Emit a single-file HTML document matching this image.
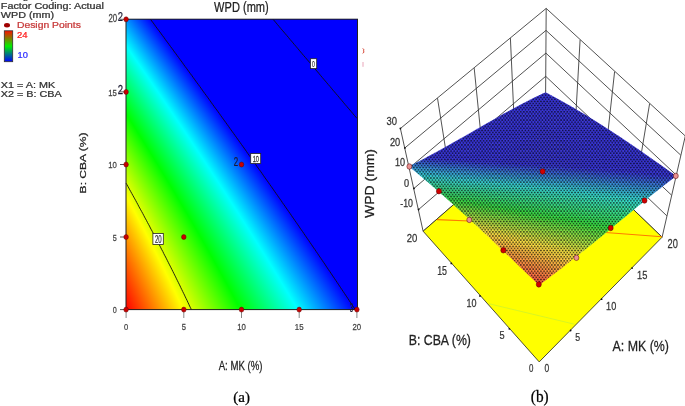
<!DOCTYPE html>
<html><head><meta charset="utf-8"><style>
html,body{margin:0;padding:0;background:#fff}
body{width:685px;height:406px;overflow:hidden;position:relative;font-family:"Liberation Sans",sans-serif;filter:blur(0.35px)}
#f div{position:absolute;left:126px;width:231px;height:1px}
svg{position:absolute;left:0;top:0}
text{stroke-width:.25px}
</style></head><body>
<div id="f">
<div style="top:19px;background:linear-gradient(90deg,#0093ff 0px,#0000ff 24.6px,#0000ff 231.5px)"></div>
<div style="top:20px;background:linear-gradient(90deg,#0097ff 0px,#0000ff 25.4px,#0000ff 231.5px)"></div>
<div style="top:21px;background:linear-gradient(90deg,#009bff 0px,#0000ff 26.1px,#0000ff 231.5px)"></div>
<div style="top:22px;background:linear-gradient(90deg,#009fff 0px,#0000ff 26.9px,#0000ff 231.5px)"></div>
<div style="top:23px;background:linear-gradient(90deg,#00a4ff 0px,#0000ff 27.6px,#0000ff 231.5px)"></div>
<div style="top:24px;background:linear-gradient(90deg,#00a8ff 0px,#0000ff 28.3px,#0000ff 231.5px)"></div>
<div style="top:25px;background:linear-gradient(90deg,#00acff 0px,#0000ff 29.1px,#0000ff 231.5px)"></div>
<div style="top:26px;background:linear-gradient(90deg,#00b0ff 0px,#0000ff 29.8px,#0000ff 231.5px)"></div>
<div style="top:27px;background:linear-gradient(90deg,#00b4ff 0px,#0000ff 30.5px,#0000ff 231.5px)"></div>
<div style="top:28px;background:linear-gradient(90deg,#00b9ff 0px,#0000ff 31.3px,#0000ff 231.5px)"></div>
<div style="top:29px;background:linear-gradient(90deg,#00bdff 0px,#0000ff 32px,#0000ff 231.5px)"></div>
<div style="top:30px;background:linear-gradient(90deg,#00c1ff 0px,#0000ff 32.8px,#0000ff 231.5px)"></div>
<div style="top:31px;background:linear-gradient(90deg,#00c5ff 0px,#0000ff 33.5px,#0000ff 231.5px)"></div>
<div style="top:32px;background:linear-gradient(90deg,#00c9ff 0px,#0000ff 34.2px,#0000ff 231.5px)"></div>
<div style="top:33px;background:linear-gradient(90deg,#00cdff 0px,#0000ff 35px,#0000ff 231.5px)"></div>
<div style="top:34px;background:linear-gradient(90deg,#00d2ff 0px,#0000ff 35.7px,#0000ff 231.5px)"></div>
<div style="top:35px;background:linear-gradient(90deg,#00d6ff 0px,#0000ff 36.4px,#0000ff 231.5px)"></div>
<div style="top:36px;background:linear-gradient(90deg,#00daff 0px,#0000ff 37.2px,#0000ff 231.5px)"></div>
<div style="top:37px;background:linear-gradient(90deg,#00deff 0px,#0000ff 37.9px,#0000ff 231.5px)"></div>
<div style="top:38px;background:linear-gradient(90deg,#00e2ff 0px,#0000ff 38.6px,#0000ff 231.5px)"></div>
<div style="top:39px;background:linear-gradient(90deg,#00e6ff 0px,#0000ff 39.4px,#0000ff 231.5px)"></div>
<div style="top:40px;background:linear-gradient(90deg,#00eaff 0px,#0000ff 40.1px,#0000ff 231.5px)"></div>
<div style="top:41px;background:linear-gradient(90deg,#00eeff 0px,#0000ff 40.9px,#0000ff 231.5px)"></div>
<div style="top:42px;background:linear-gradient(90deg,#00f2ff 0px,#0000ff 41.6px,#0000ff 231.5px)"></div>
<div style="top:43px;background:linear-gradient(90deg,#00f6ff 0px,#0000ff 42.3px,#0000ff 231.5px)"></div>
<div style="top:44px;background:linear-gradient(90deg,#00fbff 0px,#0000ff 43.1px,#0000ff 231.5px)"></div>
<div style="top:45px;background:linear-gradient(90deg,#00ffff 0px,#0000ff 43.8px,#0000ff 231.5px)"></div>
<div style="top:46px;background:linear-gradient(90deg,#00fffb 0px,#00ffff 0.6px,#0000ff 44.5px,#0000ff 231.5px)"></div>
<div style="top:47px;background:linear-gradient(90deg,#00fff7 0px,#00ffff 1.3px,#0000ff 45.3px,#0000ff 231.5px)"></div>
<div style="top:48px;background:linear-gradient(90deg,#00fff3 0px,#00ffff 2px,#0000ff 46px,#0000ff 231.5px)"></div>
<div style="top:49px;background:linear-gradient(90deg,#00ffef 0px,#00ffff 2.7px,#0000ff 46.7px,#0000ff 231.5px)"></div>
<div style="top:50px;background:linear-gradient(90deg,#00ffeb 0px,#00ffff 3.4px,#0000ff 47.5px,#0000ff 231.5px)"></div>
<div style="top:51px;background:linear-gradient(90deg,#00ffe7 0px,#00ffff 4.1px,#0000ff 48.2px,#0000ff 231.5px)"></div>
<div style="top:52px;background:linear-gradient(90deg,#00ffe3 0px,#00ffff 4.8px,#0000ff 48.9px,#0000ff 231.5px)"></div>
<div style="top:53px;background:linear-gradient(90deg,#00ffdf 0px,#00ffff 5.5px,#0000ff 49.7px,#0000ff 231.5px)"></div>
<div style="top:54px;background:linear-gradient(90deg,#00ffdb 0px,#00ffff 6.2px,#0000ff 50.4px,#0000ff 231.5px)"></div>
<div style="top:55px;background:linear-gradient(90deg,#00ffd7 0px,#00ffff 6.9px,#0000ff 51.1px,#0000ff 231.5px)"></div>
<div style="top:56px;background:linear-gradient(90deg,#00ffd3 0px,#00ffff 7.6px,#0000ff 51.9px,#0000ff 231.5px)"></div>
<div style="top:57px;background:linear-gradient(90deg,#00ffd0 0px,#00ffff 8.3px,#0000ff 52.6px,#0000ff 231.5px)"></div>
<div style="top:58px;background:linear-gradient(90deg,#00ffcc 0px,#00ffff 8.9px,#0000ff 53.3px,#0000ff 231.5px)"></div>
<div style="top:59px;background:linear-gradient(90deg,#00ffc8 0px,#00ffff 9.6px,#0000ff 54.1px,#0000ff 231.5px)"></div>
<div style="top:60px;background:linear-gradient(90deg,#00ffc4 0px,#00ffff 10.3px,#0000ff 54.8px,#0000ff 231.5px)"></div>
<div style="top:61px;background:linear-gradient(90deg,#00ffc0 0px,#00ffff 11px,#0000ff 55.5px,#0000ff 231.5px)"></div>
<div style="top:62px;background:linear-gradient(90deg,#00ffbc 0px,#00ffff 11.7px,#0000ff 56.2px,#0000ff 231.5px)"></div>
<div style="top:63px;background:linear-gradient(90deg,#00ffb8 0px,#00ffff 12.4px,#0000ff 57px,#0000ff 231.5px)"></div>
<div style="top:64px;background:linear-gradient(90deg,#00ffb4 0px,#00ffff 13.1px,#0000ff 57.7px,#0000ff 231.5px)"></div>
<div style="top:65px;background:linear-gradient(90deg,#00ffb0 0px,#00ffff 13.8px,#0000ff 58.4px,#0000ff 231.5px)"></div>
<div style="top:66px;background:linear-gradient(90deg,#00ffac 0px,#00ffff 14.5px,#0000ff 59.2px,#0000ff 231.5px)"></div>
<div style="top:67px;background:linear-gradient(90deg,#00ffa9 0px,#00ffff 15.2px,#0000ff 59.9px,#0000ff 231.5px)"></div>
<div style="top:68px;background:linear-gradient(90deg,#00ffa5 0px,#00ffff 15.8px,#0000ff 60.6px,#0000ff 231.5px)"></div>
<div style="top:69px;background:linear-gradient(90deg,#00ffa1 0px,#00ffff 16.5px,#0000ff 61.4px,#0000ff 231.5px)"></div>
<div style="top:70px;background:linear-gradient(90deg,#00ff9d 0px,#00ffff 17.2px,#0000ff 62.1px,#0000ff 231.5px)"></div>
<div style="top:71px;background:linear-gradient(90deg,#00ff99 0px,#00ffff 17.9px,#0000ff 62.8px,#0000ff 231.5px)"></div>
<div style="top:72px;background:linear-gradient(90deg,#00ff95 0px,#00ffff 18.6px,#0000ff 63.5px,#0000ff 231.5px)"></div>
<div style="top:73px;background:linear-gradient(90deg,#00ff92 0px,#00ffff 19.3px,#0000ff 64.3px,#0000ff 231.5px)"></div>
<div style="top:74px;background:linear-gradient(90deg,#00ff8e 0px,#00ffff 20px,#0000ff 65px,#0000ff 231.5px)"></div>
<div style="top:75px;background:linear-gradient(90deg,#00ff8a 0px,#00ffff 20.7px,#0000ff 65.7px,#0000ff 231.5px)"></div>
<div style="top:76px;background:linear-gradient(90deg,#00ff86 0px,#00ffff 21.4px,#0000ff 66.5px,#0000ff 231.5px)"></div>
<div style="top:77px;background:linear-gradient(90deg,#00ff82 0px,#00ffff 22px,#0000ff 67.2px,#0000ff 231.5px)"></div>
<div style="top:78px;background:linear-gradient(90deg,#00ff7f 0px,#00ffff 22.7px,#0000ff 67.9px,#0000ff 231.5px)"></div>
<div style="top:79px;background:linear-gradient(90deg,#00ff7b 0px,#00ffff 23.4px,#0000ff 68.6px,#0000ff 231.5px)"></div>
<div style="top:80px;background:linear-gradient(90deg,#00ff77 0px,#00ffff 24.1px,#0000ff 69.4px,#0000ff 231.5px)"></div>
<div style="top:81px;background:linear-gradient(90deg,#00ff73 0px,#00ffff 24.8px,#0000ff 70.1px,#0000ff 231.5px)"></div>
<div style="top:82px;background:linear-gradient(90deg,#00ff70 0px,#00ffff 25.5px,#0000ff 70.8px,#0000ff 231.5px)"></div>
<div style="top:83px;background:linear-gradient(90deg,#00ff6c 0px,#00ffff 26.2px,#0000ff 71.6px,#0000ff 231.5px)"></div>
<div style="top:84px;background:linear-gradient(90deg,#00ff68 0px,#00ffff 26.8px,#0000ff 72.3px,#0000ff 231.5px)"></div>
<div style="top:85px;background:linear-gradient(90deg,#00ff65 0px,#00ffff 27.5px,#0000ff 73px,#0000ff 231.5px)"></div>
<div style="top:86px;background:linear-gradient(90deg,#00ff61 0px,#00ffff 28.2px,#0000ff 73.7px,#0000ff 231.5px)"></div>
<div style="top:87px;background:linear-gradient(90deg,#00ff5d 0px,#00ffff 28.9px,#0000ff 74.5px,#0000ff 231.5px)"></div>
<div style="top:88px;background:linear-gradient(90deg,#00ff5a 0px,#00ffff 29.6px,#0000ff 75.2px,#0000ff 231.5px)"></div>
<div style="top:89px;background:linear-gradient(90deg,#00ff56 0px,#00ffff 30.3px,#0000ff 75.9px,#0000ff 231.5px)"></div>
<div style="top:90px;background:linear-gradient(90deg,#00ff52 0px,#00ffff 30.9px,#0000ff 76.6px,#0000ff 231.5px)"></div>
<div style="top:91px;background:linear-gradient(90deg,#00ff4f 0px,#00ffff 31.6px,#0000ff 77.4px,#0000ff 231.5px)"></div>
<div style="top:92px;background:linear-gradient(90deg,#00ff4b 0px,#00ffff 32.3px,#0000ff 78.1px,#0000ff 231.5px)"></div>
<div style="top:93px;background:linear-gradient(90deg,#00ff47 0px,#00ffff 33px,#0000ff 78.8px,#0000ff 231.5px)"></div>
<div style="top:94px;background:linear-gradient(90deg,#00ff44 0px,#00ffff 33.7px,#0000ff 79.5px,#0000ff 231.5px)"></div>
<div style="top:95px;background:linear-gradient(90deg,#00ff40 0px,#00ffff 34.4px,#0000ff 80.3px,#0000ff 231.5px)"></div>
<div style="top:96px;background:linear-gradient(90deg,#00ff3d 0px,#00ffff 35px,#0000ff 81px,#0000ff 231.5px)"></div>
<div style="top:97px;background:linear-gradient(90deg,#00ff39 0px,#00ffff 35.7px,#0000ff 81.7px,#0000ff 231.5px)"></div>
<div style="top:98px;background:linear-gradient(90deg,#00ff35 0px,#00ffff 36.4px,#0000ff 82.4px,#0000ff 231.5px)"></div>
<div style="top:99px;background:linear-gradient(90deg,#00ff32 0px,#00ffff 37.1px,#0000ff 83.2px,#0000ff 231.5px)"></div>
<div style="top:100px;background:linear-gradient(90deg,#00ff2e 0px,#00ffff 37.8px,#0000ff 83.9px,#0000ff 231.5px)"></div>
<div style="top:101px;background:linear-gradient(90deg,#00ff2b 0px,#00ffff 38.4px,#0000ff 84.6px,#0000ff 231.5px)"></div>
<div style="top:102px;background:linear-gradient(90deg,#00ff27 0px,#00ffff 39.1px,#0000ff 85.3px,#0000ff 231.5px)"></div>
<div style="top:103px;background:linear-gradient(90deg,#00ff24 0px,#00ffff 39.8px,#0000ff 86px,#0000ff 231.5px)"></div>
<div style="top:104px;background:linear-gradient(90deg,#00ff20 0px,#00ffff 40.5px,#0000ff 86.8px,#0000ff 231.5px)"></div>
<div style="top:105px;background:linear-gradient(90deg,#00ff1c 0px,#00ffff 41.1px,#0000ff 87.5px,#0000ff 231.5px)"></div>
<div style="top:106px;background:linear-gradient(90deg,#00ff19 0px,#00ffff 41.8px,#0000ff 88.2px,#0000ff 231.5px)"></div>
<div style="top:107px;background:linear-gradient(90deg,#00ff15 0px,#00ffff 42.5px,#0000ff 88.9px,#0000ff 231.5px)"></div>
<div style="top:108px;background:linear-gradient(90deg,#00ff12 0px,#00ffff 43.2px,#0000ff 89.7px,#0000ff 231.5px)"></div>
<div style="top:109px;background:linear-gradient(90deg,#00ff0e 0px,#00ffff 43.9px,#0000ff 90.4px,#0000ff 231.5px)"></div>
<div style="top:110px;background:linear-gradient(90deg,#00ff0b 0px,#00ffff 44.5px,#0000ff 91.1px,#0000ff 231.5px)"></div>
<div style="top:111px;background:linear-gradient(90deg,#00ff07 0px,#00ffff 45.2px,#0000ff 91.8px,#0000ff 231.5px)"></div>
<div style="top:112px;background:linear-gradient(90deg,#00ff04 0px,#00ffff 45.9px,#0000ff 92.5px,#0000ff 231.5px)"></div>
<div style="top:113px;background:linear-gradient(90deg,#00ff01 0px,#00ffff 46.6px,#0000ff 93.3px,#0000ff 231.5px)"></div>
<div style="top:114px;background:linear-gradient(90deg,#03ff00 0px,#00ff00 0.5px,#00ffff 47.2px,#0000ff 94px,#0000ff 231.5px)"></div>
<div style="top:115px;background:linear-gradient(90deg,#06ff00 0px,#00ff00 1.2px,#00ffff 47.9px,#0000ff 94.7px,#0000ff 231.5px)"></div>
<div style="top:116px;background:linear-gradient(90deg,#0aff00 0px,#00ff00 1.8px,#00ffff 48.6px,#0000ff 95.4px,#0000ff 231.5px)"></div>
<div style="top:117px;background:linear-gradient(90deg,#0dff00 0px,#00ff00 2.4px,#00ffff 49.3px,#0000ff 96.1px,#0000ff 231.5px)"></div>
<div style="top:118px;background:linear-gradient(90deg,#11ff00 0px,#00ff00 3px,#00ffff 49.9px,#0000ff 96.9px,#0000ff 231.5px)"></div>
<div style="top:119px;background:linear-gradient(90deg,#14ff00 0px,#00ff00 3.7px,#00ffff 50.6px,#0000ff 97.6px,#0000ff 231.5px)"></div>
<div style="top:120px;background:linear-gradient(90deg,#17ff00 0px,#00ff00 4.3px,#00ffff 51.3px,#0000ff 98.3px,#0000ff 231.5px)"></div>
<div style="top:121px;background:linear-gradient(90deg,#1bff00 0px,#00ff00 4.9px,#00ffff 52px,#0000ff 99px,#0000ff 231.5px)"></div>
<div style="top:122px;background:linear-gradient(90deg,#1eff00 0px,#00ff00 5.6px,#00ffff 52.6px,#0000ff 99.7px,#0000ff 231.5px)"></div>
<div style="top:123px;background:linear-gradient(90deg,#22ff00 0px,#00ff00 6.2px,#00ffff 53.3px,#0000ff 100.5px,#0000ff 231.5px)"></div>
<div style="top:124px;background:linear-gradient(90deg,#25ff00 0px,#00ff00 6.8px,#00ffff 54px,#0000ff 101.2px,#0000ff 231.5px)"></div>
<div style="top:125px;background:linear-gradient(90deg,#28ff00 0px,#00ff00 7.4px,#00ffff 54.7px,#0000ff 101.9px,#0000ff 231.5px)"></div>
<div style="top:126px;background:linear-gradient(90deg,#2cff00 0px,#00ff00 8.1px,#00ffff 55.3px,#0000ff 102.6px,#0000ff 231.5px)"></div>
<div style="top:127px;background:linear-gradient(90deg,#2fff00 0px,#00ff00 8.7px,#00ffff 56px,#0000ff 103.3px,#0000ff 231.5px)"></div>
<div style="top:128px;background:linear-gradient(90deg,#32ff00 0px,#00ff00 9.3px,#00ffff 56.7px,#0000ff 104px,#0000ff 231.5px)"></div>
<div style="top:129px;background:linear-gradient(90deg,#36ff00 0px,#00ff00 10px,#00ffff 57.3px,#0000ff 104.8px,#0000ff 231.5px)"></div>
<div style="top:130px;background:linear-gradient(90deg,#39ff00 0px,#00ff00 10.6px,#00ffff 58px,#0000ff 105.5px,#0000ff 231.5px)"></div>
<div style="top:131px;background:linear-gradient(90deg,#3cff00 0px,#00ff00 11.2px,#00ffff 58.7px,#0000ff 106.2px,#0000ff 231.5px)"></div>
<div style="top:132px;background:linear-gradient(90deg,#3fff00 0px,#00ff00 11.8px,#00ffff 59.4px,#0000ff 106.9px,#0000ff 231.5px)"></div>
<div style="top:133px;background:linear-gradient(90deg,#43ff00 0px,#00ff00 12.4px,#00ffff 60px,#0000ff 107.6px,#0000ff 231.5px)"></div>
<div style="top:134px;background:linear-gradient(90deg,#46ff00 0px,#00ff00 13.1px,#00ffff 60.7px,#0000ff 108.3px,#0000ff 231.5px)"></div>
<div style="top:135px;background:linear-gradient(90deg,#49ff00 0px,#00ff00 13.7px,#00ffff 61.4px,#0000ff 109.1px,#0000ff 231.5px)"></div>
<div style="top:136px;background:linear-gradient(90deg,#4dff00 0px,#00ff00 14.3px,#00ffff 62px,#0000ff 109.8px,#0000ff 231.5px)"></div>
<div style="top:137px;background:linear-gradient(90deg,#50ff00 0px,#00ff00 14.9px,#00ffff 62.7px,#0000ff 110.5px,#0000ff 231.5px)"></div>
<div style="top:138px;background:linear-gradient(90deg,#53ff00 0px,#00ff00 15.6px,#00ffff 63.4px,#0000ff 111.2px,#0000ff 231.5px)"></div>
<div style="top:139px;background:linear-gradient(90deg,#56ff00 0px,#00ff00 16.2px,#00ffff 64px,#0000ff 111.9px,#0000ff 231.5px)"></div>
<div style="top:140px;background:linear-gradient(90deg,#59ff00 0px,#00ff00 16.8px,#00ffff 64.7px,#0000ff 112.6px,#0000ff 231.5px)"></div>
<div style="top:141px;background:linear-gradient(90deg,#5dff00 0px,#00ff00 17.4px,#00ffff 65.4px,#0000ff 113.3px,#0000ff 231.5px)"></div>
<div style="top:142px;background:linear-gradient(90deg,#60ff00 0px,#00ff00 18px,#00ffff 66px,#0000ff 114.1px,#0000ff 231.5px)"></div>
<div style="top:143px;background:linear-gradient(90deg,#63ff00 0px,#00ff00 18.7px,#00ffff 66.7px,#0000ff 114.8px,#0000ff 231.5px)"></div>
<div style="top:144px;background:linear-gradient(90deg,#66ff00 0px,#00ff00 19.3px,#00ffff 67.4px,#0000ff 115.5px,#0000ff 231.5px)"></div>
<div style="top:145px;background:linear-gradient(90deg,#69ff00 0px,#00ff00 19.9px,#00ffff 68px,#0000ff 116.2px,#0000ff 231.5px)"></div>
<div style="top:146px;background:linear-gradient(90deg,#6dff00 0px,#00ff00 20.5px,#00ffff 68.7px,#0000ff 116.9px,#0000ff 231.5px)"></div>
<div style="top:147px;background:linear-gradient(90deg,#70ff00 0px,#00ff00 21.1px,#00ffff 69.4px,#0000ff 117.6px,#0000ff 231.5px)"></div>
<div style="top:148px;background:linear-gradient(90deg,#73ff00 0px,#00ff00 21.8px,#00ffff 70px,#0000ff 118.3px,#0000ff 231.5px)"></div>
<div style="top:149px;background:linear-gradient(90deg,#76ff00 0px,#00ff00 22.4px,#00ffff 70.7px,#0000ff 119px,#0000ff 231.5px)"></div>
<div style="top:150px;background:linear-gradient(90deg,#79ff00 0px,#00ff00 23px,#00ffff 71.4px,#0000ff 119.8px,#0000ff 231.5px)"></div>
<div style="top:151px;background:linear-gradient(90deg,#7cff00 0px,#00ff00 23.6px,#00ffff 72px,#0000ff 120.5px,#0000ff 231.5px)"></div>
<div style="top:152px;background:linear-gradient(90deg,#7fff00 0px,#00ff00 24.2px,#00ffff 72.7px,#0000ff 121.2px,#0000ff 231.5px)"></div>
<div style="top:153px;background:linear-gradient(90deg,#83ff00 0px,#00ff00 24.8px,#00ffff 73.3px,#0000ff 121.9px,#0000ff 231.5px)"></div>
<div style="top:154px;background:linear-gradient(90deg,#86ff00 0px,#00ff00 25.4px,#00ffff 74px,#0000ff 122.6px,#0000ff 231.5px)"></div>
<div style="top:155px;background:linear-gradient(90deg,#89ff00 0px,#00ff00 26.1px,#00ffff 74.7px,#0000ff 123.3px,#0000ff 231.5px)"></div>
<div style="top:156px;background:linear-gradient(90deg,#8cff00 0px,#00ff00 26.7px,#00ffff 75.3px,#0000ff 124px,#0000ff 231.5px)"></div>
<div style="top:157px;background:linear-gradient(90deg,#8fff00 0px,#00ff00 27.3px,#00ffff 76px,#0000ff 124.7px,#0000ff 231.5px)"></div>
<div style="top:158px;background:linear-gradient(90deg,#92ff00 0px,#00ff00 27.9px,#00ffff 76.7px,#0000ff 125.4px,#0000ff 231.5px)"></div>
<div style="top:159px;background:linear-gradient(90deg,#95ff00 0px,#00ff00 28.5px,#00ffff 77.3px,#0000ff 126.1px,#0000ff 231.5px)"></div>
<div style="top:160px;background:linear-gradient(90deg,#98ff00 0px,#00ff00 29.1px,#00ffff 78px,#0000ff 126.9px,#0000ff 231.5px)"></div>
<div style="top:161px;background:linear-gradient(90deg,#9bff00 0px,#00ff00 29.7px,#00ffff 78.6px,#0000ff 127.6px,#0000ff 231.5px)"></div>
<div style="top:162px;background:linear-gradient(90deg,#9eff00 0px,#00ff00 30.4px,#00ffff 79.3px,#0000ff 128.3px,#0000ff 231.5px)"></div>
<div style="top:163px;background:linear-gradient(90deg,#a1ff00 0px,#00ff00 31px,#00ffff 80px,#0000ff 129px,#0000ff 231.5px)"></div>
<div style="top:164px;background:linear-gradient(90deg,#a4ff00 0px,#00ff00 31.6px,#00ffff 80.6px,#0000ff 129.7px,#0000ff 231.5px)"></div>
<div style="top:165px;background:linear-gradient(90deg,#a7ff00 0px,#00ff00 32.2px,#00ffff 81.3px,#0000ff 130.4px,#0000ff 231.5px)"></div>
<div style="top:166px;background:linear-gradient(90deg,#aaff00 0px,#00ff00 32.8px,#00ffff 81.9px,#0000ff 131.1px,#0000ff 231.5px)"></div>
<div style="top:167px;background:linear-gradient(90deg,#adff00 0px,#00ff00 33.4px,#00ffff 82.6px,#0000ff 131.8px,#0000ff 231.5px)"></div>
<div style="top:168px;background:linear-gradient(90deg,#b0ff00 0px,#00ff00 34px,#00ffff 83.3px,#0000ff 132.5px,#0000ff 231.5px)"></div>
<div style="top:169px;background:linear-gradient(90deg,#b3ff00 0px,#00ff00 34.6px,#00ffff 83.9px,#0000ff 133.2px,#0000ff 231.5px)"></div>
<div style="top:170px;background:linear-gradient(90deg,#b6ff00 0px,#00ff00 35.2px,#00ffff 84.6px,#0000ff 133.9px,#0000ff 231.5px)"></div>
<div style="top:171px;background:linear-gradient(90deg,#b9ff00 0px,#00ff00 35.8px,#00ffff 85.2px,#0000ff 134.6px,#0000ff 231.5px)"></div>
<div style="top:172px;background:linear-gradient(90deg,#bcff00 0px,#00ff00 36.4px,#00ffff 85.9px,#0000ff 135.3px,#0000ff 231.5px)"></div>
<div style="top:173px;background:linear-gradient(90deg,#bfff00 0px,#00ff00 37px,#00ffff 86.5px,#0000ff 136.1px,#0000ff 231.5px)"></div>
<div style="top:174px;background:linear-gradient(90deg,#c2ff00 0px,#00ff00 37.6px,#00ffff 87.2px,#0000ff 136.8px,#0000ff 231.5px)"></div>
<div style="top:175px;background:linear-gradient(90deg,#c5ff00 0px,#00ff00 38.3px,#00ffff 87.8px,#0000ff 137.5px,#0000ff 231.5px)"></div>
<div style="top:176px;background:linear-gradient(90deg,#c8ff00 0px,#00ff00 38.9px,#00ffff 88.5px,#0000ff 138.2px,#0000ff 231.5px)"></div>
<div style="top:177px;background:linear-gradient(90deg,#cbff00 0px,#00ff00 39.5px,#00ffff 89.2px,#0000ff 138.9px,#0000ff 231.5px)"></div>
<div style="top:178px;background:linear-gradient(90deg,#ceff00 0px,#00ff00 40.1px,#00ffff 89.8px,#0000ff 139.6px,#0000ff 231.5px)"></div>
<div style="top:179px;background:linear-gradient(90deg,#d0ff00 0px,#00ff00 40.7px,#00ffff 90.5px,#0000ff 140.3px,#0000ff 231.5px)"></div>
<div style="top:180px;background:linear-gradient(90deg,#d3ff00 0px,#00ff00 41.3px,#00ffff 91.1px,#0000ff 141px,#0000ff 231.5px)"></div>
<div style="top:181px;background:linear-gradient(90deg,#d6ff00 0px,#00ff00 41.9px,#00ffff 91.8px,#0000ff 141.7px,#0000ff 231.5px)"></div>
<div style="top:182px;background:linear-gradient(90deg,#d9ff00 0px,#00ff00 42.5px,#00ffff 92.4px,#0000ff 142.4px,#0000ff 231.5px)"></div>
<div style="top:183px;background:linear-gradient(90deg,#dcff00 0px,#00ff00 43.1px,#00ffff 93.1px,#0000ff 143.1px,#0000ff 231.5px)"></div>
<div style="top:184px;background:linear-gradient(90deg,#dfff00 0px,#00ff00 43.7px,#00ffff 93.7px,#0000ff 143.8px,#0000ff 231.5px)"></div>
<div style="top:185px;background:linear-gradient(90deg,#e2ff00 0px,#00ff00 44.3px,#00ffff 94.4px,#0000ff 144.5px,#0000ff 231.5px)"></div>
<div style="top:186px;background:linear-gradient(90deg,#e4ff00 0px,#00ff00 44.9px,#00ffff 95px,#0000ff 145.2px,#0000ff 231.5px)"></div>
<div style="top:187px;background:linear-gradient(90deg,#e7ff00 0px,#00ff00 45.5px,#00ffff 95.7px,#0000ff 145.9px,#0000ff 231.5px)"></div>
<div style="top:188px;background:linear-gradient(90deg,#eaff00 0px,#00ff00 46.1px,#00ffff 96.3px,#0000ff 146.6px,#0000ff 231.5px)"></div>
<div style="top:189px;background:linear-gradient(90deg,#edff00 0px,#00ff00 46.7px,#00ffff 97px,#0000ff 147.3px,#0000ff 231.5px)"></div>
<div style="top:190px;background:linear-gradient(90deg,#f0ff00 0px,#00ff00 47.3px,#00ffff 97.6px,#0000ff 148px,#0000ff 231.5px)"></div>
<div style="top:191px;background:linear-gradient(90deg,#f2ff00 0px,#00ff00 47.9px,#00ffff 98.3px,#0000ff 148.7px,#0000ff 231.5px)"></div>
<div style="top:192px;background:linear-gradient(90deg,#f5ff00 0px,#00ff00 48.5px,#00ffff 98.9px,#0000ff 149.4px,#0000ff 231.5px)"></div>
<div style="top:193px;background:linear-gradient(90deg,#f8ff00 0px,#00ff00 49.1px,#00ffff 99.6px,#0000ff 150.1px,#0000ff 231.5px)"></div>
<div style="top:194px;background:linear-gradient(90deg,#fbff00 0px,#00ff00 49.7px,#00ffff 100.2px,#0000ff 150.8px,#0000ff 231.5px)"></div>
<div style="top:195px;background:linear-gradient(90deg,#fdff00 0px,#00ff00 50.3px,#00ffff 100.9px,#0000ff 151.5px,#0000ff 231.5px)"></div>
<div style="top:196px;background:linear-gradient(90deg,#fffe00 0px,#ffff00 0.2px,#00ff00 50.9px,#00ffff 101.5px,#0000ff 152.2px,#0000ff 231.5px)"></div>
<div style="top:197px;background:linear-gradient(90deg,#fffb00 0px,#ffff00 0.8px,#00ff00 51.4px,#00ffff 102.2px,#0000ff 152.9px,#0000ff 231.5px)"></div>
<div style="top:198px;background:linear-gradient(90deg,#fff800 0px,#ffff00 1.3px,#00ff00 52px,#00ffff 102.8px,#0000ff 153.6px,#0000ff 231.5px)"></div>
<div style="top:199px;background:linear-gradient(90deg,#fff600 0px,#ffff00 1.8px,#00ff00 52.6px,#00ffff 103.5px,#0000ff 154.3px,#0000ff 231.5px)"></div>
<div style="top:200px;background:linear-gradient(90deg,#fff300 0px,#ffff00 2.4px,#00ff00 53.2px,#00ffff 104.1px,#0000ff 155px,#0000ff 231.5px)"></div>
<div style="top:201px;background:linear-gradient(90deg,#fff000 0px,#ffff00 2.9px,#00ff00 53.8px,#00ffff 104.7px,#0000ff 155.7px,#0000ff 231.5px)"></div>
<div style="top:202px;background:linear-gradient(90deg,#ffee00 0px,#ffff00 3.5px,#00ff00 54.4px,#00ffff 105.4px,#0000ff 156.4px,#0000ff 231.5px)"></div>
<div style="top:203px;background:linear-gradient(90deg,#ffeb00 0px,#ffff00 4px,#00ff00 55px,#00ffff 106px,#0000ff 157.1px,#0000ff 231.5px)"></div>
<div style="top:204px;background:linear-gradient(90deg,#ffe800 0px,#ffff00 4.5px,#00ff00 55.6px,#00ffff 106.7px,#0000ff 157.8px,#0000ff 231.5px)"></div>
<div style="top:205px;background:linear-gradient(90deg,#ffe600 0px,#ffff00 5.1px,#00ff00 56.2px,#00ffff 107.3px,#0000ff 158.5px,#0000ff 231.5px)"></div>
<div style="top:206px;background:linear-gradient(90deg,#ffe300 0px,#ffff00 5.6px,#00ff00 56.8px,#00ffff 108px,#0000ff 159.2px,#0000ff 231.5px)"></div>
<div style="top:207px;background:linear-gradient(90deg,#ffe000 0px,#ffff00 6.1px,#00ff00 57.4px,#00ffff 108.6px,#0000ff 159.9px,#0000ff 231.5px)"></div>
<div style="top:208px;background:linear-gradient(90deg,#ffde00 0px,#ffff00 6.7px,#00ff00 58px,#00ffff 109.2px,#0000ff 160.6px,#0000ff 231.5px)"></div>
<div style="top:209px;background:linear-gradient(90deg,#ffdb00 0px,#ffff00 7.2px,#00ff00 58.5px,#00ffff 109.9px,#0000ff 161.3px,#0000ff 231.5px)"></div>
<div style="top:210px;background:linear-gradient(90deg,#ffd800 0px,#ffff00 7.8px,#00ff00 59.1px,#00ffff 110.5px,#0000ff 162px,#0000ff 231.5px)"></div>
<div style="top:211px;background:linear-gradient(90deg,#ffd600 0px,#ffff00 8.3px,#00ff00 59.7px,#00ffff 111.2px,#0000ff 162.7px,#0000ff 231.5px)"></div>
<div style="top:212px;background:linear-gradient(90deg,#ffd300 0px,#ffff00 8.8px,#00ff00 60.3px,#00ffff 111.8px,#0000ff 163.4px,#0000ff 231.5px)"></div>
<div style="top:213px;background:linear-gradient(90deg,#ffd100 0px,#ffff00 9.4px,#00ff00 60.9px,#00ffff 112.5px,#0000ff 164px,#0000ff 231.5px)"></div>
<div style="top:214px;background:linear-gradient(90deg,#ffce00 0px,#ffff00 9.9px,#00ff00 61.5px,#00ffff 113.1px,#0000ff 164.7px,#0000ff 231.5px)"></div>
<div style="top:215px;background:linear-gradient(90deg,#ffcc00 0px,#ffff00 10.4px,#00ff00 62.1px,#00ffff 113.7px,#0000ff 165.4px,#0000ff 231.5px)"></div>
<div style="top:216px;background:linear-gradient(90deg,#ffc900 0px,#ffff00 10.9px,#00ff00 62.6px,#00ffff 114.4px,#0000ff 166.1px,#0000ff 231.5px)"></div>
<div style="top:217px;background:linear-gradient(90deg,#ffc600 0px,#ffff00 11.5px,#00ff00 63.2px,#00ffff 115px,#0000ff 166.8px,#0000ff 231.5px)"></div>
<div style="top:218px;background:linear-gradient(90deg,#ffc400 0px,#ffff00 12px,#00ff00 63.8px,#00ffff 115.6px,#0000ff 167.5px,#0000ff 231.5px)"></div>
<div style="top:219px;background:linear-gradient(90deg,#ffc100 0px,#ffff00 12.5px,#00ff00 64.4px,#00ffff 116.3px,#0000ff 168.2px,#0000ff 231.5px)"></div>
<div style="top:220px;background:linear-gradient(90deg,#ffbf00 0px,#ffff00 13.1px,#00ff00 65px,#00ffff 116.9px,#0000ff 168.9px,#0000ff 231.5px)"></div>
<div style="top:221px;background:linear-gradient(90deg,#ffbc00 0px,#ffff00 13.6px,#00ff00 65.6px,#00ffff 117.6px,#0000ff 169.6px,#0000ff 231.5px)"></div>
<div style="top:222px;background:linear-gradient(90deg,#ffba00 0px,#ffff00 14.1px,#00ff00 66.1px,#00ffff 118.2px,#0000ff 170.3px,#0000ff 231.5px)"></div>
<div style="top:223px;background:linear-gradient(90deg,#ffb700 0px,#ffff00 14.6px,#00ff00 66.7px,#00ffff 118.8px,#0000ff 171px,#0000ff 231.5px)"></div>
<div style="top:224px;background:linear-gradient(90deg,#ffb500 0px,#ffff00 15.2px,#00ff00 67.3px,#00ffff 119.5px,#0000ff 171.7px,#0000ff 231.5px)"></div>
<div style="top:225px;background:linear-gradient(90deg,#ffb200 0px,#ffff00 15.7px,#00ff00 67.9px,#00ffff 120.1px,#0000ff 172.4px,#0000ff 231.5px)"></div>
<div style="top:226px;background:linear-gradient(90deg,#ffb000 0px,#ffff00 16.2px,#00ff00 68.5px,#00ffff 120.7px,#0000ff 173px,#0000ff 231.5px)"></div>
<div style="top:227px;background:linear-gradient(90deg,#ffad00 0px,#ffff00 16.7px,#00ff00 69px,#00ffff 121.4px,#0000ff 173.7px,#0000ff 231.5px)"></div>
<div style="top:228px;background:linear-gradient(90deg,#ffab00 0px,#ffff00 17.3px,#00ff00 69.6px,#00ffff 122px,#0000ff 174.4px,#0000ff 231.5px)"></div>
<div style="top:229px;background:linear-gradient(90deg,#ffa800 0px,#ffff00 17.8px,#00ff00 70.2px,#00ffff 122.6px,#0000ff 175.1px,#0000ff 231.5px)"></div>
<div style="top:230px;background:linear-gradient(90deg,#ffa600 0px,#ffff00 18.3px,#00ff00 70.8px,#00ffff 123.3px,#0000ff 175.8px,#0000ff 231.5px)"></div>
<div style="top:231px;background:linear-gradient(90deg,#ffa400 0px,#ffff00 18.8px,#00ff00 71.3px,#00ffff 123.9px,#0000ff 176.5px,#0000ff 231.5px)"></div>
<div style="top:232px;background:linear-gradient(90deg,#ffa100 0px,#ffff00 19.3px,#00ff00 71.9px,#00ffff 124.5px,#0000ff 177.2px,#0000ff 231.5px)"></div>
<div style="top:233px;background:linear-gradient(90deg,#ff9f00 0px,#ffff00 19.9px,#00ff00 72.5px,#00ffff 125.2px,#0000ff 177.9px,#0000ff 231.5px)"></div>
<div style="top:234px;background:linear-gradient(90deg,#ff9c00 0px,#ffff00 20.4px,#00ff00 73.1px,#00ffff 125.8px,#0000ff 178.6px,#0000ff 231.5px)"></div>
<div style="top:235px;background:linear-gradient(90deg,#ff9a00 0px,#ffff00 20.9px,#00ff00 73.6px,#00ffff 126.4px,#0000ff 179.2px,#0000ff 231.5px)"></div>
<div style="top:236px;background:linear-gradient(90deg,#ff9800 0px,#ffff00 21.4px,#00ff00 74.2px,#00ffff 127.1px,#0000ff 179.9px,#0000ff 231.5px)"></div>
<div style="top:237px;background:linear-gradient(90deg,#ff9500 0px,#ffff00 21.9px,#00ff00 74.8px,#00ffff 127.7px,#0000ff 180.6px,#0000ff 231.5px)"></div>
<div style="top:238px;background:linear-gradient(90deg,#ff9300 0px,#ffff00 22.4px,#00ff00 75.4px,#00ffff 128.3px,#0000ff 181.3px,#0000ff 231.5px)"></div>
<div style="top:239px;background:linear-gradient(90deg,#ff9000 0px,#ffff00 23px,#00ff00 75.9px,#00ffff 128.9px,#0000ff 182px,#0000ff 231.5px)"></div>
<div style="top:240px;background:linear-gradient(90deg,#ff8e00 0px,#ffff00 23.5px,#00ff00 76.5px,#00ffff 129.6px,#0000ff 182.7px,#0000ff 231.5px)"></div>
<div style="top:241px;background:linear-gradient(90deg,#ff8c00 0px,#ffff00 24px,#00ff00 77.1px,#00ffff 130.2px,#0000ff 183.4px,#0000ff 231.5px)"></div>
<div style="top:242px;background:linear-gradient(90deg,#ff8900 0px,#ffff00 24.5px,#00ff00 77.6px,#00ffff 130.8px,#0000ff 184px,#0000ff 231.5px)"></div>
<div style="top:243px;background:linear-gradient(90deg,#ff8700 0px,#ffff00 25px,#00ff00 78.2px,#00ffff 131.5px,#0000ff 184.7px,#0000ff 231.5px)"></div>
<div style="top:244px;background:linear-gradient(90deg,#ff8500 0px,#ffff00 25.5px,#00ff00 78.8px,#00ffff 132.1px,#0000ff 185.4px,#0000ff 231.5px)"></div>
<div style="top:245px;background:linear-gradient(90deg,#ff8200 0px,#ffff00 26px,#00ff00 79.4px,#00ffff 132.7px,#0000ff 186.1px,#0000ff 231.5px)"></div>
<div style="top:246px;background:linear-gradient(90deg,#ff8000 0px,#ffff00 26.5px,#00ff00 79.9px,#00ffff 133.3px,#0000ff 186.8px,#0000ff 231.5px)"></div>
<div style="top:247px;background:linear-gradient(90deg,#ff7e00 0px,#ffff00 27.1px,#00ff00 80.5px,#00ffff 134px,#0000ff 187.5px,#0000ff 231.5px)"></div>
<div style="top:248px;background:linear-gradient(90deg,#ff7c00 0px,#ffff00 27.6px,#00ff00 81.1px,#00ffff 134.6px,#0000ff 188.2px,#0000ff 231.5px)"></div>
<div style="top:249px;background:linear-gradient(90deg,#ff7900 0px,#ffff00 28.1px,#00ff00 81.6px,#00ffff 135.2px,#0000ff 188.8px,#0000ff 231.5px)"></div>
<div style="top:250px;background:linear-gradient(90deg,#ff7700 0px,#ffff00 28.6px,#00ff00 82.2px,#00ffff 135.8px,#0000ff 189.5px,#0000ff 231.5px)"></div>
<div style="top:251px;background:linear-gradient(90deg,#ff7500 0px,#ffff00 29.1px,#00ff00 82.8px,#00ffff 136.5px,#0000ff 190.2px,#0000ff 231.5px)"></div>
<div style="top:252px;background:linear-gradient(90deg,#ff7300 0px,#ffff00 29.6px,#00ff00 83.3px,#00ffff 137.1px,#0000ff 190.9px,#0000ff 231.5px)"></div>
<div style="top:253px;background:linear-gradient(90deg,#ff7000 0px,#ffff00 30.1px,#00ff00 83.9px,#00ffff 137.7px,#0000ff 191.6px,#0000ff 231.5px)"></div>
<div style="top:254px;background:linear-gradient(90deg,#ff6e00 0px,#ffff00 30.6px,#00ff00 84.4px,#00ffff 138.3px,#0000ff 192.2px,#0000ff 231.5px)"></div>
<div style="top:255px;background:linear-gradient(90deg,#ff6c00 0px,#ffff00 31.1px,#00ff00 85px,#00ffff 138.9px,#0000ff 192.9px,#0000ff 231.5px)"></div>
<div style="top:256px;background:linear-gradient(90deg,#ff6a00 0px,#ffff00 31.6px,#00ff00 85.6px,#00ffff 139.6px,#0000ff 193.6px,#0000ff 231.5px)"></div>
<div style="top:257px;background:linear-gradient(90deg,#ff6700 0px,#ffff00 32.1px,#00ff00 86.1px,#00ffff 140.2px,#0000ff 194.3px,#0000ff 231.5px)"></div>
<div style="top:258px;background:linear-gradient(90deg,#ff6500 0px,#ffff00 32.6px,#00ff00 86.7px,#00ffff 140.8px,#0000ff 195px,#0000ff 231.5px)"></div>
<div style="top:259px;background:linear-gradient(90deg,#ff6300 0px,#ffff00 33.1px,#00ff00 87.2px,#00ffff 141.4px,#0000ff 195.6px,#0000ff 231.5px)"></div>
<div style="top:260px;background:linear-gradient(90deg,#ff6100 0px,#ffff00 33.6px,#00ff00 87.8px,#00ffff 142px,#0000ff 196.3px,#0000ff 231.5px)"></div>
<div style="top:261px;background:linear-gradient(90deg,#ff5f00 0px,#ffff00 34.1px,#00ff00 88.4px,#00ffff 142.7px,#0000ff 197px,#0000ff 231.5px)"></div>
<div style="top:262px;background:linear-gradient(90deg,#ff5c00 0px,#ffff00 34.6px,#00ff00 88.9px,#00ffff 143.3px,#0000ff 197.7px,#0000ff 231.5px)"></div>
<div style="top:263px;background:linear-gradient(90deg,#ff5a00 0px,#ffff00 35.1px,#00ff00 89.5px,#00ffff 143.9px,#0000ff 198.4px,#0000ff 231.5px)"></div>
<div style="top:264px;background:linear-gradient(90deg,#ff5800 0px,#ffff00 35.6px,#00ff00 90px,#00ffff 144.5px,#0000ff 199px,#0000ff 231.5px)"></div>
<div style="top:265px;background:linear-gradient(90deg,#ff5600 0px,#ffff00 36.1px,#00ff00 90.6px,#00ffff 145.1px,#0000ff 199.7px,#0000ff 231.5px)"></div>
<div style="top:266px;background:linear-gradient(90deg,#ff5400 0px,#ffff00 36.6px,#00ff00 91.2px,#00ffff 145.7px,#0000ff 200.4px,#0000ff 231.5px)"></div>
<div style="top:267px;background:linear-gradient(90deg,#ff5200 0px,#ffff00 37.1px,#00ff00 91.7px,#00ffff 146.4px,#0000ff 201.1px,#0000ff 231.5px)"></div>
<div style="top:268px;background:linear-gradient(90deg,#ff5000 0px,#ffff00 37.6px,#00ff00 92.3px,#00ffff 147px,#0000ff 201.7px,#0000ff 231.5px)"></div>
<div style="top:269px;background:linear-gradient(90deg,#ff4e00 0px,#ffff00 38.1px,#00ff00 92.8px,#00ffff 147.6px,#0000ff 202.4px,#0000ff 231.5px)"></div>
<div style="top:270px;background:linear-gradient(90deg,#ff4b00 0px,#ffff00 38.6px,#00ff00 93.4px,#00ffff 148.2px,#0000ff 203.1px,#0000ff 231.5px)"></div>
<div style="top:271px;background:linear-gradient(90deg,#ff4900 0px,#ffff00 39.1px,#00ff00 93.9px,#00ffff 148.8px,#0000ff 203.8px,#0000ff 231.5px)"></div>
<div style="top:272px;background:linear-gradient(90deg,#ff4700 0px,#ffff00 39.5px,#00ff00 94.5px,#00ffff 149.4px,#0000ff 204.4px,#0000ff 231.5px)"></div>
<div style="top:273px;background:linear-gradient(90deg,#ff4500 0px,#ffff00 40px,#00ff00 95px,#00ffff 150px,#0000ff 205.1px,#0000ff 231.5px)"></div>
<div style="top:274px;background:linear-gradient(90deg,#ff4300 0px,#ffff00 40.5px,#00ff00 95.6px,#00ffff 150.7px,#0000ff 205.8px,#0000ff 231.5px)"></div>
<div style="top:275px;background:linear-gradient(90deg,#ff4100 0px,#ffff00 41px,#00ff00 96.1px,#00ffff 151.3px,#0000ff 206.5px,#0000ff 231.5px)"></div>
<div style="top:276px;background:linear-gradient(90deg,#ff3f00 0px,#ffff00 41.5px,#00ff00 96.7px,#00ffff 151.9px,#0000ff 207.1px,#0000ff 231.5px)"></div>
<div style="top:277px;background:linear-gradient(90deg,#ff3d00 0px,#ffff00 42px,#00ff00 97.2px,#00ffff 152.5px,#0000ff 207.8px,#0000ff 231.5px)"></div>
<div style="top:278px;background:linear-gradient(90deg,#ff3b00 0px,#ffff00 42.5px,#00ff00 97.8px,#00ffff 153.1px,#0000ff 208.5px,#0000ff 231.5px)"></div>
<div style="top:279px;background:linear-gradient(90deg,#ff3900 0px,#ffff00 43px,#00ff00 98.3px,#00ffff 153.7px,#0000ff 209.2px,#0000ff 231.5px)"></div>
<div style="top:280px;background:linear-gradient(90deg,#ff3700 0px,#ffff00 43.4px,#00ff00 98.9px,#00ffff 154.3px,#0000ff 209.8px,#0000ff 231.5px)"></div>
<div style="top:281px;background:linear-gradient(90deg,#ff3500 0px,#ffff00 43.9px,#00ff00 99.4px,#00ffff 154.9px,#0000ff 210.5px,#0000ff 231.5px)"></div>
<div style="top:282px;background:linear-gradient(90deg,#ff3300 0px,#ffff00 44.4px,#00ff00 100px,#00ffff 155.5px,#0000ff 211.2px,#0000ff 231.5px)"></div>
<div style="top:283px;background:linear-gradient(90deg,#ff3100 0px,#ffff00 44.9px,#00ff00 100.5px,#00ffff 156.1px,#0000ff 211.8px,#0000ff 231.5px)"></div>
<div style="top:284px;background:linear-gradient(90deg,#ff2f00 0px,#ffff00 45.4px,#00ff00 101px,#00ffff 156.8px,#0000ff 212.5px,#0000ff 231.5px)"></div>
<div style="top:285px;background:linear-gradient(90deg,#ff2d00 0px,#ffff00 45.8px,#00ff00 101.6px,#00ffff 157.4px,#0000ff 213.2px,#0000ff 231.5px)"></div>
<div style="top:286px;background:linear-gradient(90deg,#ff2b00 0px,#ffff00 46.3px,#00ff00 102.1px,#00ffff 158px,#0000ff 213.8px,#0000ff 231.5px)"></div>
<div style="top:287px;background:linear-gradient(90deg,#ff2900 0px,#ffff00 46.8px,#00ff00 102.7px,#00ffff 158.6px,#0000ff 214.5px,#0000ff 231.5px)"></div>
<div style="top:288px;background:linear-gradient(90deg,#ff2700 0px,#ffff00 47.3px,#00ff00 103.2px,#00ffff 159.2px,#0000ff 215.2px,#0000ff 231.5px)"></div>
<div style="top:289px;background:linear-gradient(90deg,#ff2500 0px,#ffff00 47.8px,#00ff00 103.8px,#00ffff 159.8px,#0000ff 215.8px,#0000ff 231.5px)"></div>
<div style="top:290px;background:linear-gradient(90deg,#ff2300 0px,#ffff00 48.2px,#00ff00 104.3px,#00ffff 160.4px,#0000ff 216.5px,#0000ff 231.5px)"></div>
<div style="top:291px;background:linear-gradient(90deg,#ff2100 0px,#ffff00 48.7px,#00ff00 104.8px,#00ffff 161px,#0000ff 217.2px,#0000ff 231.5px)"></div>
<div style="top:292px;background:linear-gradient(90deg,#ff2000 0px,#ffff00 49.2px,#00ff00 105.4px,#00ffff 161.6px,#0000ff 217.9px,#0000ff 231.5px)"></div>
<div style="top:293px;background:linear-gradient(90deg,#ff1e00 0px,#ffff00 49.7px,#00ff00 105.9px,#00ffff 162.2px,#0000ff 218.5px,#0000ff 231.5px)"></div>
<div style="top:294px;background:linear-gradient(90deg,#ff1c00 0px,#ffff00 50.1px,#00ff00 106.4px,#00ffff 162.8px,#0000ff 219.2px,#0000ff 231.5px)"></div>
<div style="top:295px;background:linear-gradient(90deg,#ff1a00 0px,#ffff00 50.6px,#00ff00 107px,#00ffff 163.4px,#0000ff 219.8px,#0000ff 231.5px)"></div>
<div style="top:296px;background:linear-gradient(90deg,#ff1800 0px,#ffff00 51.1px,#00ff00 107.5px,#00ffff 164px,#0000ff 220.5px,#0000ff 231.5px)"></div>
<div style="top:297px;background:linear-gradient(90deg,#ff1600 0px,#ffff00 51.5px,#00ff00 108.1px,#00ffff 164.6px,#0000ff 221.2px,#0000ff 231.5px)"></div>
<div style="top:298px;background:linear-gradient(90deg,#ff1400 0px,#ffff00 52px,#00ff00 108.6px,#00ffff 165.2px,#0000ff 221.8px,#0000ff 231.5px)"></div>
<div style="top:299px;background:linear-gradient(90deg,#ff1300 0px,#ffff00 52.5px,#00ff00 109.1px,#00ffff 165.8px,#0000ff 222.5px,#0000ff 231.5px)"></div>
<div style="top:300px;background:linear-gradient(90deg,#ff1100 0px,#ffff00 53px,#00ff00 109.7px,#00ffff 166.4px,#0000ff 223.2px,#0000ff 231.5px)"></div>
<div style="top:301px;background:linear-gradient(90deg,#ff0f00 0px,#ffff00 53.4px,#00ff00 110.2px,#00ffff 167px,#0000ff 223.8px,#0000ff 231.5px)"></div>
<div style="top:302px;background:linear-gradient(90deg,#ff0d00 0px,#ffff00 53.9px,#00ff00 110.7px,#00ffff 167.6px,#0000ff 224.5px,#0000ff 231.5px)"></div>
<div style="top:303px;background:linear-gradient(90deg,#ff0b00 0px,#ffff00 54.4px,#00ff00 111.2px,#00ffff 168.2px,#0000ff 225.2px,#0000ff 231.5px)"></div>
<div style="top:304px;background:linear-gradient(90deg,#ff0900 0px,#ffff00 54.8px,#00ff00 111.8px,#00ffff 168.8px,#0000ff 225.8px,#0000ff 231.5px)"></div>
<div style="top:305px;background:linear-gradient(90deg,#ff0800 0px,#ffff00 55.3px,#00ff00 112.3px,#00ffff 169.4px,#0000ff 226.5px,#0000ff 231.5px)"></div>
<div style="top:306px;background:linear-gradient(90deg,#ff0600 0px,#ffff00 55.7px,#00ff00 112.8px,#00ffff 170px,#0000ff 227.1px,#0000ff 231.5px)"></div>
<div style="top:307px;background:linear-gradient(90deg,#ff0400 0px,#ffff00 56.2px,#00ff00 113.4px,#00ffff 170.6px,#0000ff 227.8px,#0000ff 231.5px)"></div>
<div style="top:308px;background:linear-gradient(90deg,#ff0200 0px,#ffff00 56.7px,#00ff00 113.9px,#00ffff 171.2px,#0000ff 228.5px,#0000ff 231.5px)"></div>
<div style="top:309px;background:linear-gradient(90deg,#ff0100 0px,#ffff00 57.1px,#00ff00 114.4px,#00ffff 171.8px,#0000ff 229.1px,#0000ff 231.5px)"></div>
</div>
<svg width="685" height="406" viewBox="0 0 685 406" font-family="Liberation Sans, sans-serif">
<text transform="translate(0.8 -0.9) scale(1.2 1)" font-size="9" fill="#333" stroke="#333">Design-Expert® Software</text>
<text transform="translate(0.8 8.7) scale(1.2 1)" font-size="9" fill="#333" stroke="#333">Factor Coding: Actual</text>
<text transform="translate(0.8 18.4) scale(1.2 1)" font-size="9" fill="#333" stroke="#333">WPD (mm)</text>
<ellipse cx="7" cy="25.3" rx="3" ry="2.2" fill="#a00000"/>
<text transform="translate(16.9 28.1) scale(1.237 1)" font-size="8.4" fill="#c83c3c" stroke="#c83c3c">Design Points</text>
<defs><linearGradient id="cb" x1="0" y1="0" x2="0" y2="1"><stop offset="0" stop-color="#ff1000"/><stop offset="0.5" stop-color="#00f000"/><stop offset="1" stop-color="#0000ff"/></linearGradient></defs>
<rect x="4.3" y="30.8" width="8.4" height="30.9" fill="url(#cb)" stroke="#303030" stroke-width="0.8"/>
<text transform="translate(16.9 38.2) scale(1.104 1)" font-size="8.6" fill="#ff2020" stroke="#ff2020">24</text>
<text transform="translate(17.5 57.7) scale(1.12 1)" font-size="8.3" fill="#3030ff" stroke="#3030ff">10</text>
<text transform="translate(0.8 87.8) scale(1.2 1)" font-size="9" fill="#333" stroke="#333">X1 = A: MK</text>
<text transform="translate(0.8 97.3) scale(1.2 1)" font-size="9" fill="#333" stroke="#333">X2 = B: CBA</text>
<path d="M191.4 309.6 L190.5 307.8 L189.6 306 L188.8 304.2 L187.9 302.3 L187.1 300.5 L186.2 298.7 L185.3 296.9 L184.5 295.1 L183.6 293.3 L182.7 291.5 L181.8 289.6 L180.9 287.8 L180.1 286 L179.2 284.2 L178.3 282.4 L177.4 280.6 L176.5 278.8 L175.6 276.9 L174.7 275.1 L173.8 273.3 L172.9 271.5 L172 269.7 L171.1 267.9 L170.2 266.1 L169.2 264.2 L168.3 262.4 L167.4 260.6 L166.5 258.8 L165.6 257 L164.6 255.2 L163.7 253.4 L162.8 251.5 L161.8 249.7 L160.9 247.9 L160 246.1 L159 244.3 L158.1 242.5 L157.1 240.7 L156.2 238.8 L155.2 237 L154.3 235.2 L153.3 233.4 L152.4 231.6 L151.4 229.8 L150.4 228 L149.5 226.1 L148.5 224.3 L147.5 222.5 L146.6 220.7 L145.6 218.9 L144.6 217.1 L143.7 215.3 L142.7 213.4 L141.7 211.6 L140.7 209.8 L139.7 208 L138.7 206.2 L137.8 204.4 L136.8 202.6 L135.8 200.7 L134.8 198.9 L133.8 197.1 L132.8 195.3 L131.8 193.5 L130.8 191.7 L129.8 189.9 L128.8 188 L127.8 186.2 L126.8 184.4 L126.1 183.2" fill="none" stroke="#101010" stroke-width="0.9"/>
<path d="M355.2 309.6 L354 307.8 L352.8 306 L351.6 304.2 L350.4 302.3 L349.2 300.5 L348 298.7 L346.8 296.9 L345.6 295.1 L344.4 293.3 L343.2 291.5 L341.9 289.6 L340.7 287.8 L339.5 286 L338.3 284.2 L337.1 282.4 L335.9 280.6 L334.7 278.8 L333.4 276.9 L332.2 275.1 L331 273.3 L329.8 271.5 L328.5 269.7 L327.3 267.9 L326.1 266.1 L324.9 264.2 L323.6 262.4 L322.4 260.6 L321.2 258.8 L319.9 257 L318.7 255.2 L317.5 253.4 L316.2 251.5 L315 249.7 L313.7 247.9 L312.5 246.1 L311.3 244.3 L310 242.5 L308.8 240.7 L307.5 238.8 L306.3 237 L305 235.2 L303.8 233.4 L302.6 231.6 L301.3 229.8 L300 228 L298.8 226.1 L297.5 224.3 L296.3 222.5 L295 220.7 L293.8 218.9 L292.5 217.1 L291.3 215.3 L290 213.4 L288.7 211.6 L287.5 209.8 L286.2 208 L285 206.2 L283.7 204.4 L282.4 202.6 L281.2 200.7 L279.9 198.9 L278.6 197.1 L277.4 195.3 L276.1 193.5 L274.8 191.7 L273.6 189.9 L272.3 188 L271 186.2 L269.7 184.4 L268.5 182.6 L267.2 180.8 L265.9 179 L264.6 177.2 L263.3 175.3 L262.1 173.5 L260.8 171.7 L259.5 169.9 L258.2 168.1 L256.9 166.3 L255.7 164.5 L254.4 162.6 L253.1 160.8 L251.8 159 L250.5 157.2 L249.2 155.4 L247.9 153.6 L246.6 151.7 L245.4 149.9 L244.1 148.1 L242.8 146.3 L241.5 144.5 L240.2 142.7 L238.9 140.9 L237.6 139 L236.3 137.2 L235 135.4 L233.7 133.6 L232.4 131.8 L231.1 130 L229.8 128.2 L228.5 126.3 L227.2 124.5 L225.9 122.7 L224.6 120.9 L223.3 119.1 L222 117.3 L220.7 115.5 L219.4 113.6 L218.1 111.8 L216.8 110 L215.4 108.2 L214.1 106.4 L212.8 104.6 L211.5 102.8 L210.2 100.9 L208.9 99.1 L207.6 97.3 L206.3 95.5 L204.9 93.7 L203.6 91.9 L202.3 90.1 L201 88.2 L199.7 86.4 L198.4 84.6 L197 82.8 L195.7 81 L194.4 79.2 L193.1 77.4 L191.8 75.5 L190.4 73.7 L189.1 71.9 L187.8 70.1 L186.5 68.3 L185.1 66.5 L183.8 64.7 L182.5 62.8 L181.2 61 L179.8 59.2 L178.5 57.4 L177.2 55.6 L175.9 53.8 L174.5 52 L173.2 50.1 L171.9 48.3 L170.5 46.5 L169.2 44.7 L167.9 42.9 L166.5 41.1 L165.2 39.3 L163.9 37.4 L162.5 35.6 L161.2 33.8 L159.9 32 L158.5 30.2 L157.2 28.4 L155.8 26.6 L154.5 24.7 L153.2 22.9 L151.8 21.1 L150.5 19.3" fill="none" stroke="#101010" stroke-width="0.9"/>
<path d="M356.9 118.3 L356 117.3 L354.5 115.5 L352.9 113.6 L351.4 111.8 L349.9 110 L348.3 108.2 L346.8 106.4 L345.2 104.6 L343.7 102.8 L342.2 100.9 L340.6 99.1 L339.1 97.3 L337.6 95.5 L336 93.7 L334.5 91.9 L332.9 90.1 L331.4 88.2 L329.9 86.4 L328.3 84.6 L326.8 82.8 L325.3 81 L323.7 79.2 L322.2 77.4 L320.6 75.5 L319.1 73.7 L317.6 71.9 L316 70.1 L314.5 68.3 L313 66.5 L311.4 64.7 L309.9 62.8 L308.4 61 L306.8 59.2 L305.3 57.4 L303.7 55.6 L302.2 53.8 L300.7 52 L299.1 50.1 L297.6 48.3 L296.1 46.5 L294.5 44.7 L293 42.9 L291.5 41.1 L289.9 39.3 L288.4 37.4 L286.9 35.6 L285.3 33.8 L283.8 32 L282.2 30.2 L280.7 28.4 L279.2 26.6 L277.6 24.7 L276.1 22.9 L274.6 21.1 L273 19.3" fill="none" stroke="#101010" stroke-width="0.9"/>
<rect x="126" y="19.2" width="231.5" height="290.4" fill="none" stroke="#202020" stroke-width="1"/>
<line x1="126.1" y1="310" x2="126.1" y2="318" stroke="#888" stroke-width="1"/>
<text transform="translate(124 330) scale(0.803 1)" font-size="9.4" fill="#444" stroke="#444">0</text>
<line x1="120" y1="309.6" x2="126" y2="309.6" stroke="#555" stroke-width="1"/>
<text transform="translate(112.8 313.4) scale(0.753 1)" font-size="9.6" fill="#444" stroke="#444">0</text>
<line x1="183.8" y1="310" x2="183.8" y2="318" stroke="#888" stroke-width="1"/>
<text transform="translate(181.7 330) scale(0.791 1)" font-size="9.6" fill="#444" stroke="#444">5</text>
<line x1="120" y1="237" x2="126" y2="237" stroke="#555" stroke-width="1"/>
<text transform="translate(112.8 240.8) scale(0.742 1)" font-size="9.7" fill="#444" stroke="#444">5</text>
<line x1="241.5" y1="310" x2="241.5" y2="318" stroke="#888" stroke-width="1"/>
<text transform="translate(237.2 330) scale(0.831 1)" font-size="9.4" fill="#444" stroke="#444">10</text>
<line x1="120" y1="164.5" x2="126" y2="164.5" stroke="#555" stroke-width="1"/>
<text transform="translate(108.2 168.3) scale(0.809 1)" font-size="9.6" fill="#444" stroke="#444">10</text>
<line x1="299.2" y1="310" x2="299.2" y2="318" stroke="#888" stroke-width="1"/>
<text transform="translate(294.8 330) scale(0.819 1)" font-size="9.6" fill="#444" stroke="#444">15</text>
<line x1="120" y1="91.9" x2="126" y2="91.9" stroke="#555" stroke-width="1"/>
<text transform="translate(108.2 95.7) scale(0.798 1)" font-size="9.7" fill="#444" stroke="#444">15</text>
<line x1="356.9" y1="310" x2="356.9" y2="318" stroke="#888" stroke-width="1"/>
<text transform="translate(352.5 330) scale(0.831 1)" font-size="9.4" fill="#444" stroke="#444">20</text>
<line x1="120" y1="19.3" x2="126" y2="19.3" stroke="#555" stroke-width="1"/>
<text transform="translate(108.4 21.8) scale(0.773 1)" font-size="10.1" fill="#444" stroke="#444">20</text>
<rect x="152.9" y="233.5" width="10.4" height="10.9" fill="#fff" stroke="#222" stroke-width="0.8"/>
<text transform="translate(154.9 242.9) scale(0.579 1)" font-size="10.4" fill="#333" stroke="#333">20</text>
<rect x="250.7" y="153.5" width="10" height="10" fill="#fff" stroke="#222" stroke-width="0.8"/>
<text transform="translate(252.7 162) scale(0.584 1)" font-size="9.7" fill="#333" stroke="#333">10</text>
<rect x="310.4" y="58.7" width="6.3" height="9.9" fill="#fff" stroke="#222" stroke-width="0.8"/>
<text transform="translate(312 66.9) scale(0.527 1)" font-size="9.6" fill="#333" stroke="#333">0</text>
<ellipse cx="126.1" cy="309.6" rx="2.3" ry="2.5" fill="#c80000" stroke="#600" stroke-width="0.5"/>
<ellipse cx="183.8" cy="309.6" rx="2.3" ry="2.5" fill="#c80000" stroke="#600" stroke-width="0.5"/>
<ellipse cx="241.5" cy="309.6" rx="2.3" ry="2.5" fill="#c80000" stroke="#600" stroke-width="0.5"/>
<ellipse cx="299.2" cy="309.6" rx="2.3" ry="2.5" fill="#c80000" stroke="#600" stroke-width="0.5"/>
<ellipse cx="356.9" cy="309.6" rx="2.3" ry="2.5" fill="#c80000" stroke="#600" stroke-width="0.5"/>
<ellipse cx="126.1" cy="237" rx="2.3" ry="2.5" fill="#c80000" stroke="#600" stroke-width="0.5"/>
<ellipse cx="183.8" cy="237" rx="2.3" ry="2.5" fill="#c80000" stroke="#600" stroke-width="0.5"/>
<ellipse cx="126.1" cy="164.5" rx="2.3" ry="2.5" fill="#c80000" stroke="#600" stroke-width="0.5"/>
<ellipse cx="241.5" cy="164.5" rx="2.3" ry="2.5" fill="#c80000" stroke="#600" stroke-width="0.5"/>
<ellipse cx="126.1" cy="91.9" rx="2.3" ry="2.5" fill="#c80000" stroke="#600" stroke-width="0.5"/>
<ellipse cx="126.1" cy="19.3" rx="2.3" ry="2.5" fill="#c80000" stroke="#600" stroke-width="0.5"/>
<text transform="translate(117.8 21.1) scale(0.754 1)" font-size="12.4" fill="#1a1a30" stroke="#1a1a30">2</text>
<text transform="translate(117.8 94) scale(0.786 1)" font-size="12.1" fill="#1a1a30" stroke="#1a1a30">2</text>
<text transform="translate(233.8 166.1) scale(0.661 1)" font-size="12" fill="#1a1a30" stroke="#1a1a30">2</text>
<text transform="translate(349.8 311.6) scale(0.517 1)" font-size="11.9" fill="#1a1a30" stroke="#1a1a30">3</text>
<text transform="translate(214.1 12.4) scale(0.779 1)" font-size="14.2" fill="#222" stroke="#222">WPD (mm)</text>
<text transform="translate(218.7 369.8) scale(0.764 1)" font-size="12.6" fill="#222" stroke="#222">A: MK (%)</text>
<text transform="translate(85.8 193.4) rotate(-90) scale(1.216 1)" font-size="9.9" fill="#222" stroke="#222">B: CBA (%)</text>
<text transform="translate(233.3 401.6) scale(1.053 1)" font-size="14.3" fill="#000" stroke="#000" font-family="Liberation Serif">(a)</text>
<text transform="translate(530.8 402.3) scale(0.964 1)" font-size="15.9" fill="#000" stroke="#000" font-family="Liberation Serif">(b)</text>
<text transform="translate(408.8 344.6) scale(0.884 1)" font-size="13.9" fill="#222" stroke="#222">B: CBA (%)</text>
<text transform="translate(612.5 350.7) scale(0.806 1)" font-size="15.4" fill="#222" stroke="#222">A: MK (%)</text>
<text transform="translate(373.7 217.9) rotate(-90) scale(1.026 1)" font-size="13.6" fill="#222" stroke="#222">WPD (mm)</text>
<text transform="translate(386.4 125.3) scale(0.838 1)" font-size="11.3" fill="#333" stroke="#333">30</text>
<text transform="translate(389.9 145.5) scale(0.844 1)" font-size="11" fill="#333" stroke="#333">20</text>
<text transform="translate(394.9 166.3) scale(0.849 1)" font-size="10.7" fill="#333" stroke="#333">10</text>
<text transform="translate(403.9 186.5) scale(0.893 1)" font-size="10.3" fill="#333" stroke="#333">0</text>
<text transform="translate(400.2 206.8) scale(0.775 1)" font-size="11.4" fill="#333" stroke="#333">-10</text>
<text transform="translate(406.7 242.2) scale(0.815 1)" font-size="11.7" fill="#333" stroke="#333">20</text>
<text transform="translate(437.2 274.8) scale(0.743 1)" font-size="11.9" fill="#333" stroke="#333">15</text>
<text transform="translate(466.5 306.9) scale(0.769 1)" font-size="11.7" fill="#333" stroke="#333">10</text>
<text transform="translate(499.6 339.4) scale(0.783 1)" font-size="11.7" fill="#333" stroke="#333">5</text>
<text transform="translate(529 372.4) scale(0.702 1)" font-size="11.3" fill="#333" stroke="#333">0</text>
<text transform="translate(544.5 372.4) scale(0.75 1)" font-size="11.3" fill="#333" stroke="#333">0</text>
<text transform="translate(575.3 340.8) scale(0.752 1)" font-size="11.7" fill="#333" stroke="#333">5</text>
<text transform="translate(606.1 310) scale(0.786 1)" font-size="11.6" fill="#333" stroke="#333">10</text>
<text transform="translate(637.1 279.2) scale(0.798 1)" font-size="11.7" fill="#333" stroke="#333">15</text>
<text transform="translate(667.6 248.1) scale(0.773 1)" font-size="12" fill="#333" stroke="#333">20</text>
<path d="M362.6 48.6Q365.2 49.6 363.4 50.9Q365.2 52.2 362.6 53.3" fill="none" stroke="#d85040" stroke-width="1"/>
<rect x="362.2" y="62" width="1.6" height="4.8" fill="#f2c8d4"/>
<line x1="400.4" y1="128.5" x2="546.2" y2="8.4" stroke="#333" stroke-width="0.85"/>
<line x1="685.3" y1="136" x2="546.2" y2="8.4" stroke="#333" stroke-width="0.85"/>
<line x1="404.9" y1="147.9" x2="546" y2="30.4" stroke="#333" stroke-width="0.85"/>
<line x1="680.7" y1="155.1" x2="546" y2="30.4" stroke="#333" stroke-width="0.85"/>
<line x1="409.5" y1="167.8" x2="545.9" y2="53.1" stroke="#333" stroke-width="0.85"/>
<line x1="676" y1="174.8" x2="545.9" y2="53.1" stroke="#333" stroke-width="0.85"/>
<line x1="414" y1="188.4" x2="545.7" y2="76.3" stroke="#333" stroke-width="0.85"/>
<line x1="671.4" y1="195" x2="545.7" y2="76.3" stroke="#333" stroke-width="0.85"/>
<line x1="418.6" y1="209.5" x2="545.6" y2="100.2" stroke="#333" stroke-width="0.85"/>
<line x1="666.8" y1="215.8" x2="545.6" y2="100.2" stroke="#333" stroke-width="0.85"/>
<line x1="423.1" y1="231.2" x2="545.4" y2="124.6" stroke="#333" stroke-width="0.85"/>
<line x1="662.1" y1="237.2" x2="545.4" y2="124.6" stroke="#333" stroke-width="0.85"/>
<line x1="400.4" y1="128.5" x2="423.1" y2="231.2" stroke="#333" stroke-width="0.85"/>
<line x1="437.5" y1="98.2" x2="454.4" y2="204.3" stroke="#333" stroke-width="0.85"/>
<line x1="474.2" y1="68.1" x2="485.2" y2="177.5" stroke="#333" stroke-width="0.85"/>
<line x1="510.4" y1="38.1" x2="515.5" y2="151" stroke="#333" stroke-width="0.85"/>
<line x1="546.2" y1="8.4" x2="545.4" y2="124.6" stroke="#333" stroke-width="0.85"/>
<line x1="685.3" y1="136" x2="662.1" y2="237.2" stroke="#333" stroke-width="0.85"/>
<line x1="649.6" y1="103.7" x2="632.1" y2="208.6" stroke="#333" stroke-width="0.85"/>
<line x1="614.6" y1="71.7" x2="602.6" y2="180.4" stroke="#333" stroke-width="0.85"/>
<line x1="580.1" y1="39.9" x2="573.7" y2="152.3" stroke="#333" stroke-width="0.85"/>
<path d="M423.1 231.2 L545.4 124.6 L662.1 237.2 L539.2 361.9 Z" fill="#ffff00" stroke="#222" stroke-width="0.8"/>
<circle cx="400.4" cy="128.5" r="0.9" fill="#111"/>
<circle cx="404.9" cy="147.9" r="0.9" fill="#111"/>
<circle cx="409.5" cy="167.8" r="0.9" fill="#111"/>
<circle cx="414" cy="188.4" r="0.9" fill="#111"/>
<circle cx="418.6" cy="209.5" r="0.9" fill="#111"/>
<circle cx="509.3" cy="328.8" r="0.9" fill="#111"/>
<circle cx="570.6" cy="330.5" r="0.9" fill="#111"/>
<circle cx="480" cy="296" r="0.9" fill="#111"/>
<circle cx="601.6" cy="299.2" r="0.9" fill="#111"/>
<circle cx="451.3" cy="263.4" r="0.9" fill="#111"/>
<circle cx="632.1" cy="268.1" r="0.9" fill="#111"/>
<line x1="436.9" y1="219.6" x2="469.5" y2="221" stroke="#ff7a00" stroke-width="1.1"/>
<line x1="605.5" y1="232.5" x2="662" y2="236.8" stroke="#ff7a00" stroke-width="1.1"/>
<line x1="489.3" y1="303.8" x2="574.4" y2="324.2" stroke="#c8f030" stroke-width="0.7"/>
<path d="M545.5 95.7L548.7 94.3L545.6 92.7L542.4 94.1Z" fill="#3633d8" stroke="#3633d8" stroke-width="0.6"/>
<path d="M542.4 97.2L545.5 95.7L542.4 94.1L539.3 95.6Z" fill="#3633d8" stroke="#3633d8" stroke-width="0.6"/>
<path d="M548.6 97.4L551.7 95.9L548.7 94.3L545.5 95.7Z" fill="#3633d8" stroke="#3633d8" stroke-width="0.6"/>
<path d="M539.2 98.8L542.4 97.2L539.3 95.6L536.1 97.1Z" fill="#3633d8" stroke="#3633d8" stroke-width="0.6"/>
<path d="M545.4 98.9L548.6 97.4L545.5 95.7L542.4 97.2Z" fill="#3633d8" stroke="#3633d8" stroke-width="0.6"/>
<path d="M551.7 99.1L554.8 97.6L551.7 95.9L548.6 97.4Z" fill="#3633d8" stroke="#3633d8" stroke-width="0.6"/>
<path d="M536 100.3L539.2 98.8L536.1 97.1L533 98.6Z" fill="#3633d8" stroke="#3633d8" stroke-width="0.6"/>
<path d="M542.3 100.5L545.4 98.9L542.4 97.2L539.2 98.8Z" fill="#3633d8" stroke="#3633d8" stroke-width="0.6"/>
<path d="M548.5 100.6L551.7 99.1L548.6 97.4L545.4 98.9Z" fill="#3633d8" stroke="#3633d8" stroke-width="0.6"/>
<path d="M554.8 100.8L557.9 99.3L554.8 97.6L551.7 99.1Z" fill="#3633d8" stroke="#3633d8" stroke-width="0.6"/>
<path d="M532.8 101.9L536 100.3L533 98.6L529.8 100.2Z" fill="#3633d8" stroke="#3633d8" stroke-width="0.6"/>
<path d="M539.1 102L542.3 100.5L539.2 98.8L536 100.3Z" fill="#3633d8" stroke="#3633d8" stroke-width="0.6"/>
<path d="M545.4 102.2L548.5 100.6L545.4 98.9L542.3 100.5Z" fill="#3633d8" stroke="#3633d8" stroke-width="0.6"/>
<path d="M551.6 102.3L554.8 100.8L551.7 99.1L548.5 100.6Z" fill="#3633d8" stroke="#3633d8" stroke-width="0.6"/>
<path d="M557.9 102.5L561 101L557.9 99.3L554.8 100.8Z" fill="#3633d8" stroke="#3633d8" stroke-width="0.6"/>
<path d="M529.6 103.6L532.8 101.9L529.8 100.2L526.6 101.9Z" fill="#3633d8" stroke="#3633d8" stroke-width="0.6"/>
<path d="M535.9 103.7L539.1 102L536 100.3L532.8 101.9Z" fill="#3633d8" stroke="#3633d8" stroke-width="0.6"/>
<path d="M542.2 103.8L545.4 102.2L542.3 100.5L539.1 102Z" fill="#3633d8" stroke="#3633d8" stroke-width="0.6"/>
<path d="M548.4 103.9L551.6 102.3L548.5 100.6L545.4 102.2Z" fill="#3633d8" stroke="#3633d8" stroke-width="0.6"/>
<path d="M554.7 104.1L557.9 102.5L554.8 100.8L551.6 102.3Z" fill="#3633d8" stroke="#3633d8" stroke-width="0.6"/>
<path d="M561 104.3L564.1 102.7L561 101L557.9 102.5Z" fill="#3633d8" stroke="#3633d8" stroke-width="0.6"/>
<path d="M526.4 105.3L529.6 103.6L526.6 101.9L523.3 103.5Z" fill="#3633d8" stroke="#3633d8" stroke-width="0.6"/>
<path d="M532.7 105.3L535.9 103.7L532.8 101.9L529.6 103.6Z" fill="#3633d8" stroke="#3633d8" stroke-width="0.6"/>
<path d="M539 105.4L542.2 103.8L539.1 102L535.9 103.7Z" fill="#3633d8" stroke="#3633d8" stroke-width="0.6"/>
<path d="M545.3 105.5L548.4 103.9L545.4 102.2L542.2 103.8Z" fill="#3633d8" stroke="#3633d8" stroke-width="0.6"/>
<path d="M551.5 105.7L554.7 104.1L551.6 102.3L548.4 103.9Z" fill="#3633d8" stroke="#3633d8" stroke-width="0.6"/>
<path d="M557.8 105.9L561 104.3L557.9 102.5L554.7 104.1Z" fill="#3633d8" stroke="#3633d8" stroke-width="0.6"/>
<path d="M564.1 106.1L567.2 104.5L564.1 102.7L561 104.3Z" fill="#3633d8" stroke="#3633d8" stroke-width="0.6"/>
<path d="M523.2 107L526.4 105.3L523.3 103.5L520.1 105.2Z" fill="#3633d8" stroke="#3633d8" stroke-width="0.6"/>
<path d="M529.5 107L532.7 105.3L529.6 103.6L526.4 105.3Z" fill="#3633d8" stroke="#3633d8" stroke-width="0.6"/>
<path d="M535.8 107.1L539 105.4L535.9 103.7L532.7 105.3Z" fill="#3633d8" stroke="#3633d8" stroke-width="0.6"/>
<path d="M542.1 107.2L545.3 105.5L542.2 103.8L539 105.4Z" fill="#3633d8" stroke="#3633d8" stroke-width="0.6"/>
<path d="M548.3 107.3L551.5 105.7L548.4 103.9L545.3 105.5Z" fill="#3633d8" stroke="#3633d8" stroke-width="0.6"/>
<path d="M554.6 107.5L557.8 105.9L554.7 104.1L551.5 105.7Z" fill="#3633d8" stroke="#3633d8" stroke-width="0.6"/>
<path d="M560.9 107.7L564.1 106.1L561 104.3L557.8 105.9Z" fill="#3633d8" stroke="#3633d8" stroke-width="0.6"/>
<path d="M567.2 107.9L570.4 106.3L567.2 104.5L564.1 106.1Z" fill="#3633d8" stroke="#3633d8" stroke-width="0.6"/>
<path d="M519.9 108.7L523.2 107L520.1 105.2L516.9 107Z" fill="#3633d8" stroke="#3633d8" stroke-width="0.6"/>
<path d="M526.2 108.8L529.5 107L526.4 105.3L523.2 107Z" fill="#3633d8" stroke="#3633d8" stroke-width="0.6"/>
<path d="M532.5 108.8L535.8 107.1L532.7 105.3L529.5 107Z" fill="#3633d8" stroke="#3633d8" stroke-width="0.6"/>
<path d="M538.8 108.9L542.1 107.2L539 105.4L535.8 107.1Z" fill="#3633d8" stroke="#3633d8" stroke-width="0.6"/>
<path d="M545.1 109L548.3 107.3L545.3 105.5L542.1 107.2Z" fill="#3633d8" stroke="#3633d8" stroke-width="0.6"/>
<path d="M551.4 109.2L554.6 107.5L551.5 105.7L548.3 107.3Z" fill="#3633d8" stroke="#3633d8" stroke-width="0.6"/>
<path d="M557.8 109.3L560.9 107.7L557.8 105.9L554.6 107.5Z" fill="#3633d8" stroke="#3633d8" stroke-width="0.6"/>
<path d="M564.1 109.5L567.2 107.9L564.1 106.1L560.9 107.7Z" fill="#3633d8" stroke="#3633d8" stroke-width="0.6"/>
<path d="M570.4 109.7L573.5 108.1L570.4 106.3L567.2 107.9Z" fill="#3633d8" stroke="#3633d8" stroke-width="0.6"/>
<path d="M516.6 110.5L519.9 108.7L516.9 107L513.6 108.7Z" fill="#3633d8" stroke="#3633d8" stroke-width="0.6"/>
<path d="M523 110.5L526.2 108.8L523.2 107L519.9 108.7Z" fill="#3633d8" stroke="#3633d8" stroke-width="0.6"/>
<path d="M529.3 110.6L532.5 108.8L529.5 107L526.2 108.8Z" fill="#3633d8" stroke="#3633d8" stroke-width="0.6"/>
<path d="M535.6 110.6L538.8 108.9L535.8 107.1L532.5 108.8Z" fill="#3633d8" stroke="#3633d8" stroke-width="0.6"/>
<path d="M541.9 110.7L545.1 109L542.1 107.2L538.8 108.9Z" fill="#3633d8" stroke="#3633d8" stroke-width="0.6"/>
<path d="M548.2 110.9L551.4 109.2L548.3 107.3L545.1 109Z" fill="#3633d8" stroke="#3633d8" stroke-width="0.6"/>
<path d="M554.6 111L557.8 109.3L554.6 107.5L551.4 109.2Z" fill="#3633d8" stroke="#3633d8" stroke-width="0.6"/>
<path d="M560.9 111.2L564.1 109.5L560.9 107.7L557.8 109.3Z" fill="#3633d8" stroke="#3633d8" stroke-width="0.6"/>
<path d="M567.2 111.4L570.4 109.7L567.2 107.9L564.1 109.5Z" fill="#3633d8" stroke="#3633d8" stroke-width="0.6"/>
<path d="M573.5 111.6L576.6 110L573.5 108.1L570.4 109.7Z" fill="#3633d8" stroke="#3633d8" stroke-width="0.6"/>
<path d="M513.4 112.3L516.6 110.5L513.6 108.7L510.3 110.5Z" fill="#3633d8" stroke="#3633d8" stroke-width="0.6"/>
<path d="M519.7 112.3L523 110.5L519.9 108.7L516.6 110.5Z" fill="#3633d8" stroke="#3633d8" stroke-width="0.6"/>
<path d="M526 112.4L529.3 110.6L526.2 108.8L523 110.5Z" fill="#3633d8" stroke="#3633d8" stroke-width="0.6"/>
<path d="M532.4 112.4L535.6 110.6L532.5 108.8L529.3 110.6Z" fill="#3633d8" stroke="#3633d8" stroke-width="0.6"/>
<path d="M538.7 112.5L541.9 110.7L538.8 108.9L535.6 110.6Z" fill="#3633d8" stroke="#3633d8" stroke-width="0.6"/>
<path d="M545 112.6L548.2 110.9L545.1 109L541.9 110.7Z" fill="#3633d8" stroke="#3633d8" stroke-width="0.6"/>
<path d="M551.3 112.7L554.6 111L551.4 109.2L548.2 110.9Z" fill="#3633d8" stroke="#3633d8" stroke-width="0.6"/>
<path d="M557.7 112.9L560.9 111.2L557.8 109.3L554.6 111Z" fill="#3633d8" stroke="#3633d8" stroke-width="0.6"/>
<path d="M564 113L567.2 111.4L564.1 109.5L560.9 111.2Z" fill="#3633d8" stroke="#3633d8" stroke-width="0.6"/>
<path d="M570.3 113.2L573.5 111.6L570.4 109.7L567.2 111.4Z" fill="#3633d8" stroke="#3633d8" stroke-width="0.6"/>
<path d="M576.6 113.5L579.8 111.8L576.6 110L573.5 111.6Z" fill="#3633d8" stroke="#3633d8" stroke-width="0.6"/>
<path d="M510.1 114.1L513.4 112.3L510.3 110.5L507 112.3Z" fill="#3633d8" stroke="#3633d8" stroke-width="0.6"/>
<path d="M516.4 114.1L519.7 112.3L516.6 110.5L513.4 112.3Z" fill="#3633d8" stroke="#3633d8" stroke-width="0.6"/>
<path d="M522.7 114.2L526 112.4L523 110.5L519.7 112.3Z" fill="#3633d8" stroke="#3633d8" stroke-width="0.6"/>
<path d="M529.1 114.2L532.4 112.4L529.3 110.6L526 112.4Z" fill="#3633d8" stroke="#3633d8" stroke-width="0.6"/>
<path d="M535.4 114.3L538.7 112.5L535.6 110.6L532.4 112.4Z" fill="#3633d8" stroke="#3633d8" stroke-width="0.6"/>
<path d="M541.8 114.4L545 112.6L541.9 110.7L538.7 112.5Z" fill="#3633d8" stroke="#3633d8" stroke-width="0.6"/>
<path d="M548.1 114.5L551.3 112.7L548.2 110.9L545 112.6Z" fill="#3633d8" stroke="#3633d8" stroke-width="0.6"/>
<path d="M554.5 114.6L557.7 112.9L554.6 111L551.3 112.7Z" fill="#3633d8" stroke="#3633d8" stroke-width="0.6"/>
<path d="M560.8 114.8L564 113L560.9 111.2L557.7 112.9Z" fill="#3633d8" stroke="#3633d8" stroke-width="0.6"/>
<path d="M567.1 114.9L570.3 113.2L567.2 111.4L564 113Z" fill="#3633d8" stroke="#3633d8" stroke-width="0.6"/>
<path d="M573.5 115.1L576.6 113.5L573.5 111.6L570.3 113.2Z" fill="#3633d8" stroke="#3633d8" stroke-width="0.6"/>
<path d="M579.8 115.4L583 113.7L579.8 111.8L576.6 113.5Z" fill="#3633d8" stroke="#3633d8" stroke-width="0.6"/>
<path d="M506.8 116L510.1 114.1L507 112.3L503.7 114.1Z" fill="#3633d8" stroke="#3633d8" stroke-width="0.6"/>
<path d="M513.1 116L516.4 114.1L513.4 112.3L510.1 114.1Z" fill="#3633d8" stroke="#3633d8" stroke-width="0.6"/>
<path d="M519.5 116L522.7 114.2L519.7 112.3L516.4 114.1Z" fill="#3633d8" stroke="#3633d8" stroke-width="0.6"/>
<path d="M525.8 116L529.1 114.2L526 112.4L522.7 114.2Z" fill="#3633d8" stroke="#3633d8" stroke-width="0.6"/>
<path d="M532.2 116.1L535.4 114.3L532.4 112.4L529.1 114.2Z" fill="#3633d8" stroke="#3633d8" stroke-width="0.6"/>
<path d="M538.5 116.2L541.8 114.4L538.7 112.5L535.4 114.3Z" fill="#3633d8" stroke="#3633d8" stroke-width="0.6"/>
<path d="M544.9 116.3L548.1 114.5L545 112.6L541.8 114.4Z" fill="#3633d8" stroke="#3633d8" stroke-width="0.6"/>
<path d="M551.2 116.4L554.5 114.6L551.3 112.7L548.1 114.5Z" fill="#3633d8" stroke="#3633d8" stroke-width="0.6"/>
<path d="M557.6 116.5L560.8 114.8L557.7 112.9L554.5 114.6Z" fill="#3633d8" stroke="#3633d8" stroke-width="0.6"/>
<path d="M563.9 116.7L567.1 114.9L564 113L560.8 114.8Z" fill="#3633d8" stroke="#3633d8" stroke-width="0.6"/>
<path d="M570.3 116.9L573.5 115.1L570.3 113.2L567.1 114.9Z" fill="#3633d8" stroke="#3633d8" stroke-width="0.6"/>
<path d="M576.6 117.1L579.8 115.4L576.6 113.5L573.5 115.1Z" fill="#3633d8" stroke="#3633d8" stroke-width="0.6"/>
<path d="M583 117.3L586.1 115.6L583 113.7L579.8 115.4Z" fill="#3633d8" stroke="#3633d8" stroke-width="0.6"/>
<path d="M503.4 117.9L506.8 116L503.7 114.1L500.4 116Z" fill="#3633d8" stroke="#3633d8" stroke-width="0.6"/>
<path d="M509.8 117.8L513.1 116L510.1 114.1L506.8 116Z" fill="#3633d8" stroke="#3633d8" stroke-width="0.6"/>
<path d="M516.2 117.9L519.5 116L516.4 114.1L513.1 116Z" fill="#3633d8" stroke="#3633d8" stroke-width="0.6"/>
<path d="M522.5 117.9L525.8 116L522.7 114.2L519.5 116Z" fill="#3633d8" stroke="#3633d8" stroke-width="0.6"/>
<path d="M528.9 117.9L532.2 116.1L529.1 114.2L525.8 116Z" fill="#3633d8" stroke="#3633d8" stroke-width="0.6"/>
<path d="M535.3 118L538.5 116.2L535.4 114.3L532.2 116.1Z" fill="#3633d8" stroke="#3633d8" stroke-width="0.6"/>
<path d="M541.6 118.1L544.9 116.3L541.8 114.4L538.5 116.2Z" fill="#3633d8" stroke="#3633d8" stroke-width="0.6"/>
<path d="M548 118.2L551.2 116.4L548.1 114.5L544.9 116.3Z" fill="#3633d8" stroke="#3633d8" stroke-width="0.6"/>
<path d="M554.4 118.3L557.6 116.5L554.5 114.6L551.2 116.4Z" fill="#3633d8" stroke="#3633d8" stroke-width="0.6"/>
<path d="M560.7 118.5L563.9 116.7L560.8 114.8L557.6 116.5Z" fill="#3633d8" stroke="#3633d8" stroke-width="0.6"/>
<path d="M567.1 118.6L570.3 116.9L567.1 114.9L563.9 116.7Z" fill="#3633d8" stroke="#3633d8" stroke-width="0.6"/>
<path d="M573.4 118.8L576.6 117.1L573.5 115.1L570.3 116.9Z" fill="#3633d8" stroke="#3633d8" stroke-width="0.6"/>
<path d="M579.8 119L583 117.3L579.8 115.4L576.6 117.1Z" fill="#3633d8" stroke="#3633d8" stroke-width="0.6"/>
<path d="M586.1 119.3L589.3 117.6L586.1 115.6L583 117.3Z" fill="#3633d8" stroke="#3633d8" stroke-width="0.6"/>
<path d="M500.1 119.7L503.4 117.9L500.4 116L497.1 117.9Z" fill="#3633d8" stroke="#3633d8" stroke-width="0.6"/>
<path d="M506.5 119.7L509.8 117.8L506.8 116L503.4 117.9Z" fill="#3633d8" stroke="#3633d8" stroke-width="0.6"/>
<path d="M512.8 119.7L516.2 117.9L513.1 116L509.8 117.8Z" fill="#3633d8" stroke="#3633d8" stroke-width="0.6"/>
<path d="M519.2 119.8L522.5 117.9L519.5 116L516.2 117.9Z" fill="#3633d8" stroke="#3633d8" stroke-width="0.6"/>
<path d="M525.6 119.8L528.9 117.9L525.8 116L522.5 117.9Z" fill="#3633d8" stroke="#3633d8" stroke-width="0.6"/>
<path d="M532 119.9L535.3 118L532.2 116.1L528.9 117.9Z" fill="#3633d8" stroke="#3633d8" stroke-width="0.6"/>
<path d="M538.4 119.9L541.6 118.1L538.5 116.2L535.3 118Z" fill="#3633d8" stroke="#3633d8" stroke-width="0.6"/>
<path d="M544.7 120L548 118.2L544.9 116.3L541.6 118.1Z" fill="#3633d8" stroke="#3633d8" stroke-width="0.6"/>
<path d="M551.1 120.1L554.4 118.3L551.2 116.4L548 118.2Z" fill="#3633d8" stroke="#3633d8" stroke-width="0.6"/>
<path d="M557.5 120.3L560.7 118.5L557.6 116.5L554.4 118.3Z" fill="#3633d8" stroke="#3633d8" stroke-width="0.6"/>
<path d="M563.9 120.4L567.1 118.6L563.9 116.7L560.7 118.5Z" fill="#3633d8" stroke="#3633d8" stroke-width="0.6"/>
<path d="M570.2 120.6L573.4 118.8L570.3 116.9L567.1 118.6Z" fill="#3633d8" stroke="#3633d8" stroke-width="0.6"/>
<path d="M576.6 120.8L579.8 119L576.6 117.1L573.4 118.8Z" fill="#3633d8" stroke="#3633d8" stroke-width="0.6"/>
<path d="M583 121L586.1 119.3L583 117.3L579.8 119Z" fill="#3633d8" stroke="#3633d8" stroke-width="0.6"/>
<path d="M589.3 121.3L592.5 119.6L589.3 117.6L586.1 119.3Z" fill="#3633d8" stroke="#3633d8" stroke-width="0.6"/>
<path d="M496.8 121.7L500.1 119.7L497.1 117.9L493.8 119.8Z" fill="#3633d8" stroke="#3633d8" stroke-width="0.6"/>
<path d="M503.1 121.6L506.5 119.7L503.4 117.9L500.1 119.7Z" fill="#3633d8" stroke="#3633d8" stroke-width="0.6"/>
<path d="M509.5 121.6L512.8 119.7L509.8 117.8L506.5 119.7Z" fill="#3633d8" stroke="#3633d8" stroke-width="0.6"/>
<path d="M515.9 121.7L519.2 119.8L516.2 117.9L512.8 119.7Z" fill="#3633d8" stroke="#3633d8" stroke-width="0.6"/>
<path d="M522.3 121.7L525.6 119.8L522.5 117.9L519.2 119.8Z" fill="#3633d8" stroke="#3633d8" stroke-width="0.6"/>
<path d="M528.7 121.7L532 119.9L528.9 117.9L525.6 119.8Z" fill="#3633d8" stroke="#3633d8" stroke-width="0.6"/>
<path d="M535.1 121.8L538.4 119.9L535.3 118L532 119.9Z" fill="#3633d8" stroke="#3633d8" stroke-width="0.6"/>
<path d="M541.5 121.9L544.7 120L541.6 118.1L538.4 119.9Z" fill="#3633d8" stroke="#3633d8" stroke-width="0.6"/>
<path d="M547.9 122L551.1 120.1L548 118.2L544.7 120Z" fill="#3633d8" stroke="#3633d8" stroke-width="0.6"/>
<path d="M554.2 122.1L557.5 120.3L554.4 118.3L551.1 120.1Z" fill="#3633d8" stroke="#3633d8" stroke-width="0.6"/>
<path d="M560.6 122.2L563.9 120.4L560.7 118.5L557.5 120.3Z" fill="#3633d8" stroke="#3633d8" stroke-width="0.6"/>
<path d="M567 122.4L570.2 120.6L567.1 118.6L563.9 120.4Z" fill="#3633d8" stroke="#3633d8" stroke-width="0.6"/>
<path d="M573.4 122.6L576.6 120.8L573.4 118.8L570.2 120.6Z" fill="#3633d8" stroke="#3633d8" stroke-width="0.6"/>
<path d="M579.8 122.8L583 121L579.8 119L576.6 120.8Z" fill="#3633d8" stroke="#3633d8" stroke-width="0.6"/>
<path d="M586.2 123L589.3 121.3L586.1 119.3L583 121Z" fill="#3633d8" stroke="#3633d8" stroke-width="0.6"/>
<path d="M592.5 123.3L595.7 121.5L592.5 119.6L589.3 121.3Z" fill="#3633d8" stroke="#3633d8" stroke-width="0.6"/>
<path d="M493.4 123.6L496.8 121.7L493.8 119.8L490.4 121.7Z" fill="#3633d8" stroke="#3633d8" stroke-width="0.6"/>
<path d="M499.8 123.6L503.1 121.6L500.1 119.7L496.8 121.7Z" fill="#3633d8" stroke="#3633d8" stroke-width="0.6"/>
<path d="M506.2 123.6L509.5 121.6L506.5 119.7L503.1 121.6Z" fill="#3633d8" stroke="#3633d8" stroke-width="0.6"/>
<path d="M512.6 123.6L515.9 121.7L512.8 119.7L509.5 121.6Z" fill="#3633d8" stroke="#3633d8" stroke-width="0.6"/>
<path d="M519 123.6L522.3 121.7L519.2 119.8L515.9 121.7Z" fill="#3633d8" stroke="#3633d8" stroke-width="0.6"/>
<path d="M525.4 123.7L528.7 121.7L525.6 119.8L522.3 121.7Z" fill="#3633d8" stroke="#3633d8" stroke-width="0.6"/>
<path d="M531.8 123.7L535.1 121.8L532 119.9L528.7 121.7Z" fill="#3633d8" stroke="#3633d8" stroke-width="0.6"/>
<path d="M538.2 123.8L541.5 121.9L538.4 119.9L535.1 121.8Z" fill="#3633d8" stroke="#3633d8" stroke-width="0.6"/>
<path d="M544.6 123.9L547.9 122L544.7 120L541.5 121.9Z" fill="#3633d8" stroke="#3633d8" stroke-width="0.6"/>
<path d="M551 124L554.2 122.1L551.1 120.1L547.9 122Z" fill="#3633d8" stroke="#3633d8" stroke-width="0.6"/>
<path d="M557.4 124.1L560.6 122.2L557.5 120.3L554.2 122.1Z" fill="#3633d8" stroke="#3633d8" stroke-width="0.6"/>
<path d="M563.8 124.3L567 122.4L563.9 120.4L560.6 122.2Z" fill="#3633d8" stroke="#3633d8" stroke-width="0.6"/>
<path d="M570.2 124.4L573.4 122.6L570.2 120.6L567 122.4Z" fill="#3633d8" stroke="#3633d8" stroke-width="0.6"/>
<path d="M576.6 124.6L579.8 122.8L576.6 120.8L573.4 122.6Z" fill="#3633d8" stroke="#3633d8" stroke-width="0.6"/>
<path d="M583 124.8L586.2 123L583 121L579.8 122.8Z" fill="#3633d8" stroke="#3633d8" stroke-width="0.6"/>
<path d="M589.3 125.1L592.5 123.3L589.3 121.3L586.2 123Z" fill="#3633d8" stroke="#3633d8" stroke-width="0.6"/>
<path d="M595.7 125.3L598.9 123.6L595.7 121.5L592.5 123.3Z" fill="#3633d8" stroke="#3633d8" stroke-width="0.6"/>
<path d="M490 125.5L493.4 123.6L490.4 121.7L487 123.6Z" fill="#3633d8" stroke="#3633d8" stroke-width="0.6"/>
<path d="M496.4 125.5L499.8 123.6L496.8 121.7L493.4 123.6Z" fill="#3633d8" stroke="#3633d8" stroke-width="0.6"/>
<path d="M502.8 125.5L506.2 123.6L503.1 121.6L499.8 123.6Z" fill="#3633d8" stroke="#3633d8" stroke-width="0.6"/>
<path d="M509.2 125.5L512.6 123.6L509.5 121.6L506.2 123.6Z" fill="#3633d8" stroke="#3633d8" stroke-width="0.6"/>
<path d="M515.6 125.6L519 123.6L515.9 121.7L512.6 123.6Z" fill="#3633d8" stroke="#3633d8" stroke-width="0.6"/>
<path d="M522 125.6L525.4 123.7L522.3 121.7L519 123.6Z" fill="#3633d8" stroke="#3633d8" stroke-width="0.6"/>
<path d="M528.5 125.7L531.8 123.7L528.7 121.7L525.4 123.7Z" fill="#3633d8" stroke="#3633d8" stroke-width="0.6"/>
<path d="M534.9 125.7L538.2 123.8L535.1 121.8L531.8 123.7Z" fill="#3633d8" stroke="#3633d8" stroke-width="0.6"/>
<path d="M541.3 125.8L544.6 123.9L541.5 121.9L538.2 123.8Z" fill="#3633d8" stroke="#3633d8" stroke-width="0.6"/>
<path d="M547.7 125.9L551 124L547.9 122L544.6 123.9Z" fill="#3633d8" stroke="#3633d8" stroke-width="0.6"/>
<path d="M554.1 126L557.4 124.1L554.2 122.1L551 124Z" fill="#3633d8" stroke="#3633d8" stroke-width="0.6"/>
<path d="M560.5 126.1L563.8 124.3L560.6 122.2L557.4 124.1Z" fill="#3633d8" stroke="#3633d8" stroke-width="0.6"/>
<path d="M567 126.3L570.2 124.4L567 122.4L563.8 124.3Z" fill="#3633d8" stroke="#3633d8" stroke-width="0.6"/>
<path d="M573.4 126.5L576.6 124.6L573.4 122.6L570.2 124.4Z" fill="#3633d8" stroke="#3633d8" stroke-width="0.6"/>
<path d="M579.8 126.7L583 124.8L579.8 122.8L576.6 124.6Z" fill="#3633d8" stroke="#3633d8" stroke-width="0.6"/>
<path d="M586.2 126.9L589.3 125.1L586.2 123L583 124.8Z" fill="#3633d8" stroke="#3633d8" stroke-width="0.6"/>
<path d="M592.6 127.1L595.7 125.3L592.5 123.3L589.3 125.1Z" fill="#3633d8" stroke="#3633d8" stroke-width="0.6"/>
<path d="M598.9 127.4L602.1 125.6L598.9 123.6L595.7 125.3Z" fill="#3633d8" stroke="#3633d8" stroke-width="0.6"/>
<path d="M486.6 127.5L490 125.5L487 123.6L483.6 125.5Z" fill="#3633d8" stroke="#3633d8" stroke-width="0.6"/>
<path d="M493 127.5L496.4 125.5L493.4 123.6L490 125.5Z" fill="#3633d8" stroke="#3633d8" stroke-width="0.6"/>
<path d="M499.4 127.5L502.8 125.5L499.8 123.6L496.4 125.5Z" fill="#3633d8" stroke="#3633d8" stroke-width="0.6"/>
<path d="M505.8 127.5L509.2 125.5L506.2 123.6L502.8 125.5Z" fill="#3633d8" stroke="#3633d8" stroke-width="0.6"/>
<path d="M512.3 127.5L515.6 125.6L512.6 123.6L509.2 125.5Z" fill="#3633d8" stroke="#3633d8" stroke-width="0.6"/>
<path d="M518.7 127.6L522 125.6L519 123.6L515.6 125.6Z" fill="#3633d8" stroke="#3633d8" stroke-width="0.6"/>
<path d="M525.1 127.6L528.5 125.7L525.4 123.7L522 125.6Z" fill="#3633d8" stroke="#3633d8" stroke-width="0.6"/>
<path d="M531.6 127.7L534.9 125.7L531.8 123.7L528.5 125.7Z" fill="#3633d8" stroke="#3633d8" stroke-width="0.6"/>
<path d="M538 127.7L541.3 125.8L538.2 123.8L534.9 125.7Z" fill="#3633d8" stroke="#3633d8" stroke-width="0.6"/>
<path d="M544.4 127.8L547.7 125.9L544.6 123.9L541.3 125.8Z" fill="#3633d8" stroke="#3633d8" stroke-width="0.6"/>
<path d="M550.8 127.9L554.1 126L551 124L547.7 125.9Z" fill="#3633d8" stroke="#3633d8" stroke-width="0.6"/>
<path d="M557.3 128.1L560.5 126.1L557.4 124.1L554.1 126Z" fill="#3633d8" stroke="#3633d8" stroke-width="0.6"/>
<path d="M563.7 128.2L567 126.3L563.8 124.3L560.5 126.1Z" fill="#3633d8" stroke="#3633d8" stroke-width="0.6"/>
<path d="M570.1 128.4L573.4 126.5L570.2 124.4L567 126.3Z" fill="#3633d8" stroke="#3633d8" stroke-width="0.6"/>
<path d="M576.5 128.5L579.8 126.7L576.6 124.6L573.4 126.5Z" fill="#3633d8" stroke="#3633d8" stroke-width="0.6"/>
<path d="M583 128.7L586.2 126.9L583 124.8L579.8 126.7Z" fill="#3633d8" stroke="#3633d8" stroke-width="0.6"/>
<path d="M589.4 128.9L592.6 127.1L589.3 125.1L586.2 126.9Z" fill="#3633d8" stroke="#3633d8" stroke-width="0.6"/>
<path d="M595.8 129.2L598.9 127.4L595.7 125.3L592.6 127.1Z" fill="#3633d8" stroke="#3633d8" stroke-width="0.6"/>
<path d="M602.2 129.5L605.3 127.7L602.1 125.6L598.9 127.4Z" fill="#3633d8" stroke="#3633d8" stroke-width="0.6"/>
<path d="M483.2 129.4L486.6 127.5L483.6 125.5L480.2 127.5Z" fill="#3633d8" stroke="#3633d8" stroke-width="0.6"/>
<path d="M489.6 129.5L493 127.5L490 125.5L486.6 127.5Z" fill="#3633d8" stroke="#3633d8" stroke-width="0.6"/>
<path d="M496 129.5L499.4 127.5L496.4 125.5L493 127.5Z" fill="#3633d8" stroke="#3633d8" stroke-width="0.6"/>
<path d="M502.5 129.5L505.8 127.5L502.8 125.5L499.4 127.5Z" fill="#3633d8" stroke="#3633d8" stroke-width="0.6"/>
<path d="M508.9 129.5L512.3 127.5L509.2 125.5L505.8 127.5Z" fill="#3633d8" stroke="#3633d8" stroke-width="0.6"/>
<path d="M515.3 129.5L518.7 127.6L515.6 125.6L512.3 127.5Z" fill="#3633d8" stroke="#3633d8" stroke-width="0.6"/>
<path d="M521.8 129.6L525.1 127.6L522 125.6L518.7 127.6Z" fill="#3633d8" stroke="#3633d8" stroke-width="0.6"/>
<path d="M528.2 129.6L531.6 127.7L528.5 125.7L525.1 127.6Z" fill="#3633d8" stroke="#3633d8" stroke-width="0.6"/>
<path d="M534.7 129.7L538 127.7L534.9 125.7L531.6 127.7Z" fill="#3633d8" stroke="#3633d8" stroke-width="0.6"/>
<path d="M541.1 129.8L544.4 127.8L541.3 125.8L538 127.7Z" fill="#3633d8" stroke="#3633d8" stroke-width="0.6"/>
<path d="M547.6 129.9L550.8 127.9L547.7 125.9L544.4 127.8Z" fill="#3633d8" stroke="#3633d8" stroke-width="0.6"/>
<path d="M554 130L557.3 128.1L554.1 126L550.8 127.9Z" fill="#3633d8" stroke="#3633d8" stroke-width="0.6"/>
<path d="M560.4 130.1L563.7 128.2L560.5 126.1L557.3 128.1Z" fill="#3633d8" stroke="#3633d8" stroke-width="0.6"/>
<path d="M566.9 130.3L570.1 128.4L567 126.3L563.7 128.2Z" fill="#3633d8" stroke="#3633d8" stroke-width="0.6"/>
<path d="M573.3 130.4L576.5 128.5L573.4 126.5L570.1 128.4Z" fill="#3633d8" stroke="#3633d8" stroke-width="0.6"/>
<path d="M579.7 130.6L583 128.7L579.8 126.7L576.5 128.5Z" fill="#3633d8" stroke="#3633d8" stroke-width="0.6"/>
<path d="M586.2 130.8L589.4 128.9L586.2 126.9L583 128.7Z" fill="#3633d8" stroke="#3633d8" stroke-width="0.6"/>
<path d="M592.6 131L595.8 129.2L592.6 127.1L589.4 128.9Z" fill="#3633d8" stroke="#3633d8" stroke-width="0.6"/>
<path d="M599 131.3L602.2 129.5L598.9 127.4L595.8 129.2Z" fill="#3633d8" stroke="#3633d8" stroke-width="0.6"/>
<path d="M605.4 131.6L608.5 129.7L605.3 127.7L602.2 129.5Z" fill="#3633d8" stroke="#3633d8" stroke-width="0.6"/>
<path d="M479.8 131.4L483.2 129.4L480.2 127.5L476.8 129.4Z" fill="#3633d8" stroke="#3633d8" stroke-width="0.6"/>
<path d="M486.2 131.4L489.6 129.5L486.6 127.5L483.2 129.4Z" fill="#3633d8" stroke="#3633d8" stroke-width="0.6"/>
<path d="M492.6 131.5L496 129.5L493 127.5L489.6 129.5Z" fill="#3633d8" stroke="#3633d8" stroke-width="0.6"/>
<path d="M499.1 131.5L502.5 129.5L499.4 127.5L496 129.5Z" fill="#3633d8" stroke="#3633d8" stroke-width="0.6"/>
<path d="M505.5 131.5L508.9 129.5L505.8 127.5L502.5 129.5Z" fill="#3633d8" stroke="#3633d8" stroke-width="0.6"/>
<path d="M512 131.5L515.3 129.5L512.3 127.5L508.9 129.5Z" fill="#3633d8" stroke="#3633d8" stroke-width="0.6"/>
<path d="M518.4 131.6L521.8 129.6L518.7 127.6L515.3 129.5Z" fill="#3633d8" stroke="#3633d8" stroke-width="0.6"/>
<path d="M524.9 131.6L528.2 129.6L525.1 127.6L521.8 129.6Z" fill="#3633d8" stroke="#3633d8" stroke-width="0.6"/>
<path d="M531.3 131.7L534.7 129.7L531.6 127.7L528.2 129.6Z" fill="#3633d8" stroke="#3633d8" stroke-width="0.6"/>
<path d="M537.8 131.8L541.1 129.8L538 127.7L534.7 129.7Z" fill="#3633d8" stroke="#3633d8" stroke-width="0.6"/>
<path d="M544.2 131.9L547.6 129.9L544.4 127.8L541.1 129.8Z" fill="#3633d8" stroke="#3633d8" stroke-width="0.6"/>
<path d="M550.7 132L554 130L550.8 127.9L547.6 129.9Z" fill="#3633d8" stroke="#3633d8" stroke-width="0.6"/>
<path d="M557.2 132.1L560.4 130.1L557.3 128.1L554 130Z" fill="#3633d8" stroke="#3633d8" stroke-width="0.6"/>
<path d="M563.6 132.2L566.9 130.3L563.7 128.2L560.4 130.1Z" fill="#3633d8" stroke="#3633d8" stroke-width="0.6"/>
<path d="M570.1 132.4L573.3 130.4L570.1 128.4L566.9 130.3Z" fill="#3633d8" stroke="#3633d8" stroke-width="0.6"/>
<path d="M576.5 132.6L579.7 130.6L576.5 128.5L573.3 130.4Z" fill="#3633d8" stroke="#3633d8" stroke-width="0.6"/>
<path d="M583 132.7L586.2 130.8L583 128.7L579.7 130.6Z" fill="#3633d8" stroke="#3633d8" stroke-width="0.6"/>
<path d="M589.4 132.9L592.6 131L589.4 128.9L586.2 130.8Z" fill="#3633d8" stroke="#3633d8" stroke-width="0.6"/>
<path d="M595.8 133.2L599 131.3L595.8 129.2L592.6 131Z" fill="#3633d8" stroke="#3633d8" stroke-width="0.6"/>
<path d="M602.2 133.4L605.4 131.6L602.2 129.5L599 131.3Z" fill="#3633d8" stroke="#3633d8" stroke-width="0.6"/>
<path d="M608.6 133.7L611.8 131.8L608.5 129.7L605.4 131.6Z" fill="#3633d8" stroke="#3633d8" stroke-width="0.6"/>
<path d="M476.4 133.4L479.8 131.4L476.8 129.4L473.4 131.4Z" fill="#3633d8" stroke="#3633d8" stroke-width="0.6"/>
<path d="M482.8 133.4L486.2 131.4L483.2 129.4L479.8 131.4Z" fill="#3633d8" stroke="#3633d8" stroke-width="0.6"/>
<path d="M489.2 133.5L492.6 131.5L489.6 129.5L486.2 131.4Z" fill="#3633d8" stroke="#3633d8" stroke-width="0.6"/>
<path d="M495.7 133.5L499.1 131.5L496 129.5L492.6 131.5Z" fill="#3633d8" stroke="#3633d8" stroke-width="0.6"/>
<path d="M502.1 133.5L505.5 131.5L502.5 129.5L499.1 131.5Z" fill="#3633d8" stroke="#3633d8" stroke-width="0.6"/>
<path d="M508.6 133.6L512 131.5L508.9 129.5L505.5 131.5Z" fill="#3633d8" stroke="#3633d8" stroke-width="0.6"/>
<path d="M515 133.6L518.4 131.6L515.3 129.5L512 131.5Z" fill="#3633d8" stroke="#3633d8" stroke-width="0.6"/>
<path d="M521.5 133.7L524.9 131.6L521.8 129.6L518.4 131.6Z" fill="#3633d8" stroke="#3633d8" stroke-width="0.6"/>
<path d="M528 133.7L531.3 131.7L528.2 129.6L524.9 131.6Z" fill="#3633d8" stroke="#3633d8" stroke-width="0.6"/>
<path d="M534.4 133.8L537.8 131.8L534.7 129.7L531.3 131.7Z" fill="#3633d8" stroke="#3633d8" stroke-width="0.6"/>
<path d="M540.9 133.9L544.2 131.9L541.1 129.8L537.8 131.8Z" fill="#3633d8" stroke="#3633d8" stroke-width="0.6"/>
<path d="M547.4 134L550.7 132L547.6 129.9L544.2 131.9Z" fill="#3633d8" stroke="#3633d8" stroke-width="0.6"/>
<path d="M553.9 134.1L557.2 132.1L554 130L550.7 132Z" fill="#3633d8" stroke="#3633d8" stroke-width="0.6"/>
<path d="M560.3 134.2L563.6 132.2L560.4 130.1L557.2 132.1Z" fill="#3633d8" stroke="#3633d8" stroke-width="0.6"/>
<path d="M566.8 134.4L570.1 132.4L566.9 130.3L563.6 132.2Z" fill="#3633d8" stroke="#3633d8" stroke-width="0.6"/>
<path d="M573.3 134.5L576.5 132.6L573.3 130.4L570.1 132.4Z" fill="#3633d8" stroke="#3633d8" stroke-width="0.6"/>
<path d="M579.7 134.7L583 132.7L579.7 130.6L576.5 132.6Z" fill="#3633d8" stroke="#3633d8" stroke-width="0.6"/>
<path d="M586.2 134.9L589.4 132.9L586.2 130.8L583 132.7Z" fill="#3633d8" stroke="#3633d8" stroke-width="0.6"/>
<path d="M592.6 135.1L595.8 133.2L592.6 131L589.4 132.9Z" fill="#3633d8" stroke="#3633d8" stroke-width="0.6"/>
<path d="M599.1 135.3L602.2 133.4L599 131.3L595.8 133.2Z" fill="#3633d8" stroke="#3633d8" stroke-width="0.6"/>
<path d="M605.5 135.6L608.6 133.7L605.4 131.6L602.2 133.4Z" fill="#3633d8" stroke="#3633d8" stroke-width="0.6"/>
<path d="M611.9 135.8L615 134L611.8 131.8L608.6 133.7Z" fill="#3633d8" stroke="#3633d8" stroke-width="0.6"/>
<path d="M472.9 135.4L476.4 133.4L473.4 131.4L470 133.4Z" fill="#3633d8" stroke="#3633d8" stroke-width="0.6"/>
<path d="M479.4 135.4L482.8 133.4L479.8 131.4L476.4 133.4Z" fill="#3633d8" stroke="#3633d8" stroke-width="0.6"/>
<path d="M485.8 135.5L489.2 133.5L486.2 131.4L482.8 133.4Z" fill="#3633d8" stroke="#3633d8" stroke-width="0.6"/>
<path d="M492.2 135.5L495.7 133.5L492.6 131.5L489.2 133.5Z" fill="#3633d8" stroke="#3633d8" stroke-width="0.6"/>
<path d="M498.7 135.6L502.1 133.5L499.1 131.5L495.7 133.5Z" fill="#3633d8" stroke="#3633d8" stroke-width="0.6"/>
<path d="M505.2 135.6L508.6 133.6L505.5 131.5L502.1 133.5Z" fill="#3633d8" stroke="#3633d8" stroke-width="0.6"/>
<path d="M511.6 135.6L515 133.6L512 131.5L508.6 133.6Z" fill="#3633d8" stroke="#3633d8" stroke-width="0.6"/>
<path d="M518.1 135.7L521.5 133.7L518.4 131.6L515 133.6Z" fill="#3633d8" stroke="#3633d8" stroke-width="0.6"/>
<path d="M524.6 135.8L528 133.7L524.9 131.6L521.5 133.7Z" fill="#3633d8" stroke="#3633d8" stroke-width="0.6"/>
<path d="M531.1 135.8L534.4 133.8L531.3 131.7L528 133.7Z" fill="#3633d8" stroke="#3633d8" stroke-width="0.6"/>
<path d="M537.6 135.9L540.9 133.9L537.8 131.8L534.4 133.8Z" fill="#3633d8" stroke="#3633d8" stroke-width="0.6"/>
<path d="M544.1 136L547.4 134L544.2 131.9L540.9 133.9Z" fill="#3633d8" stroke="#3633d8" stroke-width="0.6"/>
<path d="M550.5 136.1L553.9 134.1L550.7 132L547.4 134Z" fill="#3633d8" stroke="#3633d8" stroke-width="0.6"/>
<path d="M557 136.2L560.3 134.2L557.2 132.1L553.9 134.1Z" fill="#3633d8" stroke="#3633d8" stroke-width="0.6"/>
<path d="M563.5 136.4L566.8 134.4L563.6 132.2L560.3 134.2Z" fill="#3633d8" stroke="#3633d8" stroke-width="0.6"/>
<path d="M570 136.5L573.3 134.5L570.1 132.4L566.8 134.4Z" fill="#3633d8" stroke="#3633d8" stroke-width="0.6"/>
<path d="M576.5 136.7L579.7 134.7L576.5 132.6L573.3 134.5Z" fill="#3633d8" stroke="#3633d8" stroke-width="0.6"/>
<path d="M582.9 136.9L586.2 134.9L583 132.7L579.7 134.7Z" fill="#3633d8" stroke="#3633d8" stroke-width="0.6"/>
<path d="M589.4 137L592.6 135.1L589.4 132.9L586.2 134.9Z" fill="#3633d8" stroke="#3633d8" stroke-width="0.6"/>
<path d="M595.9 137.3L599.1 135.3L595.8 133.2L592.6 135.1Z" fill="#3633d8" stroke="#3633d8" stroke-width="0.6"/>
<path d="M602.3 137.5L605.5 135.6L602.2 133.4L599.1 135.3Z" fill="#3633d8" stroke="#3633d8" stroke-width="0.6"/>
<path d="M608.7 137.7L611.9 135.8L608.6 133.7L605.5 135.6Z" fill="#3633d8" stroke="#3633d8" stroke-width="0.6"/>
<path d="M615.2 138L618.3 136.1L615 134L611.9 135.8Z" fill="#3633d8" stroke="#3633d8" stroke-width="0.6"/>
<path d="M469.5 137.4L472.9 135.4L470 133.4L466.5 135.4Z" fill="#3633d8" stroke="#3633d8" stroke-width="0.6"/>
<path d="M475.9 137.5L479.4 135.4L476.4 133.4L472.9 135.4Z" fill="#3633d8" stroke="#3633d8" stroke-width="0.6"/>
<path d="M482.4 137.5L485.8 135.5L482.8 133.4L479.4 135.4Z" fill="#3633d8" stroke="#3633d8" stroke-width="0.6"/>
<path d="M488.8 137.5L492.2 135.5L489.2 133.5L485.8 135.5Z" fill="#3633d8" stroke="#3633d8" stroke-width="0.6"/>
<path d="M495.3 137.6L498.7 135.6L495.7 133.5L492.2 135.5Z" fill="#3633d8" stroke="#3633d8" stroke-width="0.6"/>
<path d="M501.8 137.6L505.2 135.6L502.1 133.5L498.7 135.6Z" fill="#3633d8" stroke="#3633d8" stroke-width="0.6"/>
<path d="M508.2 137.7L511.6 135.6L508.6 133.6L505.2 135.6Z" fill="#3633d8" stroke="#3633d8" stroke-width="0.6"/>
<path d="M514.7 137.8L518.1 135.7L515 133.6L511.6 135.6Z" fill="#3633d8" stroke="#3633d8" stroke-width="0.6"/>
<path d="M521.2 137.8L524.6 135.8L521.5 133.7L518.1 135.7Z" fill="#3633d8" stroke="#3633d8" stroke-width="0.6"/>
<path d="M527.7 137.9L531.1 135.8L528 133.7L524.6 135.8Z" fill="#3633d8" stroke="#3633d8" stroke-width="0.6"/>
<path d="M534.2 138L537.6 135.9L534.4 133.8L531.1 135.8Z" fill="#3633d8" stroke="#3633d8" stroke-width="0.6"/>
<path d="M540.7 138.1L544.1 136L540.9 133.9L537.6 135.9Z" fill="#3633d8" stroke="#3633d8" stroke-width="0.6"/>
<path d="M547.2 138.2L550.5 136.1L547.4 134L544.1 136Z" fill="#3633d8" stroke="#3633d8" stroke-width="0.6"/>
<path d="M553.7 138.3L557 136.2L553.9 134.1L550.5 136.1Z" fill="#3633d8" stroke="#3633d8" stroke-width="0.6"/>
<path d="M560.2 138.4L563.5 136.4L560.3 134.2L557 136.2Z" fill="#3633d8" stroke="#3633d8" stroke-width="0.6"/>
<path d="M566.7 138.5L570 136.5L566.8 134.4L563.5 136.4Z" fill="#3633d8" stroke="#3633d8" stroke-width="0.6"/>
<path d="M573.2 138.7L576.5 136.7L573.3 134.5L570 136.5Z" fill="#3633d8" stroke="#3633d8" stroke-width="0.6"/>
<path d="M579.7 138.9L582.9 136.9L579.7 134.7L576.5 136.7Z" fill="#3633d8" stroke="#3633d8" stroke-width="0.6"/>
<path d="M586.2 139L589.4 137L586.2 134.9L582.9 136.9Z" fill="#3633d8" stroke="#3633d8" stroke-width="0.6"/>
<path d="M592.6 139.2L595.9 137.3L592.6 135.1L589.4 137Z" fill="#3633d8" stroke="#3633d8" stroke-width="0.6"/>
<path d="M599.1 139.5L602.3 137.5L599.1 135.3L595.9 137.3Z" fill="#3633d8" stroke="#3633d8" stroke-width="0.6"/>
<path d="M605.6 139.7L608.7 137.7L605.5 135.6L602.3 137.5Z" fill="#3633d8" stroke="#3633d8" stroke-width="0.6"/>
<path d="M612 139.9L615.2 138L611.9 135.8L608.7 137.7Z" fill="#3633d8" stroke="#3633d8" stroke-width="0.6"/>
<path d="M618.5 140.2L621.6 138.3L618.3 136.1L615.2 138Z" fill="#3633d8" stroke="#3633d8" stroke-width="0.6"/>
<path d="M466 139.4L469.5 137.4L466.5 135.4L463 137.4Z" fill="#3633d8" stroke="#3633d8" stroke-width="0.6"/>
<path d="M472.4 139.5L475.9 137.5L472.9 135.4L469.5 137.4Z" fill="#3633d8" stroke="#3633d8" stroke-width="0.6"/>
<path d="M478.9 139.5L482.4 137.5L479.4 135.4L475.9 137.5Z" fill="#3633d8" stroke="#3633d8" stroke-width="0.6"/>
<path d="M485.4 139.6L488.8 137.5L485.8 135.5L482.4 137.5Z" fill="#3633d8" stroke="#3633d8" stroke-width="0.6"/>
<path d="M491.8 139.6L495.3 137.6L492.2 135.5L488.8 137.5Z" fill="#3633d8" stroke="#3633d8" stroke-width="0.6"/>
<path d="M498.3 139.7L501.8 137.6L498.7 135.6L495.3 137.6Z" fill="#3633d8" stroke="#3633d8" stroke-width="0.6"/>
<path d="M504.8 139.8L508.2 137.7L505.2 135.6L501.8 137.6Z" fill="#3633d8" stroke="#3633d8" stroke-width="0.6"/>
<path d="M511.3 139.8L514.7 137.8L511.6 135.6L508.2 137.7Z" fill="#3633d8" stroke="#3633d8" stroke-width="0.6"/>
<path d="M517.8 139.9L521.2 137.8L518.1 135.7L514.7 137.8Z" fill="#3633d8" stroke="#3633d8" stroke-width="0.6"/>
<path d="M524.3 140L527.7 137.9L524.6 135.8L521.2 137.8Z" fill="#3633d8" stroke="#3633d8" stroke-width="0.6"/>
<path d="M530.8 140.1L534.2 138L531.1 135.8L527.7 137.9Z" fill="#3633d8" stroke="#3633d8" stroke-width="0.6"/>
<path d="M537.4 140.1L540.7 138.1L537.6 135.9L534.2 138Z" fill="#3633d8" stroke="#3633d8" stroke-width="0.6"/>
<path d="M543.9 140.2L547.2 138.2L544.1 136L540.7 138.1Z" fill="#3633d8" stroke="#3633d8" stroke-width="0.6"/>
<path d="M550.4 140.4L553.7 138.3L550.5 136.1L547.2 138.2Z" fill="#3633d8" stroke="#3633d8" stroke-width="0.6"/>
<path d="M556.9 140.5L560.2 138.4L557 136.2L553.7 138.3Z" fill="#3633d8" stroke="#3633d8" stroke-width="0.6"/>
<path d="M563.4 140.6L566.7 138.5L563.5 136.4L560.2 138.4Z" fill="#3633d8" stroke="#3633d8" stroke-width="0.6"/>
<path d="M569.9 140.7L573.2 138.7L570 136.5L566.7 138.5Z" fill="#3633d8" stroke="#3633d8" stroke-width="0.6"/>
<path d="M576.4 140.9L579.7 138.9L576.5 136.7L573.2 138.7Z" fill="#3633d8" stroke="#3633d8" stroke-width="0.6"/>
<path d="M582.9 141.1L586.2 139L582.9 136.9L579.7 138.9Z" fill="#3633d8" stroke="#3633d8" stroke-width="0.6"/>
<path d="M589.4 141.3L592.6 139.2L589.4 137L586.2 139Z" fill="#3633d8" stroke="#3633d8" stroke-width="0.6"/>
<path d="M595.9 141.5L599.1 139.5L595.9 137.3L592.6 139.2Z" fill="#3633d8" stroke="#3633d8" stroke-width="0.6"/>
<path d="M602.4 141.7L605.6 139.7L602.3 137.5L599.1 139.5Z" fill="#3633d8" stroke="#3633d8" stroke-width="0.6"/>
<path d="M608.8 141.9L612 139.9L608.7 137.7L605.6 139.7Z" fill="#3633d8" stroke="#3633d8" stroke-width="0.6"/>
<path d="M615.3 142.2L618.5 140.2L615.2 138L612 139.9Z" fill="#3633d8" stroke="#3633d8" stroke-width="0.6"/>
<path d="M621.7 142.4L624.9 140.5L621.6 138.3L618.5 140.2Z" fill="#3633d8" stroke="#3633d8" stroke-width="0.6"/>
<path d="M462.5 141.4L466 139.4L463 137.4L459.5 139.3Z" fill="#3633d8" stroke="#3633d8" stroke-width="0.6"/>
<path d="M468.9 141.5L472.4 139.5L469.5 137.4L466 139.4Z" fill="#3633d8" stroke="#3633d8" stroke-width="0.6"/>
<path d="M475.4 141.6L478.9 139.5L475.9 137.5L472.4 139.5Z" fill="#3633d8" stroke="#3633d8" stroke-width="0.6"/>
<path d="M481.9 141.6L485.4 139.6L482.4 137.5L478.9 139.5Z" fill="#3633d8" stroke="#3633d8" stroke-width="0.6"/>
<path d="M488.4 141.7L491.8 139.6L488.8 137.5L485.4 139.6Z" fill="#3633d8" stroke="#3633d8" stroke-width="0.6"/>
<path d="M494.9 141.8L498.3 139.7L495.3 137.6L491.8 139.6Z" fill="#3633d8" stroke="#3633d8" stroke-width="0.6"/>
<path d="M501.4 141.8L504.8 139.8L501.8 137.6L498.3 139.7Z" fill="#3633d8" stroke="#3633d8" stroke-width="0.6"/>
<path d="M507.9 141.9L511.3 139.8L508.2 137.7L504.8 139.8Z" fill="#3633d8" stroke="#3633d8" stroke-width="0.6"/>
<path d="M514.4 142L517.8 139.9L514.7 137.8L511.3 139.8Z" fill="#3633d8" stroke="#3633d8" stroke-width="0.6"/>
<path d="M520.9 142.1L524.3 140L521.2 137.8L517.8 139.9Z" fill="#3633d8" stroke="#3633d8" stroke-width="0.6"/>
<path d="M527.5 142.2L530.8 140.1L527.7 137.9L524.3 140Z" fill="#3633d8" stroke="#3633d8" stroke-width="0.6"/>
<path d="M534 142.2L537.4 140.1L534.2 138L530.8 140.1Z" fill="#3633d8" stroke="#3633d8" stroke-width="0.6"/>
<path d="M540.5 142.3L543.9 140.2L540.7 138.1L537.4 140.1Z" fill="#3633d8" stroke="#3633d8" stroke-width="0.6"/>
<path d="M547 142.4L550.4 140.4L547.2 138.2L543.9 140.2Z" fill="#3633d8" stroke="#3633d8" stroke-width="0.6"/>
<path d="M553.6 142.6L556.9 140.5L553.7 138.3L550.4 140.4Z" fill="#3633d8" stroke="#3633d8" stroke-width="0.6"/>
<path d="M560.1 142.7L563.4 140.6L560.2 138.4L556.9 140.5Z" fill="#3633d8" stroke="#3633d8" stroke-width="0.6"/>
<path d="M566.6 142.8L569.9 140.7L566.7 138.5L563.4 140.6Z" fill="#3633d8" stroke="#3633d8" stroke-width="0.6"/>
<path d="M573.1 143L576.4 140.9L573.2 138.7L569.9 140.7Z" fill="#3633d8" stroke="#3633d8" stroke-width="0.6"/>
<path d="M579.7 143.1L582.9 141.1L579.7 138.9L576.4 140.9Z" fill="#3633d8" stroke="#3633d8" stroke-width="0.6"/>
<path d="M586.2 143.3L589.4 141.3L586.2 139L582.9 141.1Z" fill="#3633d8" stroke="#3633d8" stroke-width="0.6"/>
<path d="M592.7 143.5L595.9 141.5L592.6 139.2L589.4 141.3Z" fill="#3633d8" stroke="#3633d8" stroke-width="0.6"/>
<path d="M599.2 143.7L602.4 141.7L599.1 139.5L595.9 141.5Z" fill="#3633d8" stroke="#3633d8" stroke-width="0.6"/>
<path d="M605.7 143.9L608.8 141.9L605.6 139.7L602.4 141.7Z" fill="#3633d8" stroke="#3633d8" stroke-width="0.6"/>
<path d="M612.1 144.1L615.3 142.2L612 139.9L608.8 141.9Z" fill="#3633d8" stroke="#3633d8" stroke-width="0.6"/>
<path d="M618.6 144.4L621.7 142.4L618.5 140.2L615.3 142.2Z" fill="#3633d8" stroke="#3633d8" stroke-width="0.6"/>
<path d="M625 144.7L628.2 142.7L624.9 140.5L621.7 142.4Z" fill="#3633d8" stroke="#3633d8" stroke-width="0.6"/>
<path d="M459 143.4L462.5 141.4L459.5 139.3L456 141.3Z" fill="#3633d8" stroke="#3633d8" stroke-width="0.6"/>
<path d="M465.5 143.5L468.9 141.5L466 139.4L462.5 141.4Z" fill="#3633d8" stroke="#3633d8" stroke-width="0.6"/>
<path d="M471.9 143.6L475.4 141.6L472.4 139.5L468.9 141.5Z" fill="#3633d8" stroke="#3633d8" stroke-width="0.6"/>
<path d="M478.4 143.7L481.9 141.6L478.9 139.5L475.4 141.6Z" fill="#3633d8" stroke="#3633d8" stroke-width="0.6"/>
<path d="M484.9 143.8L488.4 141.7L485.4 139.6L481.9 141.6Z" fill="#3633d8" stroke="#3633d8" stroke-width="0.6"/>
<path d="M491.4 143.9L494.9 141.8L491.8 139.6L488.4 141.7Z" fill="#3633d8" stroke="#3633d8" stroke-width="0.6"/>
<path d="M497.9 143.9L501.4 141.8L498.3 139.7L494.9 141.8Z" fill="#3633d8" stroke="#3633d8" stroke-width="0.6"/>
<path d="M504.5 144L507.9 141.9L504.8 139.8L501.4 141.8Z" fill="#3633d8" stroke="#3633d8" stroke-width="0.6"/>
<path d="M511 144.1L514.4 142L511.3 139.8L507.9 141.9Z" fill="#3633d8" stroke="#3633d8" stroke-width="0.6"/>
<path d="M517.5 144.2L520.9 142.1L517.8 139.9L514.4 142Z" fill="#3633d8" stroke="#3633d8" stroke-width="0.6"/>
<path d="M524.1 144.3L527.5 142.2L524.3 140L520.9 142.1Z" fill="#3633d8" stroke="#3633d8" stroke-width="0.6"/>
<path d="M530.6 144.4L534 142.2L530.8 140.1L527.5 142.2Z" fill="#3633d8" stroke="#3633d8" stroke-width="0.6"/>
<path d="M537.1 144.5L540.5 142.3L537.4 140.1L534 142.2Z" fill="#3633d8" stroke="#3633d8" stroke-width="0.6"/>
<path d="M543.7 144.6L547 142.4L543.9 140.2L540.5 142.3Z" fill="#3633d8" stroke="#3633d8" stroke-width="0.6"/>
<path d="M550.2 144.7L553.6 142.6L550.4 140.4L547 142.4Z" fill="#3633d8" stroke="#3633d8" stroke-width="0.6"/>
<path d="M556.8 144.8L560.1 142.7L556.9 140.5L553.6 142.6Z" fill="#3633d8" stroke="#3633d8" stroke-width="0.6"/>
<path d="M563.3 144.9L566.6 142.8L563.4 140.6L560.1 142.7Z" fill="#3633d8" stroke="#3633d8" stroke-width="0.6"/>
<path d="M569.8 145.1L573.1 143L569.9 140.7L566.6 142.8Z" fill="#3633d8" stroke="#3633d8" stroke-width="0.6"/>
<path d="M576.4 145.2L579.7 143.1L576.4 140.9L573.1 143Z" fill="#3633d8" stroke="#3633d8" stroke-width="0.6"/>
<path d="M582.9 145.4L586.2 143.3L582.9 141.1L579.7 143.1Z" fill="#3633d8" stroke="#3633d8" stroke-width="0.6"/>
<path d="M589.4 145.6L592.7 143.5L589.4 141.3L586.2 143.3Z" fill="#3633d8" stroke="#3633d8" stroke-width="0.6"/>
<path d="M595.9 145.7L599.2 143.7L595.9 141.5L592.7 143.5Z" fill="#3633d8" stroke="#3633d8" stroke-width="0.6"/>
<path d="M602.4 146L605.7 143.9L602.4 141.7L599.2 143.7Z" fill="#3633d8" stroke="#3633d8" stroke-width="0.6"/>
<path d="M608.9 146.2L612.1 144.1L608.8 141.9L605.7 143.9Z" fill="#3633d8" stroke="#3633d8" stroke-width="0.6"/>
<path d="M615.4 146.4L618.6 144.4L615.3 142.2L612.1 144.1Z" fill="#3633d8" stroke="#3633d8" stroke-width="0.6"/>
<path d="M621.9 146.7L625 144.7L621.7 142.4L618.6 144.4Z" fill="#3633d8" stroke="#3633d8" stroke-width="0.6"/>
<path d="M628.4 146.9L631.5 145L628.2 142.7L625 144.7Z" fill="#3633d8" stroke="#3633d8" stroke-width="0.6"/>
<path d="M455.5 145.4L459 143.4L456 141.3L452.5 143.3Z" fill="#3633d8" stroke="#3633d8" stroke-width="0.6"/>
<path d="M461.9 145.5L465.5 143.5L462.5 141.4L459 143.4Z" fill="#3633d8" stroke="#3633d8" stroke-width="0.6"/>
<path d="M468.4 145.6L471.9 143.6L468.9 141.5L465.5 143.5Z" fill="#3633d8" stroke="#3633d8" stroke-width="0.6"/>
<path d="M474.9 145.7L478.4 143.7L475.4 141.6L471.9 143.6Z" fill="#3633d8" stroke="#3633d8" stroke-width="0.6"/>
<path d="M481.4 145.8L484.9 143.8L481.9 141.6L478.4 143.7Z" fill="#3633d8" stroke="#3633d8" stroke-width="0.6"/>
<path d="M488 145.9L491.4 143.9L488.4 141.7L484.9 143.8Z" fill="#3633d8" stroke="#3633d8" stroke-width="0.6"/>
<path d="M494.5 146L497.9 143.9L494.9 141.8L491.4 143.9Z" fill="#3633d8" stroke="#3633d8" stroke-width="0.6"/>
<path d="M501 146.1L504.5 144L501.4 141.8L497.9 143.9Z" fill="#3633d8" stroke="#3633d8" stroke-width="0.6"/>
<path d="M507.5 146.2L511 144.1L507.9 141.9L504.5 144Z" fill="#3633d8" stroke="#3633d8" stroke-width="0.6"/>
<path d="M514.1 146.3L517.5 144.2L514.4 142L511 144.1Z" fill="#3633d8" stroke="#3633d8" stroke-width="0.6"/>
<path d="M520.6 146.4L524.1 144.3L520.9 142.1L517.5 144.2Z" fill="#3633d8" stroke="#3633d8" stroke-width="0.6"/>
<path d="M527.2 146.5L530.6 144.4L527.5 142.2L524.1 144.3Z" fill="#3633d8" stroke="#3633d8" stroke-width="0.6"/>
<path d="M533.8 146.6L537.1 144.5L534 142.2L530.6 144.4Z" fill="#3633d8" stroke="#3633d8" stroke-width="0.6"/>
<path d="M540.3 146.7L543.7 144.6L540.5 142.3L537.1 144.5Z" fill="#3633d8" stroke="#3633d8" stroke-width="0.6"/>
<path d="M546.9 146.8L550.2 144.7L547 142.4L543.7 144.6Z" fill="#3633d8" stroke="#3633d8" stroke-width="0.6"/>
<path d="M553.4 146.9L556.8 144.8L553.6 142.6L550.2 144.7Z" fill="#3633d8" stroke="#3633d8" stroke-width="0.6"/>
<path d="M560 147.1L563.3 144.9L560.1 142.7L556.8 144.8Z" fill="#3633d8" stroke="#3633d8" stroke-width="0.6"/>
<path d="M566.5 147.2L569.8 145.1L566.6 142.8L563.3 144.9Z" fill="#3633d8" stroke="#3633d8" stroke-width="0.6"/>
<path d="M573.1 147.3L576.4 145.2L573.1 143L569.8 145.1Z" fill="#3633d8" stroke="#3633d8" stroke-width="0.6"/>
<path d="M579.6 147.5L582.9 145.4L579.7 143.1L576.4 145.2Z" fill="#3633d8" stroke="#3633d8" stroke-width="0.6"/>
<path d="M586.2 147.7L589.4 145.6L586.2 143.3L582.9 145.4Z" fill="#3633d8" stroke="#3633d8" stroke-width="0.6"/>
<path d="M592.7 147.8L595.9 145.7L592.7 143.5L589.4 145.6Z" fill="#3633d8" stroke="#3633d8" stroke-width="0.6"/>
<path d="M599.2 148L602.4 146L599.2 143.7L595.9 145.7Z" fill="#3633d8" stroke="#3633d8" stroke-width="0.6"/>
<path d="M605.7 148.2L608.9 146.2L605.7 143.9L602.4 146Z" fill="#3633d8" stroke="#3633d8" stroke-width="0.6"/>
<path d="M612.2 148.5L615.4 146.4L612.1 144.1L608.9 146.2Z" fill="#3633d8" stroke="#3633d8" stroke-width="0.6"/>
<path d="M618.7 148.7L621.9 146.7L618.6 144.4L615.4 146.4Z" fill="#3633d8" stroke="#3633d8" stroke-width="0.6"/>
<path d="M625.2 149L628.4 146.9L625 144.7L621.9 146.7Z" fill="#3633d8" stroke="#3633d8" stroke-width="0.6"/>
<path d="M631.7 149.2L634.8 147.2L631.5 145L628.4 146.9Z" fill="#3633d8" stroke="#3633d8" stroke-width="0.6"/>
<path d="M451.9 147.4L455.5 145.4L452.5 143.3L449 145.3Z" fill="#3633d8" stroke="#3633d8" stroke-width="0.6"/>
<path d="M458.4 147.6L461.9 145.5L459 143.4L455.5 145.4Z" fill="#3633d8" stroke="#3633d8" stroke-width="0.6"/>
<path d="M464.9 147.7L468.4 145.6L465.5 143.5L461.9 145.5Z" fill="#3633d8" stroke="#3633d8" stroke-width="0.6"/>
<path d="M471.4 147.8L474.9 145.7L471.9 143.6L468.4 145.6Z" fill="#3633d8" stroke="#3633d8" stroke-width="0.6"/>
<path d="M477.9 147.9L481.4 145.8L478.4 143.7L474.9 145.7Z" fill="#3633d8" stroke="#3633d8" stroke-width="0.6"/>
<path d="M484.5 148L488 145.9L484.9 143.8L481.4 145.8Z" fill="#3633d8" stroke="#3633d8" stroke-width="0.6"/>
<path d="M491 148.1L494.5 146L491.4 143.9L488 145.9Z" fill="#3633d8" stroke="#3633d8" stroke-width="0.6"/>
<path d="M497.5 148.2L501 146.1L497.9 143.9L494.5 146Z" fill="#3633d8" stroke="#3633d8" stroke-width="0.6"/>
<path d="M504.1 148.3L507.5 146.2L504.5 144L501 146.1Z" fill="#3633d8" stroke="#3633d8" stroke-width="0.6"/>
<path d="M510.6 148.4L514.1 146.3L511 144.1L507.5 146.2Z" fill="#3633d8" stroke="#3633d8" stroke-width="0.6"/>
<path d="M517.2 148.5L520.6 146.4L517.5 144.2L514.1 146.3Z" fill="#3633d8" stroke="#3633d8" stroke-width="0.6"/>
<path d="M523.8 148.6L527.2 146.5L524.1 144.3L520.6 146.4Z" fill="#3633d8" stroke="#3633d8" stroke-width="0.6"/>
<path d="M530.3 148.7L533.8 146.6L530.6 144.4L527.2 146.5Z" fill="#3633d8" stroke="#3633d8" stroke-width="0.6"/>
<path d="M536.9 148.9L540.3 146.7L537.1 144.5L533.8 146.6Z" fill="#3633d8" stroke="#3633d8" stroke-width="0.6"/>
<path d="M543.5 149L546.9 146.8L543.7 144.6L540.3 146.7Z" fill="#3633d8" stroke="#3633d8" stroke-width="0.6"/>
<path d="M550.1 149.1L553.4 146.9L550.2 144.7L546.9 146.8Z" fill="#3633d8" stroke="#3633d8" stroke-width="0.6"/>
<path d="M556.6 149.2L560 147.1L556.8 144.8L553.4 146.9Z" fill="#3633d8" stroke="#3633d8" stroke-width="0.6"/>
<path d="M563.2 149.3L566.5 147.2L563.3 144.9L560 147.1Z" fill="#3633d8" stroke="#3633d8" stroke-width="0.6"/>
<path d="M569.8 149.5L573.1 147.3L569.8 145.1L566.5 147.2Z" fill="#3633d8" stroke="#3633d8" stroke-width="0.6"/>
<path d="M576.3 149.6L579.6 147.5L576.4 145.2L573.1 147.3Z" fill="#3633d8" stroke="#3633d8" stroke-width="0.6"/>
<path d="M582.9 149.8L586.2 147.7L582.9 145.4L579.6 147.5Z" fill="#3633d8" stroke="#3633d8" stroke-width="0.6"/>
<path d="M589.4 150L592.7 147.8L589.4 145.6L586.2 147.7Z" fill="#3633d8" stroke="#3633d8" stroke-width="0.6"/>
<path d="M596 150.1L599.2 148L595.9 145.7L592.7 147.8Z" fill="#3633d8" stroke="#3633d8" stroke-width="0.6"/>
<path d="M602.5 150.3L605.7 148.2L602.4 146L599.2 148Z" fill="#3633d8" stroke="#3633d8" stroke-width="0.6"/>
<path d="M609 150.5L612.2 148.5L608.9 146.2L605.7 148.2Z" fill="#3633d8" stroke="#3633d8" stroke-width="0.6"/>
<path d="M615.6 150.8L618.7 148.7L615.4 146.4L612.2 148.5Z" fill="#3633d8" stroke="#3633d8" stroke-width="0.6"/>
<path d="M622.1 151L625.2 149L621.9 146.7L618.7 148.7Z" fill="#3633d8" stroke="#3633d8" stroke-width="0.6"/>
<path d="M628.6 151.3L631.7 149.2L628.4 146.9L625.2 149Z" fill="#3633d8" stroke="#3633d8" stroke-width="0.6"/>
<path d="M635 151.5L638.2 149.5L634.8 147.2L631.7 149.2Z" fill="#3633d8" stroke="#3633d8" stroke-width="0.6"/>
<path d="M448.4 149.4L451.9 147.4L449 145.3L445.5 147.3Z" fill="#3633d8" stroke="#3633d8" stroke-width="0.6"/>
<path d="M454.9 149.6L458.4 147.6L455.5 145.4L451.9 147.4Z" fill="#3633d8" stroke="#3633d8" stroke-width="0.6"/>
<path d="M461.4 149.7L464.9 147.7L461.9 145.5L458.4 147.6Z" fill="#3633d8" stroke="#3633d8" stroke-width="0.6"/>
<path d="M467.9 149.9L471.4 147.8L468.4 145.6L464.9 147.7Z" fill="#3633d8" stroke="#3633d8" stroke-width="0.6"/>
<path d="M474.4 150L477.9 147.9L474.9 145.7L471.4 147.8Z" fill="#3633d8" stroke="#3633d8" stroke-width="0.6"/>
<path d="M481 150.1L484.5 148L481.4 145.8L477.9 147.9Z" fill="#3633d8" stroke="#3633d8" stroke-width="0.6"/>
<path d="M487.5 150.2L491 148.1L488 145.9L484.5 148Z" fill="#3633d8" stroke="#3633d8" stroke-width="0.6"/>
<path d="M494.1 150.4L497.5 148.2L494.5 146L491 148.1Z" fill="#3633d8" stroke="#3633d8" stroke-width="0.6"/>
<path d="M500.6 150.5L504.1 148.3L501 146.1L497.5 148.2Z" fill="#3633d8" stroke="#3633d8" stroke-width="0.6"/>
<path d="M507.2 150.6L510.6 148.4L507.5 146.2L504.1 148.3Z" fill="#3633d8" stroke="#3633d8" stroke-width="0.6"/>
<path d="M513.8 150.7L517.2 148.5L514.1 146.3L510.6 148.4Z" fill="#3633d8" stroke="#3633d8" stroke-width="0.6"/>
<path d="M520.3 150.8L523.8 148.6L520.6 146.4L517.2 148.5Z" fill="#3633d8" stroke="#3633d8" stroke-width="0.6"/>
<path d="M526.9 150.9L530.3 148.7L527.2 146.5L523.8 148.6Z" fill="#3633d8" stroke="#3633d8" stroke-width="0.6"/>
<path d="M533.5 151L536.9 148.9L533.8 146.6L530.3 148.7Z" fill="#3633d8" stroke="#3633d8" stroke-width="0.6"/>
<path d="M540.1 151.1L543.5 149L540.3 146.7L536.9 148.9Z" fill="#3633d8" stroke="#3633d8" stroke-width="0.6"/>
<path d="M546.7 151.3L550.1 149.1L546.9 146.8L543.5 149Z" fill="#3633d8" stroke="#3633d8" stroke-width="0.6"/>
<path d="M553.3 151.4L556.6 149.2L553.4 146.9L550.1 149.1Z" fill="#3633d8" stroke="#3633d8" stroke-width="0.6"/>
<path d="M559.9 151.5L563.2 149.3L560 147.1L556.6 149.2Z" fill="#3633d8" stroke="#3633d8" stroke-width="0.6"/>
<path d="M566.4 151.7L569.8 149.5L566.5 147.2L563.2 149.3Z" fill="#3633d8" stroke="#3633d8" stroke-width="0.6"/>
<path d="M573 151.8L576.3 149.6L573.1 147.3L569.8 149.5Z" fill="#3633d8" stroke="#3633d8" stroke-width="0.6"/>
<path d="M579.6 152L582.9 149.8L579.6 147.5L576.3 149.6Z" fill="#3633d8" stroke="#3633d8" stroke-width="0.6"/>
<path d="M586.2 152.1L589.4 150L586.2 147.7L582.9 149.8Z" fill="#3633d8" stroke="#3633d8" stroke-width="0.6"/>
<path d="M592.7 152.3L596 150.1L592.7 147.8L589.4 150Z" fill="#3633d8" stroke="#3633d8" stroke-width="0.6"/>
<path d="M599.3 152.5L602.5 150.3L599.2 148L596 150.1Z" fill="#3633d8" stroke="#3633d8" stroke-width="0.6"/>
<path d="M605.8 152.7L609 150.5L605.7 148.2L602.5 150.3Z" fill="#3633d8" stroke="#3633d8" stroke-width="0.6"/>
<path d="M612.4 152.9L615.6 150.8L612.2 148.5L609 150.5Z" fill="#3633d8" stroke="#3633d8" stroke-width="0.6"/>
<path d="M618.9 153.1L622.1 151L618.7 148.7L615.6 150.8Z" fill="#3633d8" stroke="#3633d8" stroke-width="0.6"/>
<path d="M625.4 153.3L628.6 151.3L625.2 149L622.1 151Z" fill="#3633d8" stroke="#3633d8" stroke-width="0.6"/>
<path d="M631.9 153.6L635 151.5L631.7 149.2L628.6 151.3Z" fill="#3633d8" stroke="#3633d8" stroke-width="0.6"/>
<path d="M638.4 153.9L641.5 151.8L638.2 149.5L635 151.5Z" fill="#3633d8" stroke="#3633d8" stroke-width="0.6"/>
<path d="M444.8 151.4L448.4 149.4L445.5 147.3L441.9 149.3Z" fill="#3633d8" stroke="#3633d8" stroke-width="0.6"/>
<path d="M451.3 151.6L454.9 149.6L451.9 147.4L448.4 149.4Z" fill="#3633d8" stroke="#3633d8" stroke-width="0.6"/>
<path d="M457.8 151.8L461.4 149.7L458.4 147.6L454.9 149.6Z" fill="#3633d8" stroke="#3633d8" stroke-width="0.6"/>
<path d="M464.4 151.9L467.9 149.9L464.9 147.7L461.4 149.7Z" fill="#3633d8" stroke="#3633d8" stroke-width="0.6"/>
<path d="M470.9 152.1L474.4 150L471.4 147.8L467.9 149.9Z" fill="#3633d8" stroke="#3633d8" stroke-width="0.6"/>
<path d="M477.4 152.2L481 150.1L477.9 147.9L474.4 150Z" fill="#3633d8" stroke="#3633d8" stroke-width="0.6"/>
<path d="M484 152.4L487.5 150.2L484.5 148L481 150.1Z" fill="#3633d8" stroke="#3633d8" stroke-width="0.6"/>
<path d="M490.6 152.5L494.1 150.4L491 148.1L487.5 150.2Z" fill="#3633d8" stroke="#3633d8" stroke-width="0.6"/>
<path d="M497.1 152.6L500.6 150.5L497.5 148.2L494.1 150.4Z" fill="#3633d8" stroke="#3633d8" stroke-width="0.6"/>
<path d="M503.7 152.7L507.2 150.6L504.1 148.3L500.6 150.5Z" fill="#3633d8" stroke="#3633d8" stroke-width="0.6"/>
<path d="M510.3 152.9L513.8 150.7L510.6 148.4L507.2 150.6Z" fill="#3633d8" stroke="#3633d8" stroke-width="0.6"/>
<path d="M516.9 153L520.3 150.8L517.2 148.5L513.8 150.7Z" fill="#3633d8" stroke="#3633d8" stroke-width="0.6"/>
<path d="M523.5 153.1L526.9 150.9L523.8 148.6L520.3 150.8Z" fill="#3633d8" stroke="#3633d8" stroke-width="0.6"/>
<path d="M530.1 153.2L533.5 151L530.3 148.7L526.9 150.9Z" fill="#3633d8" stroke="#3633d8" stroke-width="0.6"/>
<path d="M536.7 153.3L540.1 151.1L536.9 148.9L533.5 151Z" fill="#3633d8" stroke="#3633d8" stroke-width="0.6"/>
<path d="M543.3 153.5L546.7 151.3L543.5 149L540.1 151.1Z" fill="#3633d8" stroke="#3633d8" stroke-width="0.6"/>
<path d="M549.9 153.6L553.3 151.4L550.1 149.1L546.7 151.3Z" fill="#3633d8" stroke="#3633d8" stroke-width="0.6"/>
<path d="M556.5 153.7L559.9 151.5L556.6 149.2L553.3 151.4Z" fill="#3633d8" stroke="#3633d8" stroke-width="0.6"/>
<path d="M563.1 153.9L566.4 151.7L563.2 149.3L559.9 151.5Z" fill="#3633d8" stroke="#3633d8" stroke-width="0.6"/>
<path d="M569.7 154L573 151.8L569.8 149.5L566.4 151.7Z" fill="#3633d8" stroke="#3633d8" stroke-width="0.6"/>
<path d="M576.3 154.1L579.6 152L576.3 149.6L573 151.8Z" fill="#3633d8" stroke="#3633d8" stroke-width="0.6"/>
<path d="M582.9 154.3L586.2 152.1L582.9 149.8L579.6 152Z" fill="#3633d8" stroke="#3633d8" stroke-width="0.6"/>
<path d="M589.4 154.5L592.7 152.3L589.4 150L586.2 152.1Z" fill="#3633d8" stroke="#3633d8" stroke-width="0.6"/>
<path d="M596 154.6L599.3 152.5L596 150.1L592.7 152.3Z" fill="#3633d8" stroke="#3633d8" stroke-width="0.6"/>
<path d="M602.6 154.8L605.8 152.7L602.5 150.3L599.3 152.5Z" fill="#3633d8" stroke="#3633d8" stroke-width="0.6"/>
<path d="M609.1 155L612.4 152.9L609 150.5L605.8 152.7Z" fill="#3633d8" stroke="#3633d8" stroke-width="0.6"/>
<path d="M615.7 155.2L618.9 153.1L615.6 150.8L612.4 152.9Z" fill="#3633d8" stroke="#3633d8" stroke-width="0.6"/>
<path d="M622.2 155.5L625.4 153.3L622.1 151L618.9 153.1Z" fill="#3633d8" stroke="#3633d8" stroke-width="0.6"/>
<path d="M628.8 155.7L631.9 153.6L628.6 151.3L625.4 153.3Z" fill="#3633d8" stroke="#3633d8" stroke-width="0.6"/>
<path d="M635.3 156L638.4 153.9L635 151.5L631.9 153.6Z" fill="#3633d8" stroke="#3633d8" stroke-width="0.6"/>
<path d="M641.8 156.2L644.9 154.2L641.5 151.8L638.4 153.9Z" fill="#3633d8" stroke="#3633d8" stroke-width="0.6"/>
<path d="M441.3 153.4L444.8 151.4L441.9 149.3L438.4 151.2Z" fill="#3633d8" stroke="#3633d8" stroke-width="0.6"/>
<path d="M447.8 153.6L451.3 151.6L448.4 149.4L444.8 151.4Z" fill="#3633d8" stroke="#3633d8" stroke-width="0.6"/>
<path d="M454.3 153.8L457.8 151.8L454.9 149.6L451.3 151.6Z" fill="#3633d8" stroke="#3633d8" stroke-width="0.6"/>
<path d="M460.8 154L464.4 151.9L461.4 149.7L457.8 151.8Z" fill="#3633d8" stroke="#3633d8" stroke-width="0.6"/>
<path d="M467.4 154.2L470.9 152.1L467.9 149.9L464.4 151.9Z" fill="#3633d8" stroke="#3633d8" stroke-width="0.6"/>
<path d="M473.9 154.3L477.4 152.2L474.4 150L470.9 152.1Z" fill="#3633d8" stroke="#3633d8" stroke-width="0.6"/>
<path d="M480.5 154.5L484 152.4L481 150.1L477.4 152.2Z" fill="#3633d8" stroke="#3633d8" stroke-width="0.6"/>
<path d="M487 154.6L490.6 152.5L487.5 150.2L484 152.4Z" fill="#3633d8" stroke="#3633d8" stroke-width="0.6"/>
<path d="M493.6 154.8L497.1 152.6L494.1 150.4L490.6 152.5Z" fill="#3633d8" stroke="#3633d8" stroke-width="0.6"/>
<path d="M500.2 154.9L503.7 152.7L500.6 150.5L497.1 152.6Z" fill="#3633d8" stroke="#3633d8" stroke-width="0.6"/>
<path d="M506.8 155L510.3 152.9L507.2 150.6L503.7 152.7Z" fill="#3633d8" stroke="#3633d8" stroke-width="0.6"/>
<path d="M513.4 155.2L516.9 153L513.8 150.7L510.3 152.9Z" fill="#3633d8" stroke="#3633d8" stroke-width="0.6"/>
<path d="M520 155.3L523.5 153.1L520.3 150.8L516.9 153Z" fill="#3633d8" stroke="#3633d8" stroke-width="0.6"/>
<path d="M526.6 155.4L530.1 153.2L526.9 150.9L523.5 153.1Z" fill="#3633d8" stroke="#3633d8" stroke-width="0.6"/>
<path d="M533.3 155.6L536.7 153.3L533.5 151L530.1 153.2Z" fill="#3633d8" stroke="#3633d8" stroke-width="0.6"/>
<path d="M539.9 155.7L543.3 153.5L540.1 151.1L536.7 153.3Z" fill="#3633d8" stroke="#3633d8" stroke-width="0.6"/>
<path d="M546.5 155.8L549.9 153.6L546.7 151.3L543.3 153.5Z" fill="#3633d8" stroke="#3633d8" stroke-width="0.6"/>
<path d="M553.1 155.9L556.5 153.7L553.3 151.4L549.9 153.6Z" fill="#3633d8" stroke="#3633d8" stroke-width="0.6"/>
<path d="M559.7 156.1L563.1 153.9L559.9 151.5L556.5 153.7Z" fill="#3633d8" stroke="#3633d8" stroke-width="0.6"/>
<path d="M566.3 156.2L569.7 154L566.4 151.7L563.1 153.9Z" fill="#3633d8" stroke="#3633d8" stroke-width="0.6"/>
<path d="M572.9 156.4L576.3 154.1L573 151.8L569.7 154Z" fill="#3633d8" stroke="#3633d8" stroke-width="0.6"/>
<path d="M579.5 156.5L582.9 154.3L579.6 152L576.3 154.1Z" fill="#3633d8" stroke="#3633d8" stroke-width="0.6"/>
<path d="M586.1 156.7L589.4 154.5L586.2 152.1L582.9 154.3Z" fill="#3633d8" stroke="#3633d8" stroke-width="0.6"/>
<path d="M592.7 156.8L596 154.6L592.7 152.3L589.4 154.5Z" fill="#3633d8" stroke="#3633d8" stroke-width="0.6"/>
<path d="M599.3 157L602.6 154.8L599.3 152.5L596 154.6Z" fill="#3633d8" stroke="#3633d8" stroke-width="0.6"/>
<path d="M605.9 157.2L609.1 155L605.8 152.7L602.6 154.8Z" fill="#3633d8" stroke="#3633d8" stroke-width="0.6"/>
<path d="M612.5 157.4L615.7 155.2L612.4 152.9L609.1 155Z" fill="#3633d8" stroke="#3633d8" stroke-width="0.6"/>
<path d="M619 157.6L622.2 155.5L618.9 153.1L615.7 155.2Z" fill="#3633d8" stroke="#3633d8" stroke-width="0.6"/>
<path d="M625.6 157.8L628.8 155.7L625.4 153.3L622.2 155.5Z" fill="#3633d8" stroke="#3633d8" stroke-width="0.6"/>
<path d="M632.1 158.1L635.3 156L631.9 153.6L628.8 155.7Z" fill="#3633d8" stroke="#3633d8" stroke-width="0.6"/>
<path d="M638.6 158.3L641.8 156.2L638.4 153.9L635.3 156Z" fill="#3633d8" stroke="#3633d8" stroke-width="0.6"/>
<path d="M645.1 158.6L648.2 156.5L644.9 154.2L641.8 156.2Z" fill="#3633d8" stroke="#3633d8" stroke-width="0.6"/>
<path d="M437.7 155.4L441.3 153.4L438.4 151.2L434.8 153.2Z" fill="#3633d8" stroke="#3633d8" stroke-width="0.6"/>
<path d="M444.2 155.6L447.8 153.6L444.8 151.4L441.3 153.4Z" fill="#3633d8" stroke="#3633d8" stroke-width="0.6"/>
<path d="M450.7 155.8L454.3 153.8L451.3 151.6L447.8 153.6Z" fill="#3633d8" stroke="#3633d8" stroke-width="0.6"/>
<path d="M457.2 156L460.8 154L457.8 151.8L454.3 153.8Z" fill="#3633d8" stroke="#3633d8" stroke-width="0.6"/>
<path d="M463.8 156.2L467.4 154.2L464.4 151.9L460.8 154Z" fill="#3633d8" stroke="#3633d8" stroke-width="0.6"/>
<path d="M470.4 156.4L473.9 154.3L470.9 152.1L467.4 154.2Z" fill="#3633d8" stroke="#3633d8" stroke-width="0.6"/>
<path d="M476.9 156.6L480.5 154.5L477.4 152.2L473.9 154.3Z" fill="#3633d8" stroke="#3633d8" stroke-width="0.6"/>
<path d="M483.5 156.8L487 154.6L484 152.4L480.5 154.5Z" fill="#3633d8" stroke="#3633d8" stroke-width="0.6"/>
<path d="M490.1 156.9L493.6 154.8L490.6 152.5L487 154.6Z" fill="#3633d8" stroke="#3633d8" stroke-width="0.6"/>
<path d="M496.7 157.1L500.2 154.9L497.1 152.6L493.6 154.8Z" fill="#3633d8" stroke="#3633d8" stroke-width="0.6"/>
<path d="M503.3 157.2L506.8 155L503.7 152.7L500.2 154.9Z" fill="#3633d8" stroke="#3633d8" stroke-width="0.6"/>
<path d="M509.9 157.4L513.4 155.2L510.3 152.9L506.8 155Z" fill="#3633d8" stroke="#3633d8" stroke-width="0.6"/>
<path d="M516.6 157.5L520 155.3L516.9 153L513.4 155.2Z" fill="#3633d8" stroke="#3633d8" stroke-width="0.6"/>
<path d="M523.2 157.6L526.6 155.4L523.5 153.1L520 155.3Z" fill="#3633d8" stroke="#3633d8" stroke-width="0.6"/>
<path d="M529.8 157.8L533.3 155.6L530.1 153.2L526.6 155.4Z" fill="#3633d8" stroke="#3633d8" stroke-width="0.6"/>
<path d="M536.4 157.9L539.9 155.7L536.7 153.3L533.3 155.6Z" fill="#3633d8" stroke="#3633d8" stroke-width="0.6"/>
<path d="M543.1 158L546.5 155.8L543.3 153.5L539.9 155.7Z" fill="#3633d8" stroke="#3633d8" stroke-width="0.6"/>
<path d="M549.7 158.2L553.1 155.9L549.9 153.6L546.5 155.8Z" fill="#3633d8" stroke="#3633d8" stroke-width="0.6"/>
<path d="M556.3 158.3L559.7 156.1L556.5 153.7L553.1 155.9Z" fill="#3633d8" stroke="#3633d8" stroke-width="0.6"/>
<path d="M563 158.5L566.3 156.2L563.1 153.9L559.7 156.1Z" fill="#3633d8" stroke="#3633d8" stroke-width="0.6"/>
<path d="M569.6 158.6L572.9 156.4L569.7 154L566.3 156.2Z" fill="#3633d8" stroke="#3633d8" stroke-width="0.6"/>
<path d="M576.2 158.8L579.5 156.5L576.3 154.1L572.9 156.4Z" fill="#3633d8" stroke="#3633d8" stroke-width="0.6"/>
<path d="M582.8 158.9L586.1 156.7L582.9 154.3L579.5 156.5Z" fill="#3633d8" stroke="#3633d8" stroke-width="0.6"/>
<path d="M589.5 159.1L592.7 156.8L589.4 154.5L586.1 156.7Z" fill="#3633d8" stroke="#3633d8" stroke-width="0.6"/>
<path d="M596.1 159.2L599.3 157L596 154.6L592.7 156.8Z" fill="#3633d8" stroke="#3633d8" stroke-width="0.6"/>
<path d="M602.7 159.4L605.9 157.2L602.6 154.8L599.3 157Z" fill="#3633d8" stroke="#3633d8" stroke-width="0.6"/>
<path d="M609.2 159.6L612.5 157.4L609.1 155L605.9 157.2Z" fill="#3633d8" stroke="#3633d8" stroke-width="0.6"/>
<path d="M615.8 159.8L619 157.6L615.7 155.2L612.5 157.4Z" fill="#3633d8" stroke="#3633d8" stroke-width="0.6"/>
<path d="M622.4 160L625.6 157.8L622.2 155.5L619 157.6Z" fill="#3633d8" stroke="#3633d8" stroke-width="0.6"/>
<path d="M628.9 160.2L632.1 158.1L628.8 155.7L625.6 157.8Z" fill="#3633d8" stroke="#3633d8" stroke-width="0.6"/>
<path d="M635.5 160.5L638.6 158.3L635.3 156L632.1 158.1Z" fill="#3633d8" stroke="#3633d8" stroke-width="0.6"/>
<path d="M642 160.7L645.1 158.6L641.8 156.2L638.6 158.3Z" fill="#3633d8" stroke="#3633d8" stroke-width="0.6"/>
<path d="M648.5 161L651.6 158.9L648.2 156.5L645.1 158.6Z" fill="#3633d8" stroke="#3633d8" stroke-width="0.6"/>
<path d="M434.1 157.3L437.7 155.4L434.8 153.2L431.2 155.1Z" fill="#3633d8" stroke="#3633d8" stroke-width="0.6"/>
<path d="M440.6 157.6L444.2 155.6L441.3 153.4L437.7 155.4Z" fill="#3633d8" stroke="#3633d8" stroke-width="0.6"/>
<path d="M447.1 157.8L450.7 155.8L447.8 153.6L444.2 155.6Z" fill="#3633d8" stroke="#3633d8" stroke-width="0.6"/>
<path d="M453.7 158.1L457.2 156L454.3 153.8L450.7 155.8Z" fill="#3633d8" stroke="#3633d8" stroke-width="0.6"/>
<path d="M460.2 158.3L463.8 156.2L460.8 154L457.2 156Z" fill="#3633d8" stroke="#3633d8" stroke-width="0.6"/>
<path d="M466.8 158.5L470.4 156.4L467.4 154.2L463.8 156.2Z" fill="#3633d8" stroke="#3633d8" stroke-width="0.6"/>
<path d="M473.4 158.7L476.9 156.6L473.9 154.3L470.4 156.4Z" fill="#3633d8" stroke="#3633d8" stroke-width="0.6"/>
<path d="M480 158.9L483.5 156.8L480.5 154.5L476.9 156.6Z" fill="#3633d8" stroke="#3633d8" stroke-width="0.6"/>
<path d="M486.6 159.1L490.1 156.9L487 154.6L483.5 156.8Z" fill="#3633d8" stroke="#3633d8" stroke-width="0.6"/>
<path d="M493.2 159.2L496.7 157.1L493.6 154.8L490.1 156.9Z" fill="#3633d8" stroke="#3633d8" stroke-width="0.6"/>
<path d="M499.8 159.4L503.3 157.2L500.2 154.9L496.7 157.1Z" fill="#3633d8" stroke="#3633d8" stroke-width="0.6"/>
<path d="M506.4 159.6L509.9 157.4L506.8 155L503.3 157.2Z" fill="#3633d8" stroke="#3633d8" stroke-width="0.6"/>
<path d="M513.1 159.7L516.6 157.5L513.4 155.2L509.9 157.4Z" fill="#3633d8" stroke="#3633d8" stroke-width="0.6"/>
<path d="M519.7 159.9L523.2 157.6L520 155.3L516.6 157.5Z" fill="#3633d8" stroke="#3633d8" stroke-width="0.6"/>
<path d="M526.4 160L529.8 157.8L526.6 155.4L523.2 157.6Z" fill="#3633d8" stroke="#3633d8" stroke-width="0.6"/>
<path d="M533 160.2L536.4 157.9L533.3 155.6L529.8 157.8Z" fill="#3633d8" stroke="#3633d8" stroke-width="0.6"/>
<path d="M539.6 160.3L543.1 158L539.9 155.7L536.4 157.9Z" fill="#3633d8" stroke="#3633d8" stroke-width="0.6"/>
<path d="M546.3 160.4L549.7 158.2L546.5 155.8L543.1 158Z" fill="#3633d8" stroke="#3633d8" stroke-width="0.6"/>
<path d="M552.9 160.6L556.3 158.3L553.1 155.9L549.7 158.2Z" fill="#3633d8" stroke="#3633d8" stroke-width="0.6"/>
<path d="M559.6 160.7L563 158.5L559.7 156.1L556.3 158.3Z" fill="#3633d8" stroke="#3633d8" stroke-width="0.6"/>
<path d="M566.2 160.9L569.6 158.6L566.3 156.2L563 158.5Z" fill="#3633d8" stroke="#3633d8" stroke-width="0.6"/>
<path d="M572.9 161L576.2 158.8L572.9 156.4L569.6 158.6Z" fill="#3633d8" stroke="#3633d8" stroke-width="0.6"/>
<path d="M579.5 161.2L582.8 158.9L579.5 156.5L576.2 158.8Z" fill="#3633d8" stroke="#3633d8" stroke-width="0.6"/>
<path d="M586.1 161.3L589.5 159.1L586.1 156.7L582.8 158.9Z" fill="#3633d8" stroke="#3633d8" stroke-width="0.6"/>
<path d="M592.8 161.5L596.1 159.2L592.7 156.8L589.5 159.1Z" fill="#3633d8" stroke="#3633d8" stroke-width="0.6"/>
<path d="M599.4 161.7L602.7 159.4L599.3 157L596.1 159.2Z" fill="#3633d8" stroke="#3633d8" stroke-width="0.6"/>
<path d="M606 161.8L609.2 159.6L605.9 157.2L602.7 159.4Z" fill="#3633d8" stroke="#3633d8" stroke-width="0.6"/>
<path d="M612.6 162L615.8 159.8L612.5 157.4L609.2 159.6Z" fill="#3633d8" stroke="#3633d8" stroke-width="0.6"/>
<path d="M619.2 162.2L622.4 160L619 157.6L615.8 159.8Z" fill="#3633d8" stroke="#3633d8" stroke-width="0.6"/>
<path d="M625.8 162.5L628.9 160.2L625.6 157.8L622.4 160Z" fill="#3633d8" stroke="#3633d8" stroke-width="0.6"/>
<path d="M632.3 162.7L635.5 160.5L632.1 158.1L628.9 160.2Z" fill="#3633d8" stroke="#3633d8" stroke-width="0.6"/>
<path d="M638.9 162.9L642 160.7L638.6 158.3L635.5 160.5Z" fill="#3633d8" stroke="#3633d8" stroke-width="0.6"/>
<path d="M645.4 163.2L648.5 161L645.1 158.6L642 160.7Z" fill="#3633d8" stroke="#3633d8" stroke-width="0.6"/>
<path d="M651.9 163.4L655 161.3L651.6 158.9L648.5 161Z" fill="#3633d8" stroke="#3633d8" stroke-width="0.6"/>
<path d="M430.5 159.3L434.1 157.3L431.2 155.1L427.6 157.1Z" fill="#3633d8" stroke="#3633d8" stroke-width="0.6"/>
<path d="M437 159.6L440.6 157.6L437.7 155.4L434.1 157.3Z" fill="#3633d8" stroke="#3633d8" stroke-width="0.6"/>
<path d="M443.5 159.9L447.1 157.8L444.2 155.6L440.6 157.6Z" fill="#3633d8" stroke="#3633d8" stroke-width="0.6"/>
<path d="M450.1 160.1L453.7 158.1L450.7 155.8L447.1 157.8Z" fill="#3633d8" stroke="#3633d8" stroke-width="0.6"/>
<path d="M456.6 160.4L460.2 158.3L457.2 156L453.7 158.1Z" fill="#3633d8" stroke="#3633d8" stroke-width="0.6"/>
<path d="M463.2 160.6L466.8 158.5L463.8 156.2L460.2 158.3Z" fill="#3633d8" stroke="#3633d8" stroke-width="0.6"/>
<path d="M469.8 160.8L473.4 158.7L470.4 156.4L466.8 158.5Z" fill="#3633d8" stroke="#3633d8" stroke-width="0.6"/>
<path d="M476.4 161L480 158.9L476.9 156.6L473.4 158.7Z" fill="#3633d8" stroke="#3633d8" stroke-width="0.6"/>
<path d="M483 161.2L486.6 159.1L483.5 156.8L480 158.9Z" fill="#3633d8" stroke="#3633d8" stroke-width="0.6"/>
<path d="M489.7 161.4L493.2 159.2L490.1 156.9L486.6 159.1Z" fill="#3633d8" stroke="#3633d8" stroke-width="0.6"/>
<path d="M496.3 161.6L499.8 159.4L496.7 157.1L493.2 159.2Z" fill="#3633d8" stroke="#3633d8" stroke-width="0.6"/>
<path d="M502.9 161.8L506.4 159.6L503.3 157.2L499.8 159.4Z" fill="#3633d8" stroke="#3633d8" stroke-width="0.6"/>
<path d="M509.6 161.9L513.1 159.7L509.9 157.4L506.4 159.6Z" fill="#3633d8" stroke="#3633d8" stroke-width="0.6"/>
<path d="M516.2 162.1L519.7 159.9L516.6 157.5L513.1 159.7Z" fill="#3633d8" stroke="#3633d8" stroke-width="0.6"/>
<path d="M522.9 162.3L526.4 160L523.2 157.6L519.7 159.9Z" fill="#3633d8" stroke="#3633d8" stroke-width="0.6"/>
<path d="M529.5 162.4L533 160.2L529.8 157.8L526.4 160Z" fill="#3633d8" stroke="#3633d8" stroke-width="0.6"/>
<path d="M536.2 162.6L539.6 160.3L536.4 157.9L533 160.2Z" fill="#3633d8" stroke="#3633d8" stroke-width="0.6"/>
<path d="M542.9 162.7L546.3 160.4L543.1 158L539.6 160.3Z" fill="#3633d8" stroke="#3633d8" stroke-width="0.6"/>
<path d="M549.5 162.9L552.9 160.6L549.7 158.2L546.3 160.4Z" fill="#3633d8" stroke="#3633d8" stroke-width="0.6"/>
<path d="M556.2 163L559.6 160.7L556.3 158.3L552.9 160.6Z" fill="#3633d8" stroke="#3633d8" stroke-width="0.6"/>
<path d="M562.9 163.2L566.2 160.9L563 158.5L559.6 160.7Z" fill="#3633d8" stroke="#3633d8" stroke-width="0.6"/>
<path d="M569.5 163.3L572.9 161L569.6 158.6L566.2 160.9Z" fill="#3633d8" stroke="#3633d8" stroke-width="0.6"/>
<path d="M576.2 163.5L579.5 161.2L576.2 158.8L572.9 161Z" fill="#3633d8" stroke="#3633d8" stroke-width="0.6"/>
<path d="M582.8 163.6L586.1 161.3L582.8 158.9L579.5 161.2Z" fill="#3633d8" stroke="#3633d8" stroke-width="0.6"/>
<path d="M589.5 163.8L592.8 161.5L589.5 159.1L586.1 161.3Z" fill="#3633d8" stroke="#3633d8" stroke-width="0.6"/>
<path d="M596.1 163.9L599.4 161.7L596.1 159.2L592.8 161.5Z" fill="#3633d8" stroke="#3633d8" stroke-width="0.6"/>
<path d="M602.7 164.1L606 161.8L602.7 159.4L599.4 161.7Z" fill="#3633d8" stroke="#3633d8" stroke-width="0.6"/>
<path d="M609.4 164.3L612.6 162L609.2 159.6L606 161.8Z" fill="#3633d8" stroke="#3633d8" stroke-width="0.6"/>
<path d="M616 164.5L619.2 162.2L615.8 159.8L612.6 162Z" fill="#3633d8" stroke="#3633d8" stroke-width="0.6"/>
<path d="M622.6 164.7L625.8 162.5L622.4 160L619.2 162.2Z" fill="#3633d8" stroke="#3633d8" stroke-width="0.6"/>
<path d="M629.2 164.9L632.3 162.7L628.9 160.2L625.8 162.5Z" fill="#3633d8" stroke="#3633d8" stroke-width="0.6"/>
<path d="M635.7 165.1L638.9 162.9L635.5 160.5L632.3 162.7Z" fill="#3633d8" stroke="#3633d8" stroke-width="0.6"/>
<path d="M642.3 165.4L645.4 163.2L642 160.7L638.9 162.9Z" fill="#3633d8" stroke="#3633d8" stroke-width="0.6"/>
<path d="M648.8 165.6L651.9 163.4L648.5 161L645.4 163.2Z" fill="#3633d8" stroke="#3633d8" stroke-width="0.6"/>
<path d="M655.4 165.9L658.5 163.7L655 161.3L651.9 163.4Z" fill="#3633d8" stroke="#3633d8" stroke-width="0.6"/>
<path d="M426.8 161.2L430.5 159.3L427.6 157.1L424 159Z" fill="#3637d8" stroke="#3637d8" stroke-width="0.6"/>
<path d="M433.4 161.5L437 159.6L434.1 157.3L430.5 159.3Z" fill="#3636d8" stroke="#3636d8" stroke-width="0.6"/>
<path d="M439.9 161.9L443.5 159.9L440.6 157.6L437 159.6Z" fill="#3634d8" stroke="#3634d8" stroke-width="0.6"/>
<path d="M446.5 162.1L450.1 160.1L447.1 157.8L443.5 159.9Z" fill="#3633d8" stroke="#3633d8" stroke-width="0.6"/>
<path d="M453 162.4L456.6 160.4L453.7 158.1L450.1 160.1Z" fill="#3633d8" stroke="#3633d8" stroke-width="0.6"/>
<path d="M459.6 162.7L463.2 160.6L460.2 158.3L456.6 160.4Z" fill="#3633d8" stroke="#3633d8" stroke-width="0.6"/>
<path d="M466.2 162.9L469.8 160.8L466.8 158.5L463.2 160.6Z" fill="#3633d8" stroke="#3633d8" stroke-width="0.6"/>
<path d="M472.8 163.2L476.4 161L473.4 158.7L469.8 160.8Z" fill="#3633d8" stroke="#3633d8" stroke-width="0.6"/>
<path d="M479.5 163.4L483 161.2L480 158.9L476.4 161Z" fill="#3633d8" stroke="#3633d8" stroke-width="0.6"/>
<path d="M486.1 163.6L489.7 161.4L486.6 159.1L483 161.2Z" fill="#3633d8" stroke="#3633d8" stroke-width="0.6"/>
<path d="M492.8 163.8L496.3 161.6L493.2 159.2L489.7 161.4Z" fill="#3633d8" stroke="#3633d8" stroke-width="0.6"/>
<path d="M499.4 164L502.9 161.8L499.8 159.4L496.3 161.6Z" fill="#3633d8" stroke="#3633d8" stroke-width="0.6"/>
<path d="M506.1 164.2L509.6 161.9L506.4 159.6L502.9 161.8Z" fill="#3633d8" stroke="#3633d8" stroke-width="0.6"/>
<path d="M512.7 164.3L516.2 162.1L513.1 159.7L509.6 161.9Z" fill="#3633d8" stroke="#3633d8" stroke-width="0.6"/>
<path d="M519.4 164.5L522.9 162.3L519.7 159.9L516.2 162.1Z" fill="#3633d8" stroke="#3633d8" stroke-width="0.6"/>
<path d="M526.1 164.7L529.5 162.4L526.4 160L522.9 162.3Z" fill="#3633d8" stroke="#3633d8" stroke-width="0.6"/>
<path d="M532.7 164.8L536.2 162.6L533 160.2L529.5 162.4Z" fill="#3633d8" stroke="#3633d8" stroke-width="0.6"/>
<path d="M539.4 165L542.9 162.7L539.6 160.3L536.2 162.6Z" fill="#3633d8" stroke="#3633d8" stroke-width="0.6"/>
<path d="M546.1 165.2L549.5 162.9L546.3 160.4L542.9 162.7Z" fill="#3633d8" stroke="#3633d8" stroke-width="0.6"/>
<path d="M552.8 165.3L556.2 163L552.9 160.6L549.5 162.9Z" fill="#3633d8" stroke="#3633d8" stroke-width="0.6"/>
<path d="M559.5 165.5L562.9 163.2L559.6 160.7L556.2 163Z" fill="#3633d8" stroke="#3633d8" stroke-width="0.6"/>
<path d="M566.1 165.6L569.5 163.3L566.2 160.9L562.9 163.2Z" fill="#3633d8" stroke="#3633d8" stroke-width="0.6"/>
<path d="M572.8 165.8L576.2 163.5L572.9 161L569.5 163.3Z" fill="#3633d8" stroke="#3633d8" stroke-width="0.6"/>
<path d="M579.5 165.9L582.8 163.6L579.5 161.2L576.2 163.5Z" fill="#3633d8" stroke="#3633d8" stroke-width="0.6"/>
<path d="M586.1 166.1L589.5 163.8L586.1 161.3L582.8 163.6Z" fill="#3633d8" stroke="#3633d8" stroke-width="0.6"/>
<path d="M592.8 166.2L596.1 163.9L592.8 161.5L589.5 163.8Z" fill="#3633d8" stroke="#3633d8" stroke-width="0.6"/>
<path d="M599.4 166.4L602.7 164.1L599.4 161.7L596.1 163.9Z" fill="#3633d8" stroke="#3633d8" stroke-width="0.6"/>
<path d="M606.1 166.6L609.4 164.3L606 161.8L602.7 164.1Z" fill="#3633d8" stroke="#3633d8" stroke-width="0.6"/>
<path d="M612.7 166.8L616 164.5L612.6 162L609.4 164.3Z" fill="#3633d8" stroke="#3633d8" stroke-width="0.6"/>
<path d="M619.3 167L622.6 164.7L619.2 162.2L616 164.5Z" fill="#3633d8" stroke="#3633d8" stroke-width="0.6"/>
<path d="M626 167.2L629.2 164.9L625.8 162.5L622.6 164.7Z" fill="#3633d8" stroke="#3633d8" stroke-width="0.6"/>
<path d="M632.6 167.4L635.7 165.1L632.3 162.7L629.2 164.9Z" fill="#3633d8" stroke="#3633d8" stroke-width="0.6"/>
<path d="M639.1 167.6L642.3 165.4L638.9 162.9L635.7 165.1Z" fill="#3633d8" stroke="#3633d8" stroke-width="0.6"/>
<path d="M645.7 167.8L648.8 165.6L645.4 163.2L642.3 165.4Z" fill="#3633d8" stroke="#3633d8" stroke-width="0.6"/>
<path d="M652.3 168.1L655.4 165.9L651.9 163.4L648.8 165.6Z" fill="#3633d8" stroke="#3633d8" stroke-width="0.6"/>
<path d="M658.8 168.3L661.9 166.1L658.5 163.7L655.4 165.9Z" fill="#3633d8" stroke="#3633d8" stroke-width="0.6"/>
<path d="M423.2 163.1L426.8 161.2L424 159L420.3 160.9Z" fill="#364bd8" stroke="#364bd8" stroke-width="0.6"/>
<path d="M429.7 163.5L433.4 161.5L430.5 159.3L426.8 161.2Z" fill="#364ad8" stroke="#364ad8" stroke-width="0.6"/>
<path d="M436.3 163.8L439.9 161.9L437 159.6L433.4 161.5Z" fill="#3648d8" stroke="#3648d8" stroke-width="0.6"/>
<path d="M442.8 164.2L446.5 162.1L443.5 159.9L439.9 161.9Z" fill="#3647d8" stroke="#3647d8" stroke-width="0.6"/>
<path d="M449.4 164.5L453 162.4L450.1 160.1L446.5 162.1Z" fill="#3645d8" stroke="#3645d8" stroke-width="0.6"/>
<path d="M456 164.8L459.6 162.7L456.6 160.4L453 162.4Z" fill="#3644d8" stroke="#3644d8" stroke-width="0.6"/>
<path d="M462.6 165L466.2 162.9L463.2 160.6L459.6 162.7Z" fill="#3642d8" stroke="#3642d8" stroke-width="0.6"/>
<path d="M469.3 165.3L472.8 163.2L469.8 160.8L466.2 162.9Z" fill="#3640d8" stroke="#3640d8" stroke-width="0.6"/>
<path d="M475.9 165.5L479.5 163.4L476.4 161L472.8 163.2Z" fill="#363ed8" stroke="#363ed8" stroke-width="0.6"/>
<path d="M482.5 165.8L486.1 163.6L483 161.2L479.5 163.4Z" fill="#363dd8" stroke="#363dd8" stroke-width="0.6"/>
<path d="M489.2 166L492.8 163.8L489.7 161.4L486.1 163.6Z" fill="#363bd8" stroke="#363bd8" stroke-width="0.6"/>
<path d="M495.9 166.2L499.4 164L496.3 161.6L492.8 163.8Z" fill="#3639d8" stroke="#3639d8" stroke-width="0.6"/>
<path d="M502.5 166.4L506.1 164.2L502.9 161.8L499.4 164Z" fill="#3637d8" stroke="#3637d8" stroke-width="0.6"/>
<path d="M509.2 166.6L512.7 164.3L509.6 161.9L506.1 164.2Z" fill="#3636d8" stroke="#3636d8" stroke-width="0.6"/>
<path d="M515.9 166.8L519.4 164.5L516.2 162.1L512.7 164.3Z" fill="#3634d8" stroke="#3634d8" stroke-width="0.6"/>
<path d="M522.6 167L526.1 164.7L522.9 162.3L519.4 164.5Z" fill="#3633d8" stroke="#3633d8" stroke-width="0.6"/>
<path d="M529.3 167.1L532.7 164.8L529.5 162.4L526.1 164.7Z" fill="#3633d8" stroke="#3633d8" stroke-width="0.6"/>
<path d="M536 167.3L539.4 165L536.2 162.6L532.7 164.8Z" fill="#3633d8" stroke="#3633d8" stroke-width="0.6"/>
<path d="M542.7 167.5L546.1 165.2L542.9 162.7L539.4 165Z" fill="#3633d8" stroke="#3633d8" stroke-width="0.6"/>
<path d="M549.4 167.6L552.8 165.3L549.5 162.9L546.1 165.2Z" fill="#3633d8" stroke="#3633d8" stroke-width="0.6"/>
<path d="M556 167.8L559.5 165.5L556.2 163L552.8 165.3Z" fill="#3633d8" stroke="#3633d8" stroke-width="0.6"/>
<path d="M562.7 167.9L566.1 165.6L562.9 163.2L559.5 165.5Z" fill="#3633d8" stroke="#3633d8" stroke-width="0.6"/>
<path d="M569.4 168.1L572.8 165.8L569.5 163.3L566.1 165.6Z" fill="#3633d8" stroke="#3633d8" stroke-width="0.6"/>
<path d="M576.1 168.3L579.5 165.9L576.2 163.5L572.8 165.8Z" fill="#3633d8" stroke="#3633d8" stroke-width="0.6"/>
<path d="M582.8 168.4L586.1 166.1L582.8 163.6L579.5 165.9Z" fill="#3633d8" stroke="#3633d8" stroke-width="0.6"/>
<path d="M589.5 168.6L592.8 166.2L589.5 163.8L586.1 166.1Z" fill="#3633d8" stroke="#3633d8" stroke-width="0.6"/>
<path d="M596.1 168.7L599.4 166.4L596.1 163.9L592.8 166.2Z" fill="#3633d8" stroke="#3633d8" stroke-width="0.6"/>
<path d="M602.8 168.9L606.1 166.6L602.7 164.1L599.4 166.4Z" fill="#3633d8" stroke="#3633d8" stroke-width="0.6"/>
<path d="M609.5 169.1L612.7 166.8L609.4 164.3L606.1 166.6Z" fill="#3633d8" stroke="#3633d8" stroke-width="0.6"/>
<path d="M616.1 169.3L619.3 167L616 164.5L612.7 166.8Z" fill="#3633d8" stroke="#3633d8" stroke-width="0.6"/>
<path d="M622.7 169.5L626 167.2L622.6 164.7L619.3 167Z" fill="#3633d8" stroke="#3633d8" stroke-width="0.6"/>
<path d="M629.4 169.7L632.6 167.4L629.2 164.9L626 167.2Z" fill="#3633d8" stroke="#3633d8" stroke-width="0.6"/>
<path d="M636 169.9L639.1 167.6L635.7 165.1L632.6 167.4Z" fill="#3633d8" stroke="#3633d8" stroke-width="0.6"/>
<path d="M642.6 170.1L645.7 167.8L642.3 165.4L639.1 167.6Z" fill="#3633d8" stroke="#3633d8" stroke-width="0.6"/>
<path d="M649.1 170.3L652.3 168.1L648.8 165.6L645.7 167.8Z" fill="#3633d8" stroke="#3633d8" stroke-width="0.6"/>
<path d="M655.7 170.6L658.8 168.3L655.4 165.9L652.3 168.1Z" fill="#3633d8" stroke="#3633d8" stroke-width="0.6"/>
<path d="M662.3 170.8L665.3 168.6L661.9 166.1L658.8 168.3Z" fill="#3633d8" stroke="#3633d8" stroke-width="0.6"/>
<path d="M419.5 165L423.2 163.1L420.3 160.9L416.7 162.8Z" fill="#3660d8" stroke="#3660d8" stroke-width="0.6"/>
<path d="M426.1 165.4L429.7 163.5L426.8 161.2L423.2 163.1Z" fill="#365ed8" stroke="#365ed8" stroke-width="0.6"/>
<path d="M432.6 165.8L436.3 163.8L433.4 161.5L429.7 163.5Z" fill="#365dd8" stroke="#365dd8" stroke-width="0.6"/>
<path d="M439.2 166.2L442.8 164.2L439.9 161.9L436.3 163.8Z" fill="#365bd8" stroke="#365bd8" stroke-width="0.6"/>
<path d="M445.8 166.5L449.4 164.5L446.5 162.1L442.8 164.2Z" fill="#3659d8" stroke="#3659d8" stroke-width="0.6"/>
<path d="M452.4 166.8L456 164.8L453 162.4L449.4 164.5Z" fill="#3658d8" stroke="#3658d8" stroke-width="0.6"/>
<path d="M459 167.1L462.6 165L459.6 162.7L456 164.8Z" fill="#3656d8" stroke="#3656d8" stroke-width="0.6"/>
<path d="M465.7 167.4L469.3 165.3L466.2 162.9L462.6 165Z" fill="#3654d8" stroke="#3654d8" stroke-width="0.6"/>
<path d="M472.3 167.7L475.9 165.5L472.8 163.2L469.3 165.3Z" fill="#3652d8" stroke="#3652d8" stroke-width="0.6"/>
<path d="M479 167.9L482.5 165.8L479.5 163.4L475.9 165.5Z" fill="#3650d8" stroke="#3650d8" stroke-width="0.6"/>
<path d="M485.6 168.2L489.2 166L486.1 163.6L482.5 165.8Z" fill="#364fd8" stroke="#364fd8" stroke-width="0.6"/>
<path d="M492.3 168.4L495.9 166.2L492.8 163.8L489.2 166Z" fill="#364dd8" stroke="#364dd8" stroke-width="0.6"/>
<path d="M499 168.6L502.5 166.4L499.4 164L495.9 166.2Z" fill="#364bd8" stroke="#364bd8" stroke-width="0.6"/>
<path d="M505.7 168.9L509.2 166.6L506.1 164.2L502.5 166.4Z" fill="#3649d8" stroke="#3649d8" stroke-width="0.6"/>
<path d="M512.4 169.1L515.9 166.8L512.7 164.3L509.2 166.6Z" fill="#3647d8" stroke="#3647d8" stroke-width="0.6"/>
<path d="M519.1 169.2L522.6 167L519.4 164.5L515.9 166.8Z" fill="#3645d8" stroke="#3645d8" stroke-width="0.6"/>
<path d="M525.8 169.4L529.3 167.1L526.1 164.7L522.6 167Z" fill="#3643d8" stroke="#3643d8" stroke-width="0.6"/>
<path d="M532.5 169.6L536 167.3L532.7 164.8L529.3 167.1Z" fill="#3641d8" stroke="#3641d8" stroke-width="0.6"/>
<path d="M539.2 169.8L542.7 167.5L539.4 165L536 167.3Z" fill="#363fd8" stroke="#363fd8" stroke-width="0.6"/>
<path d="M545.9 170L549.4 167.6L546.1 165.2L542.7 167.5Z" fill="#363dd8" stroke="#363dd8" stroke-width="0.6"/>
<path d="M552.6 170.1L556 167.8L552.8 165.3L549.4 167.6Z" fill="#363bd8" stroke="#363bd8" stroke-width="0.6"/>
<path d="M559.3 170.3L562.7 167.9L559.5 165.5L556 167.8Z" fill="#3639d8" stroke="#3639d8" stroke-width="0.6"/>
<path d="M566 170.4L569.4 168.1L566.1 165.6L562.7 167.9Z" fill="#3637d8" stroke="#3637d8" stroke-width="0.6"/>
<path d="M572.7 170.6L576.1 168.3L572.8 165.8L569.4 168.1Z" fill="#3634d8" stroke="#3634d8" stroke-width="0.6"/>
<path d="M579.4 170.8L582.8 168.4L579.5 165.9L576.1 168.3Z" fill="#3633d8" stroke="#3633d8" stroke-width="0.6"/>
<path d="M586.1 170.9L589.5 168.6L586.1 166.1L582.8 168.4Z" fill="#3633d8" stroke="#3633d8" stroke-width="0.6"/>
<path d="M592.8 171.1L596.1 168.7L592.8 166.2L589.5 168.6Z" fill="#3633d8" stroke="#3633d8" stroke-width="0.6"/>
<path d="M599.5 171.3L602.8 168.9L599.4 166.4L596.1 168.7Z" fill="#3633d8" stroke="#3633d8" stroke-width="0.6"/>
<path d="M606.2 171.4L609.5 169.1L606.1 166.6L602.8 168.9Z" fill="#3633d8" stroke="#3633d8" stroke-width="0.6"/>
<path d="M612.9 171.6L616.1 169.3L612.7 166.8L609.5 169.1Z" fill="#3633d8" stroke="#3633d8" stroke-width="0.6"/>
<path d="M619.5 171.8L622.7 169.5L619.3 167L616.1 169.3Z" fill="#3633d8" stroke="#3633d8" stroke-width="0.6"/>
<path d="M626.2 172L629.4 169.7L626 167.2L622.7 169.5Z" fill="#3633d8" stroke="#3633d8" stroke-width="0.6"/>
<path d="M632.8 172.2L636 169.9L632.6 167.4L629.4 169.7Z" fill="#3633d8" stroke="#3633d8" stroke-width="0.6"/>
<path d="M639.4 172.4L642.6 170.1L639.1 167.6L636 169.9Z" fill="#3633d8" stroke="#3633d8" stroke-width="0.6"/>
<path d="M646 172.6L649.1 170.3L645.7 167.8L642.6 170.1Z" fill="#3633d8" stroke="#3633d8" stroke-width="0.6"/>
<path d="M652.6 172.8L655.7 170.6L652.3 168.1L649.1 170.3Z" fill="#3633d8" stroke="#3633d8" stroke-width="0.6"/>
<path d="M659.2 173.1L662.3 170.8L658.8 168.3L655.7 170.6Z" fill="#3633d8" stroke="#3633d8" stroke-width="0.6"/>
<path d="M665.7 173.3L668.8 171.1L665.3 168.6L662.3 170.8Z" fill="#3633d8" stroke="#3633d8" stroke-width="0.6"/>
<path d="M415.9 166.9L419.5 165L416.7 162.8L413 164.6Z" fill="#3674d8" stroke="#3674d8" stroke-width="0.6"/>
<path d="M422.4 167.4L426.1 165.4L423.2 163.1L419.5 165Z" fill="#3672d8" stroke="#3672d8" stroke-width="0.6"/>
<path d="M429 167.8L432.6 165.8L429.7 163.5L426.1 165.4Z" fill="#3671d8" stroke="#3671d8" stroke-width="0.6"/>
<path d="M435.6 168.2L439.2 166.2L436.3 163.8L432.6 165.8Z" fill="#366fd8" stroke="#366fd8" stroke-width="0.6"/>
<path d="M442.2 168.5L445.8 166.5L442.8 164.2L439.2 166.2Z" fill="#366dd8" stroke="#366dd8" stroke-width="0.6"/>
<path d="M448.8 168.9L452.4 166.8L449.4 164.5L445.8 166.5Z" fill="#366cd8" stroke="#366cd8" stroke-width="0.6"/>
<path d="M455.4 169.2L459 167.1L456 164.8L452.4 166.8Z" fill="#366ad8" stroke="#366ad8" stroke-width="0.6"/>
<path d="M462 169.5L465.7 167.4L462.6 165L459 167.1Z" fill="#3668d8" stroke="#3668d8" stroke-width="0.6"/>
<path d="M468.7 169.8L472.3 167.7L469.3 165.3L465.7 167.4Z" fill="#3666d8" stroke="#3666d8" stroke-width="0.6"/>
<path d="M475.4 170.1L479 167.9L475.9 165.5L472.3 167.7Z" fill="#3664d8" stroke="#3664d8" stroke-width="0.6"/>
<path d="M482 170.4L485.6 168.2L482.5 165.8L479 167.9Z" fill="#3662d8" stroke="#3662d8" stroke-width="0.6"/>
<path d="M488.7 170.6L492.3 168.4L489.2 166L485.6 168.2Z" fill="#3660d8" stroke="#3660d8" stroke-width="0.6"/>
<path d="M495.4 170.9L499 168.6L495.9 166.2L492.3 168.4Z" fill="#365ed8" stroke="#365ed8" stroke-width="0.6"/>
<path d="M502.1 171.1L505.7 168.9L502.5 166.4L499 168.6Z" fill="#365cd8" stroke="#365cd8" stroke-width="0.6"/>
<path d="M508.8 171.3L512.4 169.1L509.2 166.6L505.7 168.9Z" fill="#365ad8" stroke="#365ad8" stroke-width="0.6"/>
<path d="M515.5 171.5L519.1 169.2L515.9 166.8L512.4 169.1Z" fill="#3658d8" stroke="#3658d8" stroke-width="0.6"/>
<path d="M522.3 171.7L525.8 169.4L522.6 167L519.1 169.2Z" fill="#3656d8" stroke="#3656d8" stroke-width="0.6"/>
<path d="M529 171.9L532.5 169.6L529.3 167.1L525.8 169.4Z" fill="#3654d8" stroke="#3654d8" stroke-width="0.6"/>
<path d="M535.7 172.1L539.2 169.8L536 167.3L532.5 169.6Z" fill="#3652d8" stroke="#3652d8" stroke-width="0.6"/>
<path d="M542.4 172.3L545.9 170L542.7 167.5L539.2 169.8Z" fill="#3650d8" stroke="#3650d8" stroke-width="0.6"/>
<path d="M549.2 172.5L552.6 170.1L549.4 167.6L545.9 170Z" fill="#364ed8" stroke="#364ed8" stroke-width="0.6"/>
<path d="M555.9 172.6L559.3 170.3L556 167.8L552.6 170.1Z" fill="#364cd8" stroke="#364cd8" stroke-width="0.6"/>
<path d="M562.6 172.8L566 170.4L562.7 167.9L559.3 170.3Z" fill="#3649d8" stroke="#3649d8" stroke-width="0.6"/>
<path d="M569.3 173L572.7 170.6L569.4 168.1L566 170.4Z" fill="#3647d8" stroke="#3647d8" stroke-width="0.6"/>
<path d="M576.1 173.1L579.4 170.8L576.1 168.3L572.7 170.6Z" fill="#3645d8" stroke="#3645d8" stroke-width="0.6"/>
<path d="M582.8 173.3L586.1 170.9L582.8 168.4L579.4 170.8Z" fill="#3642d8" stroke="#3642d8" stroke-width="0.6"/>
<path d="M589.5 173.5L592.8 171.1L589.5 168.6L586.1 170.9Z" fill="#3640d8" stroke="#3640d8" stroke-width="0.6"/>
<path d="M596.2 173.6L599.5 171.3L596.1 168.7L592.8 171.1Z" fill="#363ed8" stroke="#363ed8" stroke-width="0.6"/>
<path d="M602.9 173.8L606.2 171.4L602.8 168.9L599.5 171.3Z" fill="#363bd8" stroke="#363bd8" stroke-width="0.6"/>
<path d="M609.6 174L612.9 171.6L609.5 169.1L606.2 171.4Z" fill="#3639d8" stroke="#3639d8" stroke-width="0.6"/>
<path d="M616.3 174.2L619.5 171.8L616.1 169.3L612.9 171.6Z" fill="#3636d8" stroke="#3636d8" stroke-width="0.6"/>
<path d="M622.9 174.3L626.2 172L622.7 169.5L619.5 171.8Z" fill="#3634d8" stroke="#3634d8" stroke-width="0.6"/>
<path d="M629.6 174.5L632.8 172.2L629.4 169.7L626.2 172Z" fill="#3633d8" stroke="#3633d8" stroke-width="0.6"/>
<path d="M636.2 174.7L639.4 172.4L636 169.9L632.8 172.2Z" fill="#3633d8" stroke="#3633d8" stroke-width="0.6"/>
<path d="M642.9 174.9L646 172.6L642.6 170.1L639.4 172.4Z" fill="#3633d8" stroke="#3633d8" stroke-width="0.6"/>
<path d="M649.5 175.1L652.6 172.8L649.1 170.3L646 172.6Z" fill="#3633d8" stroke="#3633d8" stroke-width="0.6"/>
<path d="M656.1 175.4L659.2 173.1L655.7 170.6L652.6 172.8Z" fill="#3633d8" stroke="#3633d8" stroke-width="0.6"/>
<path d="M662.6 175.6L665.7 173.3L662.3 170.8L659.2 173.1Z" fill="#3633d8" stroke="#3633d8" stroke-width="0.6"/>
<path d="M669.2 175.9L672.3 173.6L668.8 171.1L665.7 173.3Z" fill="#3633d8" stroke="#3633d8" stroke-width="0.6"/>
<path d="M412.2 168.8L415.9 166.9L413 164.6L409.3 166.5Z" fill="#3689d8" stroke="#3689d8" stroke-width="0.6"/>
<path d="M418.7 169.3L422.4 167.4L419.5 165L415.9 166.9Z" fill="#3687d8" stroke="#3687d8" stroke-width="0.6"/>
<path d="M425.3 169.7L429 167.8L426.1 165.4L422.4 167.4Z" fill="#3685d8" stroke="#3685d8" stroke-width="0.6"/>
<path d="M431.9 170.1L435.6 168.2L432.6 165.8L429 167.8Z" fill="#3683d8" stroke="#3683d8" stroke-width="0.6"/>
<path d="M438.5 170.5L442.2 168.5L439.2 166.2L435.6 168.2Z" fill="#3682d8" stroke="#3682d8" stroke-width="0.6"/>
<path d="M445.1 170.9L448.8 168.9L445.8 166.5L442.2 168.5Z" fill="#3680d8" stroke="#3680d8" stroke-width="0.6"/>
<path d="M451.8 171.3L455.4 169.2L452.4 166.8L448.8 168.9Z" fill="#367ed8" stroke="#367ed8" stroke-width="0.6"/>
<path d="M458.4 171.6L462 169.5L459 167.1L455.4 169.2Z" fill="#367cd8" stroke="#367cd8" stroke-width="0.6"/>
<path d="M465.1 172L468.7 169.8L465.7 167.4L462 169.5Z" fill="#367ad8" stroke="#367ad8" stroke-width="0.6"/>
<path d="M471.8 172.3L475.4 170.1L472.3 167.7L468.7 169.8Z" fill="#3678d8" stroke="#3678d8" stroke-width="0.6"/>
<path d="M478.4 172.6L482 170.4L479 167.9L475.4 170.1Z" fill="#3676d8" stroke="#3676d8" stroke-width="0.6"/>
<path d="M485.1 172.9L488.7 170.6L485.6 168.2L482 170.4Z" fill="#3674d8" stroke="#3674d8" stroke-width="0.6"/>
<path d="M491.8 173.1L495.4 170.9L492.3 168.4L488.7 170.6Z" fill="#3672d8" stroke="#3672d8" stroke-width="0.6"/>
<path d="M498.6 173.4L502.1 171.1L499 168.6L495.4 170.9Z" fill="#3670d8" stroke="#3670d8" stroke-width="0.6"/>
<path d="M505.3 173.6L508.8 171.3L505.7 168.9L502.1 171.1Z" fill="#366ed8" stroke="#366ed8" stroke-width="0.6"/>
<path d="M512 173.8L515.5 171.5L512.4 169.1L508.8 171.3Z" fill="#366cd8" stroke="#366cd8" stroke-width="0.6"/>
<path d="M518.7 174.1L522.3 171.7L519.1 169.2L515.5 171.5Z" fill="#366ad8" stroke="#366ad8" stroke-width="0.6"/>
<path d="M525.5 174.3L529 171.9L525.8 169.4L522.3 171.7Z" fill="#3667d8" stroke="#3667d8" stroke-width="0.6"/>
<path d="M532.2 174.5L535.7 172.1L532.5 169.6L529 171.9Z" fill="#3665d8" stroke="#3665d8" stroke-width="0.6"/>
<path d="M539 174.7L542.4 172.3L539.2 169.8L535.7 172.1Z" fill="#3663d8" stroke="#3663d8" stroke-width="0.6"/>
<path d="M545.7 174.8L549.2 172.5L545.9 170L542.4 172.3Z" fill="#3661d8" stroke="#3661d8" stroke-width="0.6"/>
<path d="M552.5 175L555.9 172.6L552.6 170.1L549.2 172.5Z" fill="#365ed8" stroke="#365ed8" stroke-width="0.6"/>
<path d="M559.2 175.2L562.6 172.8L559.3 170.3L555.9 172.6Z" fill="#365cd8" stroke="#365cd8" stroke-width="0.6"/>
<path d="M565.9 175.4L569.3 173L566 170.4L562.6 172.8Z" fill="#365ad8" stroke="#365ad8" stroke-width="0.6"/>
<path d="M572.7 175.5L576.1 173.1L572.7 170.6L569.3 173Z" fill="#3657d8" stroke="#3657d8" stroke-width="0.6"/>
<path d="M579.4 175.7L582.8 173.3L579.4 170.8L576.1 173.1Z" fill="#3655d8" stroke="#3655d8" stroke-width="0.6"/>
<path d="M586.1 175.9L589.5 173.5L586.1 170.9L582.8 173.3Z" fill="#3652d8" stroke="#3652d8" stroke-width="0.6"/>
<path d="M592.9 176L596.2 173.6L592.8 171.1L589.5 173.5Z" fill="#3650d8" stroke="#3650d8" stroke-width="0.6"/>
<path d="M599.6 176.2L602.9 173.8L599.5 171.3L596.2 173.6Z" fill="#364dd8" stroke="#364dd8" stroke-width="0.6"/>
<path d="M606.3 176.4L609.6 174L606.2 171.4L602.9 173.8Z" fill="#364bd8" stroke="#364bd8" stroke-width="0.6"/>
<path d="M613 176.5L616.3 174.2L612.9 171.6L609.6 174Z" fill="#3648d8" stroke="#3648d8" stroke-width="0.6"/>
<path d="M619.7 176.7L622.9 174.3L619.5 171.8L616.3 174.2Z" fill="#3646d8" stroke="#3646d8" stroke-width="0.6"/>
<path d="M626.4 176.9L629.6 174.5L626.2 172L622.9 174.3Z" fill="#3643d8" stroke="#3643d8" stroke-width="0.6"/>
<path d="M633 177.1L636.2 174.7L632.8 172.2L629.6 174.5Z" fill="#3640d8" stroke="#3640d8" stroke-width="0.6"/>
<path d="M639.7 177.3L642.9 174.9L639.4 172.4L636.2 174.7Z" fill="#363ed8" stroke="#363ed8" stroke-width="0.6"/>
<path d="M646.3 177.5L649.5 175.1L646 172.6L642.9 174.9Z" fill="#363bd8" stroke="#363bd8" stroke-width="0.6"/>
<path d="M652.9 177.7L656.1 175.4L652.6 172.8L649.5 175.1Z" fill="#3638d8" stroke="#3638d8" stroke-width="0.6"/>
<path d="M659.5 177.9L662.6 175.6L659.2 173.1L656.1 175.4Z" fill="#3635d8" stroke="#3635d8" stroke-width="0.6"/>
<path d="M666.1 178.2L669.2 175.9L665.7 173.3L662.6 175.6Z" fill="#3633d8" stroke="#3633d8" stroke-width="0.6"/>
<path d="M672.7 178.4L675.8 176.1L672.3 173.6L669.2 175.9Z" fill="#3633d8" stroke="#3633d8" stroke-width="0.6"/>
<path d="M415 171.1L418.7 169.3L415.9 166.9L412.2 168.8Z" fill="#369bd8" stroke="#369bd8" stroke-width="0.6"/>
<path d="M421.6 171.6L425.3 169.7L422.4 167.4L418.7 169.3Z" fill="#369ad8" stroke="#369ad8" stroke-width="0.6"/>
<path d="M428.2 172.1L431.9 170.1L429 167.8L425.3 169.7Z" fill="#3698d8" stroke="#3698d8" stroke-width="0.6"/>
<path d="M434.8 172.5L438.5 170.5L435.6 168.2L431.9 170.1Z" fill="#3696d8" stroke="#3696d8" stroke-width="0.6"/>
<path d="M441.5 173L445.1 170.9L442.2 168.5L438.5 170.5Z" fill="#3694d8" stroke="#3694d8" stroke-width="0.6"/>
<path d="M448.1 173.4L451.8 171.3L448.8 168.9L445.1 170.9Z" fill="#3692d8" stroke="#3692d8" stroke-width="0.6"/>
<path d="M454.8 173.7L458.4 171.6L455.4 169.2L451.8 171.3Z" fill="#3690d8" stroke="#3690d8" stroke-width="0.6"/>
<path d="M461.4 174.1L465.1 172L462 169.5L458.4 171.6Z" fill="#368ed8" stroke="#368ed8" stroke-width="0.6"/>
<path d="M468.1 174.4L471.8 172.3L468.7 169.8L465.1 172Z" fill="#368cd8" stroke="#368cd8" stroke-width="0.6"/>
<path d="M474.8 174.8L478.4 172.6L475.4 170.1L471.8 172.3Z" fill="#368ad8" stroke="#368ad8" stroke-width="0.6"/>
<path d="M481.5 175.1L485.1 172.9L482 170.4L478.4 172.6Z" fill="#3688d8" stroke="#3688d8" stroke-width="0.6"/>
<path d="M488.3 175.3L491.8 173.1L488.7 170.6L485.1 172.9Z" fill="#3686d8" stroke="#3686d8" stroke-width="0.6"/>
<path d="M495 175.6L498.6 173.4L495.4 170.9L491.8 173.1Z" fill="#3684d8" stroke="#3684d8" stroke-width="0.6"/>
<path d="M501.7 175.9L505.3 173.6L502.1 171.1L498.6 173.4Z" fill="#3681d8" stroke="#3681d8" stroke-width="0.6"/>
<path d="M508.5 176.1L512 173.8L508.8 171.3L505.3 173.6Z" fill="#367fd8" stroke="#367fd8" stroke-width="0.6"/>
<path d="M515.2 176.4L518.7 174.1L515.5 171.5L512 173.8Z" fill="#367dd8" stroke="#367dd8" stroke-width="0.6"/>
<path d="M522 176.6L525.5 174.3L522.3 171.7L518.7 174.1Z" fill="#367bd8" stroke="#367bd8" stroke-width="0.6"/>
<path d="M528.7 176.8L532.2 174.5L529 171.9L525.5 174.3Z" fill="#3678d8" stroke="#3678d8" stroke-width="0.6"/>
<path d="M535.5 177L539 174.7L535.7 172.1L532.2 174.5Z" fill="#3676d8" stroke="#3676d8" stroke-width="0.6"/>
<path d="M542.2 177.2L545.7 174.8L542.4 172.3L539 174.7Z" fill="#3674d8" stroke="#3674d8" stroke-width="0.6"/>
<path d="M549 177.4L552.5 175L549.2 172.5L545.7 174.8Z" fill="#3671d8" stroke="#3671d8" stroke-width="0.6"/>
<path d="M555.7 177.6L559.2 175.2L555.9 172.6L552.5 175Z" fill="#366fd8" stroke="#366fd8" stroke-width="0.6"/>
<path d="M562.5 177.8L565.9 175.4L562.6 172.8L559.2 175.2Z" fill="#366dd8" stroke="#366dd8" stroke-width="0.6"/>
<path d="M569.3 177.9L572.7 175.5L569.3 173L565.9 175.4Z" fill="#366ad8" stroke="#366ad8" stroke-width="0.6"/>
<path d="M576 178.1L579.4 175.7L576.1 173.1L572.7 175.5Z" fill="#3668d8" stroke="#3668d8" stroke-width="0.6"/>
<path d="M582.8 178.3L586.1 175.9L582.8 173.3L579.4 175.7Z" fill="#3665d8" stroke="#3665d8" stroke-width="0.6"/>
<path d="M589.5 178.5L592.9 176L589.5 173.5L586.1 175.9Z" fill="#3662d8" stroke="#3662d8" stroke-width="0.6"/>
<path d="M596.2 178.6L599.6 176.2L596.2 173.6L592.9 176Z" fill="#3660d8" stroke="#3660d8" stroke-width="0.6"/>
<path d="M603 178.8L606.3 176.4L602.9 173.8L599.6 176.2Z" fill="#365dd8" stroke="#365dd8" stroke-width="0.6"/>
<path d="M609.7 179L613 176.5L609.6 174L606.3 176.4Z" fill="#365bd8" stroke="#365bd8" stroke-width="0.6"/>
<path d="M616.4 179.1L619.7 176.7L616.3 174.2L613 176.5Z" fill="#3658d8" stroke="#3658d8" stroke-width="0.6"/>
<path d="M623.1 179.3L626.4 176.9L622.9 174.3L619.7 176.7Z" fill="#3655d8" stroke="#3655d8" stroke-width="0.6"/>
<path d="M629.8 179.5L633 177.1L629.6 174.5L626.4 176.9Z" fill="#3652d8" stroke="#3652d8" stroke-width="0.6"/>
<path d="M636.5 179.7L639.7 177.3L636.2 174.7L633 177.1Z" fill="#364fd8" stroke="#364fd8" stroke-width="0.6"/>
<path d="M643.1 179.9L646.3 177.5L642.9 174.9L639.7 177.3Z" fill="#364dd8" stroke="#364dd8" stroke-width="0.6"/>
<path d="M649.8 180.1L652.9 177.7L649.5 175.1L646.3 177.5Z" fill="#364ad8" stroke="#364ad8" stroke-width="0.6"/>
<path d="M656.4 180.3L659.5 177.9L656.1 175.4L652.9 177.7Z" fill="#3647d8" stroke="#3647d8" stroke-width="0.6"/>
<path d="M663 180.5L666.1 178.2L662.6 175.6L659.5 177.9Z" fill="#3644d8" stroke="#3644d8" stroke-width="0.6"/>
<path d="M669.6 180.7L672.7 178.4L669.2 175.9L666.1 178.2Z" fill="#3641d8" stroke="#3641d8" stroke-width="0.6"/>
<path d="M417.9 173.5L421.6 171.6L418.7 169.3L415 171.1Z" fill="#36aed8" stroke="#36aed8" stroke-width="0.6"/>
<path d="M424.5 174L428.2 172.1L425.3 169.7L421.6 171.6Z" fill="#36acd8" stroke="#36acd8" stroke-width="0.6"/>
<path d="M431.1 174.5L434.8 172.5L431.9 170.1L428.2 172.1Z" fill="#36aad8" stroke="#36aad8" stroke-width="0.6"/>
<path d="M437.8 175L441.5 173L438.5 170.5L434.8 172.5Z" fill="#36a8d8" stroke="#36a8d8" stroke-width="0.6"/>
<path d="M444.4 175.4L448.1 173.4L445.1 170.9L441.5 173Z" fill="#36a6d8" stroke="#36a6d8" stroke-width="0.6"/>
<path d="M451.1 175.8L454.8 173.7L451.8 171.3L448.1 173.4Z" fill="#36a4d8" stroke="#36a4d8" stroke-width="0.6"/>
<path d="M457.8 176.2L461.4 174.1L458.4 171.6L454.8 173.7Z" fill="#36a2d8" stroke="#36a2d8" stroke-width="0.6"/>
<path d="M464.5 176.6L468.1 174.4L465.1 172L461.4 174.1Z" fill="#36a0d8" stroke="#36a0d8" stroke-width="0.6"/>
<path d="M471.2 176.9L474.8 174.8L471.8 172.3L468.1 174.4Z" fill="#369ed8" stroke="#369ed8" stroke-width="0.6"/>
<path d="M477.9 177.3L481.5 175.1L478.4 172.6L474.8 174.8Z" fill="#369cd8" stroke="#369cd8" stroke-width="0.6"/>
<path d="M484.6 177.6L488.3 175.3L485.1 172.9L481.5 175.1Z" fill="#369ad8" stroke="#369ad8" stroke-width="0.6"/>
<path d="M491.4 177.9L495 175.6L491.8 173.1L488.3 175.3Z" fill="#3697d8" stroke="#3697d8" stroke-width="0.6"/>
<path d="M498.1 178.2L501.7 175.9L498.6 173.4L495 175.6Z" fill="#3695d8" stroke="#3695d8" stroke-width="0.6"/>
<path d="M504.9 178.4L508.5 176.1L505.3 173.6L501.7 175.9Z" fill="#3693d8" stroke="#3693d8" stroke-width="0.6"/>
<path d="M511.6 178.7L515.2 176.4L512 173.8L508.5 176.1Z" fill="#3690d8" stroke="#3690d8" stroke-width="0.6"/>
<path d="M518.4 178.9L522 176.6L518.7 174.1L515.2 176.4Z" fill="#368ed8" stroke="#368ed8" stroke-width="0.6"/>
<path d="M525.2 179.2L528.7 176.8L525.5 174.3L522 176.6Z" fill="#368cd8" stroke="#368cd8" stroke-width="0.6"/>
<path d="M532 179.4L535.5 177L532.2 174.5L528.7 176.8Z" fill="#3689d8" stroke="#3689d8" stroke-width="0.6"/>
<path d="M538.7 179.6L542.2 177.2L539 174.7L535.5 177Z" fill="#3687d8" stroke="#3687d8" stroke-width="0.6"/>
<path d="M545.5 179.8L549 177.4L545.7 174.8L542.2 177.2Z" fill="#3684d8" stroke="#3684d8" stroke-width="0.6"/>
<path d="M552.3 180L555.7 177.6L552.5 175L549 177.4Z" fill="#3682d8" stroke="#3682d8" stroke-width="0.6"/>
<path d="M559.1 180.2L562.5 177.8L559.2 175.2L555.7 177.6Z" fill="#367fd8" stroke="#367fd8" stroke-width="0.6"/>
<path d="M565.8 180.4L569.3 177.9L565.9 175.4L562.5 177.8Z" fill="#367dd8" stroke="#367dd8" stroke-width="0.6"/>
<path d="M572.6 180.6L576 178.1L572.7 175.5L569.3 177.9Z" fill="#367ad8" stroke="#367ad8" stroke-width="0.6"/>
<path d="M579.4 180.7L582.8 178.3L579.4 175.7L576 178.1Z" fill="#3678d8" stroke="#3678d8" stroke-width="0.6"/>
<path d="M586.1 180.9L589.5 178.5L586.1 175.9L582.8 178.3Z" fill="#3675d8" stroke="#3675d8" stroke-width="0.6"/>
<path d="M592.9 181.1L596.2 178.6L592.9 176L589.5 178.5Z" fill="#3672d8" stroke="#3672d8" stroke-width="0.6"/>
<path d="M599.6 181.2L603 178.8L599.6 176.2L596.2 178.6Z" fill="#3670d8" stroke="#3670d8" stroke-width="0.6"/>
<path d="M606.4 181.4L609.7 179L606.3 176.4L603 178.8Z" fill="#366dd8" stroke="#366dd8" stroke-width="0.6"/>
<path d="M613.1 181.6L616.4 179.1L613 176.5L609.7 179Z" fill="#366ad8" stroke="#366ad8" stroke-width="0.6"/>
<path d="M619.8 181.8L623.1 179.3L619.7 176.7L616.4 179.1Z" fill="#3667d8" stroke="#3667d8" stroke-width="0.6"/>
<path d="M626.6 181.9L629.8 179.5L626.4 176.9L623.1 179.3Z" fill="#3664d8" stroke="#3664d8" stroke-width="0.6"/>
<path d="M633.3 182.1L636.5 179.7L633 177.1L629.8 179.5Z" fill="#3661d8" stroke="#3661d8" stroke-width="0.6"/>
<path d="M640 182.3L643.1 179.9L639.7 177.3L636.5 179.7Z" fill="#365ed8" stroke="#365ed8" stroke-width="0.6"/>
<path d="M646.6 182.5L649.8 180.1L646.3 177.5L643.1 179.9Z" fill="#365bd8" stroke="#365bd8" stroke-width="0.6"/>
<path d="M653.3 182.7L656.4 180.3L652.9 177.7L649.8 180.1Z" fill="#3658d8" stroke="#3658d8" stroke-width="0.6"/>
<path d="M659.9 182.9L663 180.5L659.5 177.9L656.4 180.3Z" fill="#3655d8" stroke="#3655d8" stroke-width="0.6"/>
<path d="M666.6 183.1L669.6 180.7L666.1 178.2L663 180.5Z" fill="#3652d8" stroke="#3652d8" stroke-width="0.6"/>
<path d="M420.8 175.9L424.5 174L421.6 171.6L417.9 173.5Z" fill="#36c1d8" stroke="#36c1d8" stroke-width="0.6"/>
<path d="M427.4 176.5L431.1 174.5L428.2 172.1L424.5 174Z" fill="#36bed8" stroke="#36bed8" stroke-width="0.6"/>
<path d="M434.1 177L437.8 175L434.8 172.5L431.1 174.5Z" fill="#36bcd8" stroke="#36bcd8" stroke-width="0.6"/>
<path d="M440.8 177.4L444.4 175.4L441.5 173L437.8 175Z" fill="#36bad8" stroke="#36bad8" stroke-width="0.6"/>
<path d="M447.4 177.9L451.1 175.8L448.1 173.4L444.4 175.4Z" fill="#36b8d8" stroke="#36b8d8" stroke-width="0.6"/>
<path d="M454.1 178.3L457.8 176.2L454.8 173.7L451.1 175.8Z" fill="#36b6d8" stroke="#36b6d8" stroke-width="0.6"/>
<path d="M460.8 178.7L464.5 176.6L461.4 174.1L457.8 176.2Z" fill="#36b4d8" stroke="#36b4d8" stroke-width="0.6"/>
<path d="M467.5 179.1L471.2 176.9L468.1 174.4L464.5 176.6Z" fill="#36b2d8" stroke="#36b2d8" stroke-width="0.6"/>
<path d="M474.3 179.5L477.9 177.3L474.8 174.8L471.2 176.9Z" fill="#36b0d8" stroke="#36b0d8" stroke-width="0.6"/>
<path d="M481 179.8L484.6 177.6L481.5 175.1L477.9 177.3Z" fill="#36add8" stroke="#36add8" stroke-width="0.6"/>
<path d="M487.8 180.1L491.4 177.9L488.3 175.3L484.6 177.6Z" fill="#36abd8" stroke="#36abd8" stroke-width="0.6"/>
<path d="M494.5 180.4L498.1 178.2L495 175.6L491.4 177.9Z" fill="#36a9d8" stroke="#36a9d8" stroke-width="0.6"/>
<path d="M501.3 180.7L504.9 178.4L501.7 175.9L498.1 178.2Z" fill="#36a6d8" stroke="#36a6d8" stroke-width="0.6"/>
<path d="M508.1 181L511.6 178.7L508.5 176.1L504.9 178.4Z" fill="#36a4d8" stroke="#36a4d8" stroke-width="0.6"/>
<path d="M514.9 181.3L518.4 178.9L515.2 176.4L511.6 178.7Z" fill="#36a2d8" stroke="#36a2d8" stroke-width="0.6"/>
<path d="M521.6 181.5L525.2 179.2L522 176.6L518.4 178.9Z" fill="#369fd8" stroke="#369fd8" stroke-width="0.6"/>
<path d="M528.4 181.8L532 179.4L528.7 176.8L525.2 179.2Z" fill="#369dd8" stroke="#369dd8" stroke-width="0.6"/>
<path d="M535.2 182L538.7 179.6L535.5 177L532 179.4Z" fill="#369ad8" stroke="#369ad8" stroke-width="0.6"/>
<path d="M542 182.2L545.5 179.8L542.2 177.2L538.7 179.6Z" fill="#3698d8" stroke="#3698d8" stroke-width="0.6"/>
<path d="M548.8 182.4L552.3 180L549 177.4L545.5 179.8Z" fill="#3695d8" stroke="#3695d8" stroke-width="0.6"/>
<path d="M555.6 182.6L559.1 180.2L555.7 177.6L552.3 180Z" fill="#3692d8" stroke="#3692d8" stroke-width="0.6"/>
<path d="M562.4 182.8L565.8 180.4L562.5 177.8L559.1 180.2Z" fill="#3690d8" stroke="#3690d8" stroke-width="0.6"/>
<path d="M569.2 183L572.6 180.6L569.3 177.9L565.8 180.4Z" fill="#368dd8" stroke="#368dd8" stroke-width="0.6"/>
<path d="M576 183.2L579.4 180.7L576 178.1L572.6 180.6Z" fill="#368ad8" stroke="#368ad8" stroke-width="0.6"/>
<path d="M582.8 183.4L586.1 180.9L582.8 178.3L579.4 180.7Z" fill="#3688d8" stroke="#3688d8" stroke-width="0.6"/>
<path d="M589.5 183.5L592.9 181.1L589.5 178.5L586.1 180.9Z" fill="#3685d8" stroke="#3685d8" stroke-width="0.6"/>
<path d="M596.3 183.7L599.6 181.2L596.2 178.6L592.9 181.1Z" fill="#3682d8" stroke="#3682d8" stroke-width="0.6"/>
<path d="M603.1 183.9L606.4 181.4L603 178.8L599.6 181.2Z" fill="#367fd8" stroke="#367fd8" stroke-width="0.6"/>
<path d="M609.8 184.1L613.1 181.6L609.7 179L606.4 181.4Z" fill="#367cd8" stroke="#367cd8" stroke-width="0.6"/>
<path d="M616.6 184.2L619.8 181.8L616.4 179.1L613.1 181.6Z" fill="#3679d8" stroke="#3679d8" stroke-width="0.6"/>
<path d="M623.3 184.4L626.6 181.9L623.1 179.3L619.8 181.8Z" fill="#3676d8" stroke="#3676d8" stroke-width="0.6"/>
<path d="M630 184.6L633.3 182.1L629.8 179.5L626.6 181.9Z" fill="#3673d8" stroke="#3673d8" stroke-width="0.6"/>
<path d="M636.7 184.7L640 182.3L636.5 179.7L633.3 182.1Z" fill="#3670d8" stroke="#3670d8" stroke-width="0.6"/>
<path d="M643.4 184.9L646.6 182.5L643.1 179.9L640 182.3Z" fill="#366dd8" stroke="#366dd8" stroke-width="0.6"/>
<path d="M650.1 185.1L653.3 182.7L649.8 180.1L646.6 182.5Z" fill="#366ad8" stroke="#366ad8" stroke-width="0.6"/>
<path d="M656.8 185.3L659.9 182.9L656.4 180.3L653.3 182.7Z" fill="#3667d8" stroke="#3667d8" stroke-width="0.6"/>
<path d="M663.4 185.5L666.6 183.1L663 180.5L659.9 182.9Z" fill="#3664d8" stroke="#3664d8" stroke-width="0.6"/>
<path d="M423.7 178.4L427.4 176.5L424.5 174L420.8 175.9Z" fill="#36ced3" stroke="#36ced3" stroke-width="0.6"/>
<path d="M430.4 178.9L434.1 177L431.1 174.5L427.4 176.5Z" fill="#36ced5" stroke="#36ced5" stroke-width="0.6"/>
<path d="M437.1 179.5L440.8 177.4L437.8 175L434.1 177Z" fill="#36cfd8" stroke="#36cfd8" stroke-width="0.6"/>
<path d="M443.7 179.9L447.4 177.9L444.4 175.4L440.8 177.4Z" fill="#36cdd8" stroke="#36cdd8" stroke-width="0.6"/>
<path d="M450.4 180.4L454.1 178.3L451.1 175.8L447.4 177.9Z" fill="#36cad8" stroke="#36cad8" stroke-width="0.6"/>
<path d="M457.2 180.8L460.8 178.7L457.8 176.2L454.1 178.3Z" fill="#36c8d8" stroke="#36c8d8" stroke-width="0.6"/>
<path d="M463.9 181.2L467.5 179.1L464.5 176.6L460.8 178.7Z" fill="#36c6d8" stroke="#36c6d8" stroke-width="0.6"/>
<path d="M470.6 181.6L474.3 179.5L471.2 176.9L467.5 179.1Z" fill="#36c4d8" stroke="#36c4d8" stroke-width="0.6"/>
<path d="M477.4 182L481 179.8L477.9 177.3L474.3 179.5Z" fill="#36c1d8" stroke="#36c1d8" stroke-width="0.6"/>
<path d="M484.1 182.4L487.8 180.1L484.6 177.6L481 179.8Z" fill="#36bfd8" stroke="#36bfd8" stroke-width="0.6"/>
<path d="M490.9 182.7L494.5 180.4L491.4 177.9L487.8 180.1Z" fill="#36bcd8" stroke="#36bcd8" stroke-width="0.6"/>
<path d="M497.7 183L501.3 180.7L498.1 178.2L494.5 180.4Z" fill="#36bad8" stroke="#36bad8" stroke-width="0.6"/>
<path d="M504.5 183.3L508.1 181L504.9 178.4L501.3 180.7Z" fill="#36b8d8" stroke="#36b8d8" stroke-width="0.6"/>
<path d="M511.3 183.6L514.9 181.3L511.6 178.7L508.1 181Z" fill="#36b5d8" stroke="#36b5d8" stroke-width="0.6"/>
<path d="M518.1 183.9L521.6 181.5L518.4 178.9L514.9 181.3Z" fill="#36b2d8" stroke="#36b2d8" stroke-width="0.6"/>
<path d="M524.9 184.1L528.4 181.8L525.2 179.2L521.6 181.5Z" fill="#36b0d8" stroke="#36b0d8" stroke-width="0.6"/>
<path d="M531.7 184.4L535.2 182L532 179.4L528.4 181.8Z" fill="#36add8" stroke="#36add8" stroke-width="0.6"/>
<path d="M538.5 184.6L542 182.2L538.7 179.6L535.2 182Z" fill="#36abd8" stroke="#36abd8" stroke-width="0.6"/>
<path d="M545.3 184.9L548.8 182.4L545.5 179.8L542 182.2Z" fill="#36a8d8" stroke="#36a8d8" stroke-width="0.6"/>
<path d="M552.1 185.1L555.6 182.6L552.3 180L548.8 182.4Z" fill="#36a5d8" stroke="#36a5d8" stroke-width="0.6"/>
<path d="M558.9 185.3L562.4 182.8L559.1 180.2L555.6 182.6Z" fill="#36a3d8" stroke="#36a3d8" stroke-width="0.6"/>
<path d="M565.7 185.5L569.2 183L565.8 180.4L562.4 182.8Z" fill="#36a0d8" stroke="#36a0d8" stroke-width="0.6"/>
<path d="M572.5 185.7L576 183.2L572.6 180.6L569.2 183Z" fill="#369dd8" stroke="#369dd8" stroke-width="0.6"/>
<path d="M579.4 185.8L582.8 183.4L579.4 180.7L576 183.2Z" fill="#369ad8" stroke="#369ad8" stroke-width="0.6"/>
<path d="M586.1 186L589.5 183.5L586.1 180.9L582.8 183.4Z" fill="#3697d8" stroke="#3697d8" stroke-width="0.6"/>
<path d="M592.9 186.2L596.3 183.7L592.9 181.1L589.5 183.5Z" fill="#3694d8" stroke="#3694d8" stroke-width="0.6"/>
<path d="M599.7 186.4L603.1 183.9L599.6 181.2L596.3 183.7Z" fill="#3691d8" stroke="#3691d8" stroke-width="0.6"/>
<path d="M606.5 186.5L609.8 184.1L606.4 181.4L603.1 183.9Z" fill="#368ed8" stroke="#368ed8" stroke-width="0.6"/>
<path d="M613.3 186.7L616.6 184.2L613.1 181.6L609.8 184.1Z" fill="#368bd8" stroke="#368bd8" stroke-width="0.6"/>
<path d="M620 186.9L623.3 184.4L619.8 181.8L616.6 184.2Z" fill="#3688d8" stroke="#3688d8" stroke-width="0.6"/>
<path d="M626.8 187.1L630 184.6L626.6 181.9L623.3 184.4Z" fill="#3685d8" stroke="#3685d8" stroke-width="0.6"/>
<path d="M633.5 187.2L636.7 184.7L633.3 182.1L630 184.6Z" fill="#3682d8" stroke="#3682d8" stroke-width="0.6"/>
<path d="M640.2 187.4L643.4 184.9L640 182.3L636.7 184.7Z" fill="#367fd8" stroke="#367fd8" stroke-width="0.6"/>
<path d="M646.9 187.6L650.1 185.1L646.6 182.5L643.4 184.9Z" fill="#367cd8" stroke="#367cd8" stroke-width="0.6"/>
<path d="M653.6 187.8L656.8 185.3L653.3 182.7L650.1 185.1Z" fill="#3679d8" stroke="#3679d8" stroke-width="0.6"/>
<path d="M660.3 188L663.4 185.5L659.9 182.9L656.8 185.3Z" fill="#3675d8" stroke="#3675d8" stroke-width="0.6"/>
<path d="M426.7 180.9L430.4 178.9L427.4 176.5L423.7 178.4Z" fill="#36cfc3" stroke="#36cfc3" stroke-width="0.6"/>
<path d="M433.3 181.4L437.1 179.5L434.1 177L430.4 178.9Z" fill="#36cfc5" stroke="#36cfc5" stroke-width="0.6"/>
<path d="M440 182L443.7 179.9L440.8 177.4L437.1 179.5Z" fill="#36d0c8" stroke="#36d0c8" stroke-width="0.6"/>
<path d="M446.7 182.5L450.4 180.4L447.4 177.9L443.7 179.9Z" fill="#36d0ca" stroke="#36d0ca" stroke-width="0.6"/>
<path d="M453.5 182.9L457.2 180.8L454.1 178.3L450.4 180.4Z" fill="#36d1cd" stroke="#36d1cd" stroke-width="0.6"/>
<path d="M460.2 183.4L463.9 181.2L460.8 178.7L457.2 180.8Z" fill="#36d1d0" stroke="#36d1d0" stroke-width="0.6"/>
<path d="M467 183.8L470.6 181.6L467.5 179.1L463.9 181.2Z" fill="#36d2d2" stroke="#36d2d2" stroke-width="0.6"/>
<path d="M473.7 184.2L477.4 182L474.3 179.5L470.6 181.6Z" fill="#36d2d5" stroke="#36d2d5" stroke-width="0.6"/>
<path d="M480.5 184.6L484.1 182.4L481 179.8L477.4 182Z" fill="#36d3d8" stroke="#36d3d8" stroke-width="0.6"/>
<path d="M487.3 185L490.9 182.7L487.8 180.1L484.1 182.4Z" fill="#36d0d8" stroke="#36d0d8" stroke-width="0.6"/>
<path d="M494.1 185.3L497.7 183L494.5 180.4L490.9 182.7Z" fill="#36ced8" stroke="#36ced8" stroke-width="0.6"/>
<path d="M500.9 185.6L504.5 183.3L501.3 180.7L497.7 183Z" fill="#36cbd8" stroke="#36cbd8" stroke-width="0.6"/>
<path d="M507.7 186L511.3 183.6L508.1 181L504.5 183.3Z" fill="#36c9d8" stroke="#36c9d8" stroke-width="0.6"/>
<path d="M514.5 186.3L518.1 183.9L514.9 181.3L511.3 183.6Z" fill="#36c6d8" stroke="#36c6d8" stroke-width="0.6"/>
<path d="M521.3 186.5L524.9 184.1L521.6 181.5L518.1 183.9Z" fill="#36c3d8" stroke="#36c3d8" stroke-width="0.6"/>
<path d="M528.1 186.8L531.7 184.4L528.4 181.8L524.9 184.1Z" fill="#36c1d8" stroke="#36c1d8" stroke-width="0.6"/>
<path d="M535 187.1L538.5 184.6L535.2 182L531.7 184.4Z" fill="#36bed8" stroke="#36bed8" stroke-width="0.6"/>
<path d="M541.8 187.3L545.3 184.9L542 182.2L538.5 184.6Z" fill="#36bbd8" stroke="#36bbd8" stroke-width="0.6"/>
<path d="M548.6 187.5L552.1 185.1L548.8 182.4L545.3 184.9Z" fill="#36b8d8" stroke="#36b8d8" stroke-width="0.6"/>
<path d="M555.5 187.7L558.9 185.3L555.6 182.6L552.1 185.1Z" fill="#36b5d8" stroke="#36b5d8" stroke-width="0.6"/>
<path d="M562.3 187.9L565.7 185.5L562.4 182.8L558.9 185.3Z" fill="#36b3d8" stroke="#36b3d8" stroke-width="0.6"/>
<path d="M569.1 188.1L572.5 185.7L569.2 183L565.7 185.5Z" fill="#36b0d8" stroke="#36b0d8" stroke-width="0.6"/>
<path d="M575.9 188.3L579.4 185.8L576 183.2L572.5 185.7Z" fill="#36add8" stroke="#36add8" stroke-width="0.6"/>
<path d="M582.7 188.5L586.1 186L582.8 183.4L579.4 185.8Z" fill="#36aad8" stroke="#36aad8" stroke-width="0.6"/>
<path d="M589.6 188.7L592.9 186.2L589.5 183.5L586.1 186Z" fill="#36a7d8" stroke="#36a7d8" stroke-width="0.6"/>
<path d="M596.4 188.9L599.7 186.4L596.3 183.7L592.9 186.2Z" fill="#36a4d8" stroke="#36a4d8" stroke-width="0.6"/>
<path d="M603.2 189.1L606.5 186.5L603.1 183.9L599.7 186.4Z" fill="#36a1d8" stroke="#36a1d8" stroke-width="0.6"/>
<path d="M610 189.2L613.3 186.7L609.8 184.1L606.5 186.5Z" fill="#369ed8" stroke="#369ed8" stroke-width="0.6"/>
<path d="M616.7 189.4L620 186.9L616.6 184.2L613.3 186.7Z" fill="#369ad8" stroke="#369ad8" stroke-width="0.6"/>
<path d="M623.5 189.6L626.8 187.1L623.3 184.4L620 186.9Z" fill="#3697d8" stroke="#3697d8" stroke-width="0.6"/>
<path d="M630.3 189.7L633.5 187.2L630 184.6L626.8 187.1Z" fill="#3694d8" stroke="#3694d8" stroke-width="0.6"/>
<path d="M637 189.9L640.2 187.4L636.7 184.7L633.5 187.2Z" fill="#3691d8" stroke="#3691d8" stroke-width="0.6"/>
<path d="M643.8 190.1L646.9 187.6L643.4 184.9L640.2 187.4Z" fill="#368dd8" stroke="#368dd8" stroke-width="0.6"/>
<path d="M650.5 190.3L653.6 187.8L650.1 185.1L646.9 187.6Z" fill="#368ad8" stroke="#368ad8" stroke-width="0.6"/>
<path d="M657.2 190.4L660.3 188L656.8 185.3L653.6 187.8Z" fill="#3687d8" stroke="#3687d8" stroke-width="0.6"/>
<path d="M429.6 183.4L433.3 181.4L430.4 178.9L426.7 180.9Z" fill="#36cfb2" stroke="#36cfb2" stroke-width="0.6"/>
<path d="M436.3 184L440 182L437.1 179.5L433.3 181.4Z" fill="#36d0b5" stroke="#36d0b5" stroke-width="0.6"/>
<path d="M443 184.5L446.7 182.5L443.7 179.9L440 182Z" fill="#36d0b8" stroke="#36d0b8" stroke-width="0.6"/>
<path d="M449.8 185L453.5 182.9L450.4 180.4L446.7 182.5Z" fill="#36d1bb" stroke="#36d1bb" stroke-width="0.6"/>
<path d="M456.5 185.5L460.2 183.4L457.2 180.8L453.5 182.9Z" fill="#36d1bd" stroke="#36d1bd" stroke-width="0.6"/>
<path d="M463.3 186L467 183.8L463.9 181.2L460.2 183.4Z" fill="#36d2c0" stroke="#36d2c0" stroke-width="0.6"/>
<path d="M470.1 186.4L473.7 184.2L470.6 181.6L467 183.8Z" fill="#36d2c3" stroke="#36d2c3" stroke-width="0.6"/>
<path d="M476.8 186.8L480.5 184.6L477.4 182L473.7 184.2Z" fill="#36d3c6" stroke="#36d3c6" stroke-width="0.6"/>
<path d="M483.6 187.2L487.3 185L484.1 182.4L480.5 184.6Z" fill="#36d3c9" stroke="#36d3c9" stroke-width="0.6"/>
<path d="M490.4 187.6L494.1 185.3L490.9 182.7L487.3 185Z" fill="#36d4cc" stroke="#36d4cc" stroke-width="0.6"/>
<path d="M497.3 188L500.9 185.6L497.7 183L494.1 185.3Z" fill="#36d4ce" stroke="#36d4ce" stroke-width="0.6"/>
<path d="M504.1 188.3L507.7 186L504.5 183.3L500.9 185.6Z" fill="#36d5d1" stroke="#36d5d1" stroke-width="0.6"/>
<path d="M510.9 188.6L514.5 186.3L511.3 183.6L507.7 186Z" fill="#36d5d4" stroke="#36d5d4" stroke-width="0.6"/>
<path d="M517.7 188.9L521.3 186.5L518.1 183.9L514.5 186.3Z" fill="#36d6d7" stroke="#36d6d7" stroke-width="0.6"/>
<path d="M524.6 189.2L528.1 186.8L524.9 184.1L521.3 186.5Z" fill="#36d4d8" stroke="#36d4d8" stroke-width="0.6"/>
<path d="M531.4 189.5L535 187.1L531.7 184.4L528.1 186.8Z" fill="#36d1d8" stroke="#36d1d8" stroke-width="0.6"/>
<path d="M538.3 189.7L541.8 187.3L538.5 184.6L535 187.1Z" fill="#36ced8" stroke="#36ced8" stroke-width="0.6"/>
<path d="M545.1 190L548.6 187.5L545.3 184.9L541.8 187.3Z" fill="#36cbd8" stroke="#36cbd8" stroke-width="0.6"/>
<path d="M552 190.2L555.5 187.7L552.1 185.1L548.6 187.5Z" fill="#36c8d8" stroke="#36c8d8" stroke-width="0.6"/>
<path d="M558.8 190.4L562.3 187.9L558.9 185.3L555.5 187.7Z" fill="#36c5d8" stroke="#36c5d8" stroke-width="0.6"/>
<path d="M565.7 190.7L569.1 188.1L565.7 185.5L562.3 187.9Z" fill="#36c3d8" stroke="#36c3d8" stroke-width="0.6"/>
<path d="M572.5 190.9L575.9 188.3L572.5 185.7L569.1 188.1Z" fill="#36bfd8" stroke="#36bfd8" stroke-width="0.6"/>
<path d="M579.3 191.1L582.7 188.5L579.4 185.8L575.9 188.3Z" fill="#36bcd8" stroke="#36bcd8" stroke-width="0.6"/>
<path d="M586.2 191.2L589.6 188.7L586.1 186L582.7 188.5Z" fill="#36b9d8" stroke="#36b9d8" stroke-width="0.6"/>
<path d="M593 191.4L596.4 188.9L592.9 186.2L589.6 188.7Z" fill="#36b6d8" stroke="#36b6d8" stroke-width="0.6"/>
<path d="M599.8 191.6L603.2 189.1L599.7 186.4L596.4 188.9Z" fill="#36b3d8" stroke="#36b3d8" stroke-width="0.6"/>
<path d="M606.6 191.8L610 189.2L606.5 186.5L603.2 189.1Z" fill="#36b0d8" stroke="#36b0d8" stroke-width="0.6"/>
<path d="M613.4 191.9L616.7 189.4L613.3 186.7L610 189.2Z" fill="#36add8" stroke="#36add8" stroke-width="0.6"/>
<path d="M620.2 192.1L623.5 189.6L620 186.9L616.7 189.4Z" fill="#36a9d8" stroke="#36a9d8" stroke-width="0.6"/>
<path d="M627 192.3L630.3 189.7L626.8 187.1L623.5 189.6Z" fill="#36a6d8" stroke="#36a6d8" stroke-width="0.6"/>
<path d="M633.8 192.5L637 189.9L633.5 187.2L630.3 189.7Z" fill="#36a3d8" stroke="#36a3d8" stroke-width="0.6"/>
<path d="M640.5 192.6L643.8 190.1L640.2 187.4L637 189.9Z" fill="#369fd8" stroke="#369fd8" stroke-width="0.6"/>
<path d="M647.3 192.8L650.5 190.3L646.9 187.6L643.8 190.1Z" fill="#369cd8" stroke="#369cd8" stroke-width="0.6"/>
<path d="M654 193L657.2 190.4L653.6 187.8L650.5 190.3Z" fill="#3698d8" stroke="#3698d8" stroke-width="0.6"/>
<path d="M432.6 186L436.3 184L433.3 181.4L429.6 183.4Z" fill="#36d0a2" stroke="#36d0a2" stroke-width="0.6"/>
<path d="M439.3 186.6L443 184.5L440 182L436.3 184Z" fill="#36d1a5" stroke="#36d1a5" stroke-width="0.6"/>
<path d="M446.1 187.1L449.8 185L446.7 182.5L443 184.5Z" fill="#36d1a8" stroke="#36d1a8" stroke-width="0.6"/>
<path d="M452.8 187.6L456.5 185.5L453.5 182.9L449.8 185Z" fill="#36d2ab" stroke="#36d2ab" stroke-width="0.6"/>
<path d="M459.6 188.1L463.3 186L460.2 183.4L456.5 185.5Z" fill="#36d2ae" stroke="#36d2ae" stroke-width="0.6"/>
<path d="M466.4 188.6L470.1 186.4L467 183.8L463.3 186Z" fill="#36d3b1" stroke="#36d3b1" stroke-width="0.6"/>
<path d="M473.2 189.1L476.8 186.8L473.7 184.2L470.1 186.4Z" fill="#36d3b4" stroke="#36d3b4" stroke-width="0.6"/>
<path d="M480 189.5L483.6 187.2L480.5 184.6L476.8 186.8Z" fill="#36d4b7" stroke="#36d4b7" stroke-width="0.6"/>
<path d="M486.8 189.9L490.4 187.6L487.3 185L483.6 187.2Z" fill="#36d4ba" stroke="#36d4ba" stroke-width="0.6"/>
<path d="M493.6 190.3L497.3 188L494.1 185.3L490.4 187.6Z" fill="#36d5bd" stroke="#36d5bd" stroke-width="0.6"/>
<path d="M500.5 190.6L504.1 188.3L500.9 185.6L497.3 188Z" fill="#36d5c0" stroke="#36d5c0" stroke-width="0.6"/>
<path d="M507.3 191L510.9 188.6L507.7 186L504.1 188.3Z" fill="#36d6c3" stroke="#36d6c3" stroke-width="0.6"/>
<path d="M514.2 191.3L517.7 188.9L514.5 186.3L510.9 188.6Z" fill="#36d6c6" stroke="#36d6c6" stroke-width="0.6"/>
<path d="M521 191.6L524.6 189.2L521.3 186.5L517.7 188.9Z" fill="#36d7c9" stroke="#36d7c9" stroke-width="0.6"/>
<path d="M527.9 191.9L531.4 189.5L528.1 186.8L524.6 189.2Z" fill="#36d7cc" stroke="#36d7cc" stroke-width="0.6"/>
<path d="M534.7 192.2L538.3 189.7L535 187.1L531.4 189.5Z" fill="#36d8cf" stroke="#36d8cf" stroke-width="0.6"/>
<path d="M541.6 192.4L545.1 190L541.8 187.3L538.3 189.7Z" fill="#36d8d2" stroke="#36d8d2" stroke-width="0.6"/>
<path d="M548.5 192.7L552 190.2L548.6 187.5L545.1 190Z" fill="#36d9d5" stroke="#36d9d5" stroke-width="0.6"/>
<path d="M555.3 192.9L558.8 190.4L555.5 187.7L552 190.2Z" fill="#36d8d8" stroke="#36d8d8" stroke-width="0.6"/>
<path d="M562.2 193.2L565.7 190.7L562.3 187.9L558.8 190.4Z" fill="#36d5d8" stroke="#36d5d8" stroke-width="0.6"/>
<path d="M569 193.4L572.5 190.9L569.1 188.1L565.7 190.7Z" fill="#36d2d8" stroke="#36d2d8" stroke-width="0.6"/>
<path d="M575.9 193.6L579.3 191.1L575.9 188.3L572.5 190.9Z" fill="#36cfd8" stroke="#36cfd8" stroke-width="0.6"/>
<path d="M582.7 193.8L586.2 191.2L582.7 188.5L579.3 191.1Z" fill="#36ccd8" stroke="#36ccd8" stroke-width="0.6"/>
<path d="M589.6 194L593 191.4L589.6 188.7L586.2 191.2Z" fill="#36c9d8" stroke="#36c9d8" stroke-width="0.6"/>
<path d="M596.4 194.2L599.8 191.6L596.4 188.9L593 191.4Z" fill="#36c5d8" stroke="#36c5d8" stroke-width="0.6"/>
<path d="M603.3 194.3L606.6 191.8L603.2 189.1L599.8 191.6Z" fill="#36c2d8" stroke="#36c2d8" stroke-width="0.6"/>
<path d="M610.1 194.5L613.4 191.9L610 189.2L606.6 191.8Z" fill="#36bfd8" stroke="#36bfd8" stroke-width="0.6"/>
<path d="M616.9 194.7L620.2 192.1L616.7 189.4L613.4 191.9Z" fill="#36bbd8" stroke="#36bbd8" stroke-width="0.6"/>
<path d="M623.7 194.9L627 192.3L623.5 189.6L620.2 192.1Z" fill="#36b8d8" stroke="#36b8d8" stroke-width="0.6"/>
<path d="M630.5 195L633.8 192.5L630.3 189.7L627 192.3Z" fill="#36b5d8" stroke="#36b5d8" stroke-width="0.6"/>
<path d="M637.3 195.2L640.5 192.6L637 189.9L633.8 192.5Z" fill="#36b1d8" stroke="#36b1d8" stroke-width="0.6"/>
<path d="M644.1 195.4L647.3 192.8L643.8 190.1L640.5 192.6Z" fill="#36add8" stroke="#36add8" stroke-width="0.6"/>
<path d="M650.8 195.5L654 193L650.5 190.3L647.3 192.8Z" fill="#36aad8" stroke="#36aad8" stroke-width="0.6"/>
<path d="M435.6 188.6L439.3 186.6L436.3 184L432.6 186Z" fill="#36d193" stroke="#36d193" stroke-width="0.6"/>
<path d="M442.3 189.2L446.1 187.1L443 184.5L439.3 186.6Z" fill="#36d196" stroke="#36d196" stroke-width="0.6"/>
<path d="M449.1 189.7L452.8 187.6L449.8 185L446.1 187.1Z" fill="#36d299" stroke="#36d299" stroke-width="0.6"/>
<path d="M455.9 190.3L459.6 188.1L456.5 185.5L452.8 187.6Z" fill="#36d29c" stroke="#36d29c" stroke-width="0.6"/>
<path d="M462.7 190.8L466.4 188.6L463.3 186L459.6 188.1Z" fill="#36d39f" stroke="#36d39f" stroke-width="0.6"/>
<path d="M469.5 191.3L473.2 189.1L470.1 186.4L466.4 188.6Z" fill="#36d3a2" stroke="#36d3a2" stroke-width="0.6"/>
<path d="M476.3 191.7L480 189.5L476.8 186.8L473.2 189.1Z" fill="#36d4a5" stroke="#36d4a5" stroke-width="0.6"/>
<path d="M483.1 192.2L486.8 189.9L483.6 187.2L480 189.5Z" fill="#36d4a8" stroke="#36d4a8" stroke-width="0.6"/>
<path d="M490 192.6L493.6 190.3L490.4 187.6L486.8 189.9Z" fill="#36d5ab" stroke="#36d5ab" stroke-width="0.6"/>
<path d="M496.8 193L500.5 190.6L497.3 188L493.6 190.3Z" fill="#36d5ae" stroke="#36d5ae" stroke-width="0.6"/>
<path d="M503.7 193.3L507.3 191L504.1 188.3L500.5 190.6Z" fill="#36d6b2" stroke="#36d6b2" stroke-width="0.6"/>
<path d="M510.5 193.7L514.2 191.3L510.9 188.6L507.3 191Z" fill="#36d6b5" stroke="#36d6b5" stroke-width="0.6"/>
<path d="M517.4 194L521 191.6L517.7 188.9L514.2 191.3Z" fill="#36d7b8" stroke="#36d7b8" stroke-width="0.6"/>
<path d="M524.3 194.3L527.9 191.9L524.6 189.2L521 191.6Z" fill="#36d7bb" stroke="#36d7bb" stroke-width="0.6"/>
<path d="M531.2 194.6L534.7 192.2L531.4 189.5L527.9 191.9Z" fill="#36d8be" stroke="#36d8be" stroke-width="0.6"/>
<path d="M538 194.9L541.6 192.4L538.3 189.7L534.7 192.2Z" fill="#36d8c2" stroke="#36d8c2" stroke-width="0.6"/>
<path d="M544.9 195.2L548.5 192.7L545.1 190L541.6 192.4Z" fill="#36d9c5" stroke="#36d9c5" stroke-width="0.6"/>
<path d="M551.8 195.4L555.3 192.9L552 190.2L548.5 192.7Z" fill="#36d9c8" stroke="#36d9c8" stroke-width="0.6"/>
<path d="M558.7 195.7L562.2 193.2L558.8 190.4L555.3 192.9Z" fill="#36dacb" stroke="#36dacb" stroke-width="0.6"/>
<path d="M565.6 195.9L569 193.4L565.7 190.7L562.2 193.2Z" fill="#36dacf" stroke="#36dacf" stroke-width="0.6"/>
<path d="M572.4 196.1L575.9 193.6L572.5 190.9L569 193.4Z" fill="#36dbd2" stroke="#36dbd2" stroke-width="0.6"/>
<path d="M579.3 196.3L582.7 193.8L579.3 191.1L575.9 193.6Z" fill="#36dbd5" stroke="#36dbd5" stroke-width="0.6"/>
<path d="M586.2 196.5L589.6 194L586.2 191.2L582.7 193.8Z" fill="#36dbd8" stroke="#36dbd8" stroke-width="0.6"/>
<path d="M593 196.7L596.4 194.2L593 191.4L589.6 194Z" fill="#36d8d8" stroke="#36d8d8" stroke-width="0.6"/>
<path d="M599.9 196.9L603.3 194.3L599.8 191.6L596.4 194.2Z" fill="#36d4d8" stroke="#36d4d8" stroke-width="0.6"/>
<path d="M606.7 197.1L610.1 194.5L606.6 191.8L603.3 194.3Z" fill="#36d1d8" stroke="#36d1d8" stroke-width="0.6"/>
<path d="M613.6 197.3L616.9 194.7L613.4 191.9L610.1 194.5Z" fill="#36ced8" stroke="#36ced8" stroke-width="0.6"/>
<path d="M620.4 197.4L623.7 194.9L620.2 192.1L616.9 194.7Z" fill="#36cad8" stroke="#36cad8" stroke-width="0.6"/>
<path d="M627.2 197.6L630.5 195L627 192.3L623.7 194.9Z" fill="#36c6d8" stroke="#36c6d8" stroke-width="0.6"/>
<path d="M634 197.8L637.3 195.2L633.8 192.5L630.5 195Z" fill="#36c3d8" stroke="#36c3d8" stroke-width="0.6"/>
<path d="M640.8 197.9L644.1 195.4L640.5 192.6L637.3 195.2Z" fill="#36bfd8" stroke="#36bfd8" stroke-width="0.6"/>
<path d="M647.6 198.1L650.8 195.5L647.3 192.8L644.1 195.4Z" fill="#36bcd8" stroke="#36bcd8" stroke-width="0.6"/>
<path d="M438.6 191.2L442.3 189.2L439.3 186.6L435.6 188.6Z" fill="#36d283" stroke="#36d283" stroke-width="0.6"/>
<path d="M445.4 191.8L449.1 189.7L446.1 187.1L442.3 189.2Z" fill="#36d287" stroke="#36d287" stroke-width="0.6"/>
<path d="M452.2 192.4L455.9 190.3L452.8 187.6L449.1 189.7Z" fill="#36d38a" stroke="#36d38a" stroke-width="0.6"/>
<path d="M459 192.9L462.7 190.8L459.6 188.1L455.9 190.3Z" fill="#36d38d" stroke="#36d38d" stroke-width="0.6"/>
<path d="M465.8 193.4L469.5 191.3L466.4 188.6L462.7 190.8Z" fill="#36d490" stroke="#36d490" stroke-width="0.6"/>
<path d="M472.6 193.9L476.3 191.7L473.2 189.1L469.5 191.3Z" fill="#36d493" stroke="#36d493" stroke-width="0.6"/>
<path d="M479.5 194.4L483.1 192.2L480 189.5L476.3 191.7Z" fill="#36d597" stroke="#36d597" stroke-width="0.6"/>
<path d="M486.3 194.9L490 192.6L486.8 189.9L483.1 192.2Z" fill="#36d59a" stroke="#36d59a" stroke-width="0.6"/>
<path d="M493.2 195.3L496.8 193L493.6 190.3L490 192.6Z" fill="#36d69d" stroke="#36d69d" stroke-width="0.6"/>
<path d="M500 195.7L503.7 193.3L500.5 190.6L496.8 193Z" fill="#36d6a0" stroke="#36d6a0" stroke-width="0.6"/>
<path d="M506.9 196.1L510.5 193.7L507.3 191L503.7 193.3Z" fill="#36d7a4" stroke="#36d7a4" stroke-width="0.6"/>
<path d="M513.8 196.4L517.4 194L514.2 191.3L510.5 193.7Z" fill="#36d7a7" stroke="#36d7a7" stroke-width="0.6"/>
<path d="M520.7 196.8L524.3 194.3L521 191.6L517.4 194Z" fill="#36d8aa" stroke="#36d8aa" stroke-width="0.6"/>
<path d="M527.6 197.1L531.2 194.6L527.9 191.9L524.3 194.3Z" fill="#36d8ae" stroke="#36d8ae" stroke-width="0.6"/>
<path d="M534.5 197.4L538 194.9L534.7 192.2L531.2 194.6Z" fill="#36d9b1" stroke="#36d9b1" stroke-width="0.6"/>
<path d="M541.4 197.7L544.9 195.2L541.6 192.4L538 194.9Z" fill="#36d9b4" stroke="#36d9b4" stroke-width="0.6"/>
<path d="M548.3 198L551.8 195.4L548.5 192.7L544.9 195.2Z" fill="#36dab8" stroke="#36dab8" stroke-width="0.6"/>
<path d="M555.2 198.2L558.7 195.7L555.3 192.9L551.8 195.4Z" fill="#36dabb" stroke="#36dabb" stroke-width="0.6"/>
<path d="M562.1 198.5L565.6 195.9L562.2 193.2L558.7 195.7Z" fill="#36dbbe" stroke="#36dbbe" stroke-width="0.6"/>
<path d="M569 198.7L572.4 196.1L569 193.4L565.6 195.9Z" fill="#36dbc2" stroke="#36dbc2" stroke-width="0.6"/>
<path d="M575.9 198.9L579.3 196.3L575.9 193.6L572.4 196.1Z" fill="#36dcc5" stroke="#36dcc5" stroke-width="0.6"/>
<path d="M582.8 199.1L586.2 196.5L582.7 193.8L579.3 196.3Z" fill="#36dcc9" stroke="#36dcc9" stroke-width="0.6"/>
<path d="M589.6 199.3L593 196.7L589.6 194L586.2 196.5Z" fill="#36ddcc" stroke="#36ddcc" stroke-width="0.6"/>
<path d="M596.5 199.5L599.9 196.9L596.4 194.2L593 196.7Z" fill="#36ddd0" stroke="#36ddd0" stroke-width="0.6"/>
<path d="M603.4 199.7L606.7 197.1L603.3 194.3L599.9 196.9Z" fill="#36ded3" stroke="#36ded3" stroke-width="0.6"/>
<path d="M610.2 199.9L613.6 197.3L610.1 194.5L606.7 197.1Z" fill="#36ded6" stroke="#36ded6" stroke-width="0.6"/>
<path d="M617.1 200.1L620.4 197.4L616.9 194.7L613.6 197.3Z" fill="#36dcd8" stroke="#36dcd8" stroke-width="0.6"/>
<path d="M623.9 200.2L627.2 197.6L623.7 194.9L620.4 197.4Z" fill="#36d8d8" stroke="#36d8d8" stroke-width="0.6"/>
<path d="M630.8 200.4L634 197.8L630.5 195L627.2 197.6Z" fill="#36d5d8" stroke="#36d5d8" stroke-width="0.6"/>
<path d="M637.6 200.6L640.8 197.9L637.3 195.2L634 197.8Z" fill="#36d1d8" stroke="#36d1d8" stroke-width="0.6"/>
<path d="M644.4 200.7L647.6 198.1L644.1 195.4L640.8 197.9Z" fill="#36cdd8" stroke="#36cdd8" stroke-width="0.6"/>
<path d="M441.6 193.9L445.4 191.8L442.3 189.2L438.6 191.2Z" fill="#36d274" stroke="#36d274" stroke-width="0.6"/>
<path d="M448.4 194.5L452.2 192.4L449.1 189.7L445.4 191.8Z" fill="#36d378" stroke="#36d378" stroke-width="0.6"/>
<path d="M455.2 195.1L459 192.9L455.9 190.3L452.2 192.4Z" fill="#36d37b" stroke="#36d37b" stroke-width="0.6"/>
<path d="M462.1 195.6L465.8 193.4L462.7 190.8L459 192.9Z" fill="#36d47e" stroke="#36d47e" stroke-width="0.6"/>
<path d="M468.9 196.2L472.6 193.9L469.5 191.3L465.8 193.4Z" fill="#36d482" stroke="#36d482" stroke-width="0.6"/>
<path d="M475.8 196.7L479.5 194.4L476.3 191.7L472.6 193.9Z" fill="#36d585" stroke="#36d585" stroke-width="0.6"/>
<path d="M482.6 197.1L486.3 194.9L483.1 192.2L479.5 194.4Z" fill="#36d588" stroke="#36d588" stroke-width="0.6"/>
<path d="M489.5 197.6L493.2 195.3L490 192.6L486.3 194.9Z" fill="#36d68c" stroke="#36d68c" stroke-width="0.6"/>
<path d="M496.4 198L500 195.7L496.8 193L493.2 195.3Z" fill="#36d68f" stroke="#36d68f" stroke-width="0.6"/>
<path d="M503.3 198.4L506.9 196.1L503.7 193.3L500 195.7Z" fill="#36d792" stroke="#36d792" stroke-width="0.6"/>
<path d="M510.2 198.8L513.8 196.4L510.5 193.7L506.9 196.1Z" fill="#36d796" stroke="#36d796" stroke-width="0.6"/>
<path d="M517.1 199.2L520.7 196.8L517.4 194L513.8 196.4Z" fill="#36d899" stroke="#36d899" stroke-width="0.6"/>
<path d="M524 199.5L527.6 197.1L524.3 194.3L520.7 196.8Z" fill="#36d89d" stroke="#36d89d" stroke-width="0.6"/>
<path d="M530.9 199.9L534.5 197.4L531.2 194.6L527.6 197.1Z" fill="#36d9a0" stroke="#36d9a0" stroke-width="0.6"/>
<path d="M537.8 200.2L541.4 197.7L538 194.9L534.5 197.4Z" fill="#36d9a4" stroke="#36d9a4" stroke-width="0.6"/>
<path d="M544.7 200.5L548.3 198L544.9 195.2L541.4 197.7Z" fill="#36daa7" stroke="#36daa7" stroke-width="0.6"/>
<path d="M551.6 200.8L555.2 198.2L551.8 195.4L548.3 198Z" fill="#36daab" stroke="#36daab" stroke-width="0.6"/>
<path d="M558.6 201L562.1 198.5L558.7 195.7L555.2 198.2Z" fill="#36dbae" stroke="#36dbae" stroke-width="0.6"/>
<path d="M565.5 201.3L569 198.7L565.6 195.9L562.1 198.5Z" fill="#36dbb2" stroke="#36dbb2" stroke-width="0.6"/>
<path d="M572.4 201.5L575.9 198.9L572.4 196.1L569 198.7Z" fill="#36dcb5" stroke="#36dcb5" stroke-width="0.6"/>
<path d="M579.3 201.7L582.8 199.1L579.3 196.3L575.9 198.9Z" fill="#36dcb9" stroke="#36dcb9" stroke-width="0.6"/>
<path d="M586.2 201.9L589.6 199.3L586.2 196.5L582.8 199.1Z" fill="#36ddbc" stroke="#36ddbc" stroke-width="0.6"/>
<path d="M593.1 202.1L596.5 199.5L593 196.7L589.6 199.3Z" fill="#36ddc0" stroke="#36ddc0" stroke-width="0.6"/>
<path d="M600 202.3L603.4 199.7L599.9 196.9L596.5 199.5Z" fill="#36dec4" stroke="#36dec4" stroke-width="0.6"/>
<path d="M606.9 202.5L610.2 199.9L606.7 197.1L603.4 199.7Z" fill="#36dec7" stroke="#36dec7" stroke-width="0.6"/>
<path d="M613.8 202.7L617.1 200.1L613.6 197.3L610.2 199.9Z" fill="#36dfcb" stroke="#36dfcb" stroke-width="0.6"/>
<path d="M620.6 202.9L623.9 200.2L620.4 197.4L617.1 200.1Z" fill="#36dfce" stroke="#36dfce" stroke-width="0.6"/>
<path d="M627.5 203L630.8 200.4L627.2 197.6L623.9 200.2Z" fill="#36e0d2" stroke="#36e0d2" stroke-width="0.6"/>
<path d="M634.3 203.2L637.6 200.6L634 197.8L630.8 200.4Z" fill="#36e0d6" stroke="#36e0d6" stroke-width="0.6"/>
<path d="M641.2 203.4L644.4 200.7L640.8 197.9L637.6 200.6Z" fill="#36dfd8" stroke="#36dfd8" stroke-width="0.6"/>
<path d="M444.7 196.6L448.4 194.5L445.4 191.8L441.6 193.9Z" fill="#36d365" stroke="#36d365" stroke-width="0.6"/>
<path d="M451.5 197.2L455.2 195.1L452.2 192.4L448.4 194.5Z" fill="#36d469" stroke="#36d469" stroke-width="0.6"/>
<path d="M458.3 197.8L462.1 195.6L459 192.9L455.2 195.1Z" fill="#36d46c" stroke="#36d46c" stroke-width="0.6"/>
<path d="M465.2 198.4L468.9 196.2L465.8 193.4L462.1 195.6Z" fill="#36d570" stroke="#36d570" stroke-width="0.6"/>
<path d="M472 198.9L475.8 196.7L472.6 193.9L468.9 196.2Z" fill="#36d573" stroke="#36d573" stroke-width="0.6"/>
<path d="M478.9 199.4L482.6 197.1L479.5 194.4L475.8 196.7Z" fill="#36d677" stroke="#36d677" stroke-width="0.6"/>
<path d="M485.8 199.9L489.5 197.6L486.3 194.9L482.6 197.1Z" fill="#36d67a" stroke="#36d67a" stroke-width="0.6"/>
<path d="M492.7 200.4L496.4 198L493.2 195.3L489.5 197.6Z" fill="#36d77e" stroke="#36d77e" stroke-width="0.6"/>
<path d="M499.6 200.8L503.3 198.4L500 195.7L496.4 198Z" fill="#36d781" stroke="#36d781" stroke-width="0.6"/>
<path d="M506.5 201.2L510.2 198.8L506.9 196.1L503.3 198.4Z" fill="#36d885" stroke="#36d885" stroke-width="0.6"/>
<path d="M513.5 201.6L517.1 199.2L513.8 196.4L510.2 198.8Z" fill="#36d888" stroke="#36d888" stroke-width="0.6"/>
<path d="M520.4 202L524 199.5L520.7 196.8L517.1 199.2Z" fill="#36d98c" stroke="#36d98c" stroke-width="0.6"/>
<path d="M527.3 202.3L530.9 199.9L527.6 197.1L524 199.5Z" fill="#36d98f" stroke="#36d98f" stroke-width="0.6"/>
<path d="M534.2 202.7L537.8 200.2L534.5 197.4L530.9 199.9Z" fill="#36da93" stroke="#36da93" stroke-width="0.6"/>
<path d="M541.2 203L544.7 200.5L541.4 197.7L537.8 200.2Z" fill="#36da97" stroke="#36da97" stroke-width="0.6"/>
<path d="M548.1 203.3L551.6 200.8L548.3 198L544.7 200.5Z" fill="#36db9a" stroke="#36db9a" stroke-width="0.6"/>
<path d="M555 203.6L558.6 201L555.2 198.2L551.6 200.8Z" fill="#36db9e" stroke="#36db9e" stroke-width="0.6"/>
<path d="M562 203.8L565.5 201.3L562.1 198.5L558.6 201Z" fill="#36dca2" stroke="#36dca2" stroke-width="0.6"/>
<path d="M568.9 204.1L572.4 201.5L569 198.7L565.5 201.3Z" fill="#36dca5" stroke="#36dca5" stroke-width="0.6"/>
<path d="M575.8 204.3L579.3 201.7L575.9 198.9L572.4 201.5Z" fill="#36dda9" stroke="#36dda9" stroke-width="0.6"/>
<path d="M582.8 204.6L586.2 201.9L582.8 199.1L579.3 201.7Z" fill="#36ddad" stroke="#36ddad" stroke-width="0.6"/>
<path d="M589.7 204.8L593.1 202.1L589.6 199.3L586.2 201.9Z" fill="#36deb0" stroke="#36deb0" stroke-width="0.6"/>
<path d="M596.6 205L600 202.3L596.5 199.5L593.1 202.1Z" fill="#36deb4" stroke="#36deb4" stroke-width="0.6"/>
<path d="M603.5 205.2L606.9 202.5L603.4 199.7L600 202.3Z" fill="#36dfb8" stroke="#36dfb8" stroke-width="0.6"/>
<path d="M610.4 205.4L613.8 202.7L610.2 199.9L606.9 202.5Z" fill="#36dfbc" stroke="#36dfbc" stroke-width="0.6"/>
<path d="M617.3 205.5L620.6 202.9L617.1 200.1L613.8 202.7Z" fill="#36e0bf" stroke="#36e0bf" stroke-width="0.6"/>
<path d="M624.2 205.7L627.5 203L623.9 200.2L620.6 202.9Z" fill="#36e0c3" stroke="#36e0c3" stroke-width="0.6"/>
<path d="M631 205.9L634.3 203.2L630.8 200.4L627.5 203Z" fill="#36e1c7" stroke="#36e1c7" stroke-width="0.6"/>
<path d="M637.9 206L641.2 203.4L637.6 200.6L634.3 203.2Z" fill="#36e1cb" stroke="#36e1cb" stroke-width="0.6"/>
<path d="M447.7 199.3L451.5 197.2L448.4 194.5L444.7 196.6Z" fill="#36d457" stroke="#36d457" stroke-width="0.6"/>
<path d="M454.6 199.9L458.3 197.8L455.2 195.1L451.5 197.2Z" fill="#36d45a" stroke="#36d45a" stroke-width="0.6"/>
<path d="M461.4 200.5L465.2 198.4L462.1 195.6L458.3 197.8Z" fill="#36d55e" stroke="#36d55e" stroke-width="0.6"/>
<path d="M468.3 201.1L472 198.9L468.9 196.2L465.2 198.4Z" fill="#36d561" stroke="#36d561" stroke-width="0.6"/>
<path d="M475.2 201.7L478.9 199.4L475.8 196.7L472 198.9Z" fill="#36d665" stroke="#36d665" stroke-width="0.6"/>
<path d="M482.1 202.2L485.8 199.9L482.6 197.1L478.9 199.4Z" fill="#36d669" stroke="#36d669" stroke-width="0.6"/>
<path d="M489 202.7L492.7 200.4L489.5 197.6L485.8 199.9Z" fill="#36d76c" stroke="#36d76c" stroke-width="0.6"/>
<path d="M495.9 203.2L499.6 200.8L496.4 198L492.7 200.4Z" fill="#36d770" stroke="#36d770" stroke-width="0.6"/>
<path d="M502.9 203.6L506.5 201.2L503.3 198.4L499.6 200.8Z" fill="#36d874" stroke="#36d874" stroke-width="0.6"/>
<path d="M509.8 204L513.5 201.6L510.2 198.8L506.5 201.2Z" fill="#36d877" stroke="#36d877" stroke-width="0.6"/>
<path d="M516.7 204.4L520.4 202L517.1 199.2L513.5 201.6Z" fill="#36d97b" stroke="#36d97b" stroke-width="0.6"/>
<path d="M523.7 204.8L527.3 202.3L524 199.5L520.4 202Z" fill="#36d97f" stroke="#36d97f" stroke-width="0.6"/>
<path d="M530.6 205.2L534.2 202.7L530.9 199.9L527.3 202.3Z" fill="#36da83" stroke="#36da83" stroke-width="0.6"/>
<path d="M537.6 205.5L541.2 203L537.8 200.2L534.2 202.7Z" fill="#36da86" stroke="#36da86" stroke-width="0.6"/>
<path d="M544.5 205.8L548.1 203.3L544.7 200.5L541.2 203Z" fill="#36db8a" stroke="#36db8a" stroke-width="0.6"/>
<path d="M551.5 206.1L555 203.6L551.6 200.8L548.1 203.3Z" fill="#36db8e" stroke="#36db8e" stroke-width="0.6"/>
<path d="M558.4 206.4L562 203.8L558.6 201L555 203.6Z" fill="#36dc92" stroke="#36dc92" stroke-width="0.6"/>
<path d="M565.4 206.7L568.9 204.1L565.5 201.3L562 203.8Z" fill="#36dc95" stroke="#36dc95" stroke-width="0.6"/>
<path d="M572.3 207L575.8 204.3L572.4 201.5L568.9 204.1Z" fill="#36dd99" stroke="#36dd99" stroke-width="0.6"/>
<path d="M579.3 207.2L582.8 204.6L579.3 201.7L575.8 204.3Z" fill="#36dd9d" stroke="#36dd9d" stroke-width="0.6"/>
<path d="M586.2 207.4L589.7 204.8L586.2 201.9L582.8 204.6Z" fill="#36dea1" stroke="#36dea1" stroke-width="0.6"/>
<path d="M593.2 207.6L596.6 205L593.1 202.1L589.7 204.8Z" fill="#36dea5" stroke="#36dea5" stroke-width="0.6"/>
<path d="M600.1 207.8L603.5 205.2L600 202.3L596.6 205Z" fill="#36dfa8" stroke="#36dfa8" stroke-width="0.6"/>
<path d="M607 208L610.4 205.4L606.9 202.5L603.5 205.2Z" fill="#36dfac" stroke="#36dfac" stroke-width="0.6"/>
<path d="M613.9 208.2L617.3 205.5L613.8 202.7L610.4 205.4Z" fill="#36e0b0" stroke="#36e0b0" stroke-width="0.6"/>
<path d="M620.8 208.4L624.2 205.7L620.6 202.9L617.3 205.5Z" fill="#36e0b4" stroke="#36e0b4" stroke-width="0.6"/>
<path d="M627.7 208.6L631 205.9L627.5 203L624.2 205.7Z" fill="#36e1b8" stroke="#36e1b8" stroke-width="0.6"/>
<path d="M634.6 208.7L637.9 206L634.3 203.2L631 205.9Z" fill="#36e1bc" stroke="#36e1bc" stroke-width="0.6"/>
<path d="M450.8 202L454.6 199.9L451.5 197.2L447.7 199.3Z" fill="#36d448" stroke="#36d448" stroke-width="0.6"/>
<path d="M457.7 202.7L461.4 200.5L458.3 197.8L454.6 199.9Z" fill="#36d54c" stroke="#36d54c" stroke-width="0.6"/>
<path d="M464.6 203.3L468.3 201.1L465.2 198.4L461.4 200.5Z" fill="#36d550" stroke="#36d550" stroke-width="0.6"/>
<path d="M471.5 203.9L475.2 201.7L472 198.9L468.3 201.1Z" fill="#36d654" stroke="#36d654" stroke-width="0.6"/>
<path d="M478.4 204.5L482.1 202.2L478.9 199.4L475.2 201.7Z" fill="#36d657" stroke="#36d657" stroke-width="0.6"/>
<path d="M485.3 205L489 202.7L485.8 199.9L482.1 202.2Z" fill="#36d75b" stroke="#36d75b" stroke-width="0.6"/>
<path d="M492.3 205.5L495.9 203.2L492.7 200.4L489 202.7Z" fill="#36d75f" stroke="#36d75f" stroke-width="0.6"/>
<path d="M499.2 206L502.9 203.6L499.6 200.8L495.9 203.2Z" fill="#36d863" stroke="#36d863" stroke-width="0.6"/>
<path d="M506.1 206.4L509.8 204L506.5 201.2L502.9 203.6Z" fill="#36d866" stroke="#36d866" stroke-width="0.6"/>
<path d="M513.1 206.9L516.7 204.4L513.5 201.6L509.8 204Z" fill="#36d96a" stroke="#36d96a" stroke-width="0.6"/>
<path d="M520.1 207.3L523.7 204.8L520.4 202L516.7 204.4Z" fill="#36d96e" stroke="#36d96e" stroke-width="0.6"/>
<path d="M527 207.7L530.6 205.2L527.3 202.3L523.7 204.8Z" fill="#36da72" stroke="#36da72" stroke-width="0.6"/>
<path d="M534 208L537.6 205.5L534.2 202.7L530.6 205.2Z" fill="#36da76" stroke="#36da76" stroke-width="0.6"/>
<path d="M541 208.4L544.5 205.8L541.2 203L537.6 205.5Z" fill="#36db7a" stroke="#36db7a" stroke-width="0.6"/>
<path d="M547.9 208.7L551.5 206.1L548.1 203.3L544.5 205.8Z" fill="#36dc7e" stroke="#36dc7e" stroke-width="0.6"/>
<path d="M554.9 209L558.4 206.4L555 203.6L551.5 206.1Z" fill="#36dc81" stroke="#36dc81" stroke-width="0.6"/>
<path d="M561.9 209.3L565.4 206.7L562 203.8L558.4 206.4Z" fill="#36dd85" stroke="#36dd85" stroke-width="0.6"/>
<path d="M568.8 209.6L572.3 207L568.9 204.1L565.4 206.7Z" fill="#36dd89" stroke="#36dd89" stroke-width="0.6"/>
<path d="M575.8 209.8L579.3 207.2L575.8 204.3L572.3 207Z" fill="#36de8d" stroke="#36de8d" stroke-width="0.6"/>
<path d="M582.8 210.1L586.2 207.4L582.8 204.6L579.3 207.2Z" fill="#36de91" stroke="#36de91" stroke-width="0.6"/>
<path d="M589.7 210.3L593.2 207.6L589.7 204.8L586.2 207.4Z" fill="#36df95" stroke="#36df95" stroke-width="0.6"/>
<path d="M596.7 210.5L600.1 207.8L596.6 205L593.2 207.6Z" fill="#36df99" stroke="#36df99" stroke-width="0.6"/>
<path d="M603.6 210.7L607 208L603.5 205.2L600.1 207.8Z" fill="#36e09d" stroke="#36e09d" stroke-width="0.6"/>
<path d="M610.6 210.9L613.9 208.2L610.4 205.4L607 208Z" fill="#36e0a1" stroke="#36e0a1" stroke-width="0.6"/>
<path d="M617.5 211.1L620.8 208.4L617.3 205.5L613.9 208.2Z" fill="#36e1a5" stroke="#36e1a5" stroke-width="0.6"/>
<path d="M624.4 211.3L627.7 208.6L624.2 205.7L620.8 208.4Z" fill="#36e1a9" stroke="#36e1a9" stroke-width="0.6"/>
<path d="M631.3 211.5L634.6 208.7L631 205.9L627.7 208.6Z" fill="#36e2ad" stroke="#36e2ad" stroke-width="0.6"/>
<path d="M453.9 204.8L457.7 202.7L454.6 199.9L450.8 202Z" fill="#46d546" stroke="#46d546" stroke-width="0.6"/>
<path d="M460.8 205.5L464.6 203.3L461.4 200.5L457.7 202.7Z" fill="#41d646" stroke="#41d646" stroke-width="0.6"/>
<path d="M467.7 206.1L471.5 203.9L468.3 201.1L464.6 203.3Z" fill="#3cd646" stroke="#3cd646" stroke-width="0.6"/>
<path d="M474.7 206.7L478.4 204.5L475.2 201.7L471.5 203.9Z" fill="#36d746" stroke="#36d746" stroke-width="0.6"/>
<path d="M481.6 207.3L485.3 205L482.1 202.2L478.4 204.5Z" fill="#36d74a" stroke="#36d74a" stroke-width="0.6"/>
<path d="M488.5 207.8L492.3 205.5L489 202.7L485.3 205Z" fill="#36d84e" stroke="#36d84e" stroke-width="0.6"/>
<path d="M495.5 208.4L499.2 206L495.9 203.2L492.3 205.5Z" fill="#36d852" stroke="#36d852" stroke-width="0.6"/>
<path d="M502.5 208.9L506.1 206.4L502.9 203.6L499.2 206Z" fill="#36d956" stroke="#36d956" stroke-width="0.6"/>
<path d="M509.4 209.3L513.1 206.9L509.8 204L506.1 206.4Z" fill="#36d959" stroke="#36d959" stroke-width="0.6"/>
<path d="M516.4 209.8L520.1 207.3L516.7 204.4L513.1 206.9Z" fill="#36da5d" stroke="#36da5d" stroke-width="0.6"/>
<path d="M523.4 210.2L527 207.7L523.7 204.8L520.1 207.3Z" fill="#36da61" stroke="#36da61" stroke-width="0.6"/>
<path d="M530.4 210.6L534 208L530.6 205.2L527 207.7Z" fill="#36db65" stroke="#36db65" stroke-width="0.6"/>
<path d="M537.4 210.9L541 208.4L537.6 205.5L534 208Z" fill="#36db69" stroke="#36db69" stroke-width="0.6"/>
<path d="M544.4 211.3L547.9 208.7L544.5 205.8L541 208.4Z" fill="#36dc6d" stroke="#36dc6d" stroke-width="0.6"/>
<path d="M551.3 211.6L554.9 209L551.5 206.1L547.9 208.7Z" fill="#36dc71" stroke="#36dc71" stroke-width="0.6"/>
<path d="M558.3 211.9L561.9 209.3L558.4 206.4L554.9 209Z" fill="#36dd75" stroke="#36dd75" stroke-width="0.6"/>
<path d="M565.3 212.2L568.8 209.6L565.4 206.7L561.9 209.3Z" fill="#36dd79" stroke="#36dd79" stroke-width="0.6"/>
<path d="M572.3 212.5L575.8 209.8L572.3 207L568.8 209.6Z" fill="#36de7e" stroke="#36de7e" stroke-width="0.6"/>
<path d="M579.3 212.7L582.8 210.1L579.3 207.2L575.8 209.8Z" fill="#36de82" stroke="#36de82" stroke-width="0.6"/>
<path d="M586.3 213L589.7 210.3L586.2 207.4L582.8 210.1Z" fill="#36df86" stroke="#36df86" stroke-width="0.6"/>
<path d="M593.3 213.2L596.7 210.5L593.2 207.6L589.7 210.3Z" fill="#36df8a" stroke="#36df8a" stroke-width="0.6"/>
<path d="M600.2 213.4L603.6 210.7L600.1 207.8L596.7 210.5Z" fill="#36e08e" stroke="#36e08e" stroke-width="0.6"/>
<path d="M607.2 213.6L610.6 210.9L607 208L603.6 210.7Z" fill="#36e092" stroke="#36e092" stroke-width="0.6"/>
<path d="M614.1 213.8L617.5 211.1L613.9 208.2L610.6 210.9Z" fill="#36e196" stroke="#36e196" stroke-width="0.6"/>
<path d="M621.1 214L624.4 211.3L620.8 208.4L617.5 211.1Z" fill="#36e19a" stroke="#36e19a" stroke-width="0.6"/>
<path d="M628 214.2L631.3 211.5L627.7 208.6L624.4 211.3Z" fill="#36e29f" stroke="#36e29f" stroke-width="0.6"/>
<path d="M457 207.7L460.8 205.5L457.7 202.7L453.9 204.8Z" fill="#58d646" stroke="#58d646" stroke-width="0.6"/>
<path d="M464 208.3L467.7 206.1L464.6 203.3L460.8 205.5Z" fill="#53d646" stroke="#53d646" stroke-width="0.6"/>
<path d="M470.9 209L474.7 206.7L471.5 203.9L467.7 206.1Z" fill="#4ed746" stroke="#4ed746" stroke-width="0.6"/>
<path d="M477.9 209.6L481.6 207.3L478.4 204.5L474.7 206.7Z" fill="#48d746" stroke="#48d746" stroke-width="0.6"/>
<path d="M484.8 210.2L488.5 207.8L485.3 205L481.6 207.3Z" fill="#43d846" stroke="#43d846" stroke-width="0.6"/>
<path d="M491.8 210.7L495.5 208.4L492.3 205.5L488.5 207.8Z" fill="#3ed846" stroke="#3ed846" stroke-width="0.6"/>
<path d="M498.8 211.2L502.5 208.9L499.2 206L495.5 208.4Z" fill="#38d946" stroke="#38d946" stroke-width="0.6"/>
<path d="M505.8 211.7L509.4 209.3L506.1 206.4L502.5 208.9Z" fill="#36d949" stroke="#36d949" stroke-width="0.6"/>
<path d="M512.8 212.2L516.4 209.8L513.1 206.9L509.4 209.3Z" fill="#36da4d" stroke="#36da4d" stroke-width="0.6"/>
<path d="M519.7 212.7L523.4 210.2L520.1 207.3L516.4 209.8Z" fill="#36da51" stroke="#36da51" stroke-width="0.6"/>
<path d="M526.7 213.1L530.4 210.6L527 207.7L523.4 210.2Z" fill="#36db55" stroke="#36db55" stroke-width="0.6"/>
<path d="M533.8 213.5L537.4 210.9L534 208L530.4 210.6Z" fill="#36db59" stroke="#36db59" stroke-width="0.6"/>
<path d="M540.8 213.9L544.4 211.3L541 208.4L537.4 210.9Z" fill="#36dc5d" stroke="#36dc5d" stroke-width="0.6"/>
<path d="M547.8 214.2L551.3 211.6L547.9 208.7L544.4 211.3Z" fill="#36dc61" stroke="#36dc61" stroke-width="0.6"/>
<path d="M554.8 214.5L558.3 211.9L554.9 209L551.3 211.6Z" fill="#36dd65" stroke="#36dd65" stroke-width="0.6"/>
<path d="M561.8 214.9L565.3 212.2L561.9 209.3L558.3 211.9Z" fill="#36dd6a" stroke="#36dd6a" stroke-width="0.6"/>
<path d="M568.8 215.1L572.3 212.5L568.8 209.6L565.3 212.2Z" fill="#36de6e" stroke="#36de6e" stroke-width="0.6"/>
<path d="M575.8 215.4L579.3 212.7L575.8 209.8L572.3 212.5Z" fill="#36de72" stroke="#36de72" stroke-width="0.6"/>
<path d="M582.8 215.7L586.3 213L582.8 210.1L579.3 212.7Z" fill="#36df76" stroke="#36df76" stroke-width="0.6"/>
<path d="M589.8 215.9L593.3 213.2L589.7 210.3L586.3 213Z" fill="#36df7b" stroke="#36df7b" stroke-width="0.6"/>
<path d="M596.8 216.2L600.2 213.4L596.7 210.5L593.3 213.2Z" fill="#36e07f" stroke="#36e07f" stroke-width="0.6"/>
<path d="M603.8 216.4L607.2 213.6L603.6 210.7L600.2 213.4Z" fill="#36e083" stroke="#36e083" stroke-width="0.6"/>
<path d="M610.7 216.6L614.1 213.8L610.6 210.9L607.2 213.6Z" fill="#36e187" stroke="#36e187" stroke-width="0.6"/>
<path d="M617.7 216.8L621.1 214L617.5 211.1L614.1 213.8Z" fill="#36e18c" stroke="#36e18c" stroke-width="0.6"/>
<path d="M624.7 217L628 214.2L624.4 211.3L621.1 214Z" fill="#36e290" stroke="#36e290" stroke-width="0.6"/>
<path d="M460.2 210.5L464 208.3L460.8 205.5L457 207.7Z" fill="#6ad746" stroke="#6ad746" stroke-width="0.6"/>
<path d="M467.1 211.2L470.9 209L467.7 206.1L464 208.3Z" fill="#65d746" stroke="#65d746" stroke-width="0.6"/>
<path d="M474.1 211.8L477.9 209.6L474.7 206.7L470.9 209Z" fill="#60d846" stroke="#60d846" stroke-width="0.6"/>
<path d="M481.1 212.5L484.8 210.2L481.6 207.3L477.9 209.6Z" fill="#5ad846" stroke="#5ad846" stroke-width="0.6"/>
<path d="M488.1 213.1L491.8 210.7L488.5 207.8L484.8 210.2Z" fill="#55d946" stroke="#55d946" stroke-width="0.6"/>
<path d="M495.1 213.6L498.8 211.2L495.5 208.4L491.8 210.7Z" fill="#4fd946" stroke="#4fd946" stroke-width="0.6"/>
<path d="M502.1 214.2L505.8 211.7L502.5 208.9L498.8 211.2Z" fill="#4ada46" stroke="#4ada46" stroke-width="0.6"/>
<path d="M509.1 214.7L512.8 212.2L509.4 209.3L505.8 211.7Z" fill="#44da46" stroke="#44da46" stroke-width="0.6"/>
<path d="M516.1 215.1L519.7 212.7L516.4 209.8L512.8 212.2Z" fill="#3edb46" stroke="#3edb46" stroke-width="0.6"/>
<path d="M523.1 215.6L526.7 213.1L523.4 210.2L519.7 212.7Z" fill="#38db46" stroke="#38db46" stroke-width="0.6"/>
<path d="M530.1 216L533.8 213.5L530.4 210.6L526.7 213.1Z" fill="#36dc49" stroke="#36dc49" stroke-width="0.6"/>
<path d="M537.2 216.4L540.8 213.9L537.4 210.9L533.8 213.5Z" fill="#36dc4d" stroke="#36dc4d" stroke-width="0.6"/>
<path d="M544.2 216.8L547.8 214.2L544.4 211.3L540.8 213.9Z" fill="#36dd51" stroke="#36dd51" stroke-width="0.6"/>
<path d="M551.2 217.2L554.8 214.5L551.3 211.6L547.8 214.2Z" fill="#36dd56" stroke="#36dd56" stroke-width="0.6"/>
<path d="M558.2 217.5L561.8 214.9L558.3 211.9L554.8 214.5Z" fill="#36de5a" stroke="#36de5a" stroke-width="0.6"/>
<path d="M565.3 217.8L568.8 215.1L565.3 212.2L561.8 214.9Z" fill="#36de5e" stroke="#36de5e" stroke-width="0.6"/>
<path d="M572.3 218.1L575.8 215.4L572.3 212.5L568.8 215.1Z" fill="#36df62" stroke="#36df62" stroke-width="0.6"/>
<path d="M579.3 218.4L582.8 215.7L579.3 212.7L575.8 215.4Z" fill="#36df67" stroke="#36df67" stroke-width="0.6"/>
<path d="M586.3 218.6L589.8 215.9L586.3 213L582.8 215.7Z" fill="#36e06b" stroke="#36e06b" stroke-width="0.6"/>
<path d="M593.3 218.9L596.8 216.2L593.3 213.2L589.8 215.9Z" fill="#36e070" stroke="#36e070" stroke-width="0.6"/>
<path d="M600.3 219.1L603.8 216.4L600.2 213.4L596.8 216.2Z" fill="#36e174" stroke="#36e174" stroke-width="0.6"/>
<path d="M607.3 219.3L610.7 216.6L607.2 213.6L603.8 216.4Z" fill="#36e178" stroke="#36e178" stroke-width="0.6"/>
<path d="M614.3 219.5L617.7 216.8L614.1 213.8L610.7 216.6Z" fill="#36e27d" stroke="#36e27d" stroke-width="0.6"/>
<path d="M621.3 219.7L624.7 217L621.1 214L617.7 216.8Z" fill="#36e281" stroke="#36e281" stroke-width="0.6"/>
<path d="M463.4 213.4L467.1 211.2L464 208.3L460.2 210.5Z" fill="#7dd746" stroke="#7dd746" stroke-width="0.6"/>
<path d="M470.3 214.1L474.1 211.8L470.9 209L467.1 211.2Z" fill="#77d846" stroke="#77d846" stroke-width="0.6"/>
<path d="M477.3 214.8L481.1 212.5L477.9 209.6L474.1 211.8Z" fill="#71d846" stroke="#71d846" stroke-width="0.6"/>
<path d="M484.3 215.4L488.1 213.1L484.8 210.2L481.1 212.5Z" fill="#6cd946" stroke="#6cd946" stroke-width="0.6"/>
<path d="M491.3 216L495.1 213.6L491.8 210.7L488.1 213.1Z" fill="#66d946" stroke="#66d946" stroke-width="0.6"/>
<path d="M498.4 216.6L502.1 214.2L498.8 211.2L495.1 213.6Z" fill="#60da46" stroke="#60da46" stroke-width="0.6"/>
<path d="M505.4 217.1L509.1 214.7L505.8 211.7L502.1 214.2Z" fill="#5bda46" stroke="#5bda46" stroke-width="0.6"/>
<path d="M512.4 217.6L516.1 215.1L512.8 212.2L509.1 214.7Z" fill="#55db46" stroke="#55db46" stroke-width="0.6"/>
<path d="M519.4 218.1L523.1 215.6L519.7 212.7L516.1 215.1Z" fill="#4fdb46" stroke="#4fdb46" stroke-width="0.6"/>
<path d="M526.5 218.6L530.1 216L526.7 213.1L523.1 215.6Z" fill="#49dc46" stroke="#49dc46" stroke-width="0.6"/>
<path d="M533.5 219L537.2 216.4L533.8 213.5L530.1 216Z" fill="#43dc46" stroke="#43dc46" stroke-width="0.6"/>
<path d="M540.6 219.4L544.2 216.8L540.8 213.9L537.2 216.4Z" fill="#3ddd46" stroke="#3ddd46" stroke-width="0.6"/>
<path d="M547.6 219.8L551.2 217.2L547.8 214.2L544.2 216.8Z" fill="#37dd46" stroke="#37dd46" stroke-width="0.6"/>
<path d="M554.7 220.1L558.2 217.5L554.8 214.5L551.2 217.2Z" fill="#36de4a" stroke="#36de4a" stroke-width="0.6"/>
<path d="M561.7 220.5L565.3 217.8L561.8 214.9L558.2 217.5Z" fill="#36de4e" stroke="#36de4e" stroke-width="0.6"/>
<path d="M568.8 220.8L572.3 218.1L568.8 215.1L565.3 217.8Z" fill="#36df53" stroke="#36df53" stroke-width="0.6"/>
<path d="M575.8 221.1L579.3 218.4L575.8 215.4L572.3 218.1Z" fill="#36df57" stroke="#36df57" stroke-width="0.6"/>
<path d="M582.8 221.4L586.3 218.6L582.8 215.7L579.3 218.4Z" fill="#36e05c" stroke="#36e05c" stroke-width="0.6"/>
<path d="M589.9 221.6L593.3 218.9L589.8 215.9L586.3 218.6Z" fill="#36e060" stroke="#36e060" stroke-width="0.6"/>
<path d="M596.9 221.9L600.3 219.1L596.8 216.2L593.3 218.9Z" fill="#36e165" stroke="#36e165" stroke-width="0.6"/>
<path d="M603.9 222.1L607.3 219.3L603.8 216.4L600.3 219.1Z" fill="#36e169" stroke="#36e169" stroke-width="0.6"/>
<path d="M610.9 222.3L614.3 219.5L610.7 216.6L607.3 219.3Z" fill="#36e26e" stroke="#36e26e" stroke-width="0.6"/>
<path d="M617.9 222.5L621.3 219.7L617.7 216.8L614.3 219.5Z" fill="#36e272" stroke="#36e272" stroke-width="0.6"/>
<path d="M466.6 216.3L470.3 214.1L467.1 211.2L463.4 213.4Z" fill="#8ed846" stroke="#8ed846" stroke-width="0.6"/>
<path d="M473.6 217L477.3 214.8L474.1 211.8L470.3 214.1Z" fill="#89d846" stroke="#89d846" stroke-width="0.6"/>
<path d="M480.6 217.7L484.3 215.4L481.1 212.5L477.3 214.8Z" fill="#83d946" stroke="#83d946" stroke-width="0.6"/>
<path d="M487.6 218.3L491.3 216L488.1 213.1L484.3 215.4Z" fill="#7dd946" stroke="#7dd946" stroke-width="0.6"/>
<path d="M494.6 218.9L498.4 216.6L495.1 213.6L491.3 216Z" fill="#77da46" stroke="#77da46" stroke-width="0.6"/>
<path d="M501.7 219.5L505.4 217.1L502.1 214.2L498.4 216.6Z" fill="#72da46" stroke="#72da46" stroke-width="0.6"/>
<path d="M508.7 220.1L512.4 217.6L509.1 214.7L505.4 217.1Z" fill="#6cdb46" stroke="#6cdb46" stroke-width="0.6"/>
<path d="M515.8 220.6L519.4 218.1L516.1 215.1L512.4 217.6Z" fill="#66dc46" stroke="#66dc46" stroke-width="0.6"/>
<path d="M522.8 221.1L526.5 218.6L523.1 215.6L519.4 218.1Z" fill="#60dc46" stroke="#60dc46" stroke-width="0.6"/>
<path d="M529.9 221.5L533.5 219L530.1 216L526.5 218.6Z" fill="#59dd46" stroke="#59dd46" stroke-width="0.6"/>
<path d="M536.9 222L540.6 219.4L537.2 216.4L533.5 219Z" fill="#53dd46" stroke="#53dd46" stroke-width="0.6"/>
<path d="M544 222.4L547.6 219.8L544.2 216.8L540.6 219.4Z" fill="#4dde46" stroke="#4dde46" stroke-width="0.6"/>
<path d="M551.1 222.8L554.7 220.1L551.2 217.2L547.6 219.8Z" fill="#47de46" stroke="#47de46" stroke-width="0.6"/>
<path d="M558.1 223.1L561.7 220.5L558.2 217.5L554.7 220.1Z" fill="#40df46" stroke="#40df46" stroke-width="0.6"/>
<path d="M565.2 223.5L568.8 220.8L565.3 217.8L561.7 220.5Z" fill="#3adf46" stroke="#3adf46" stroke-width="0.6"/>
<path d="M572.3 223.8L575.8 221.1L572.3 218.1L568.8 220.8Z" fill="#36e048" stroke="#36e048" stroke-width="0.6"/>
<path d="M579.3 224.1L582.8 221.4L579.3 218.4L575.8 221.1Z" fill="#36e04d" stroke="#36e04d" stroke-width="0.6"/>
<path d="M586.4 224.4L589.9 221.6L586.3 218.6L582.8 221.4Z" fill="#36e151" stroke="#36e151" stroke-width="0.6"/>
<path d="M593.4 224.7L596.9 221.9L593.3 218.9L589.9 221.6Z" fill="#36e156" stroke="#36e156" stroke-width="0.6"/>
<path d="M600.5 224.9L603.9 222.1L600.3 219.1L596.9 221.9Z" fill="#36e25a" stroke="#36e25a" stroke-width="0.6"/>
<path d="M607.5 225.1L610.9 222.3L607.3 219.3L603.9 222.1Z" fill="#36e25f" stroke="#36e25f" stroke-width="0.6"/>
<path d="M614.5 225.3L617.9 222.5L614.3 219.5L610.9 222.3Z" fill="#36e364" stroke="#36e364" stroke-width="0.6"/>
<path d="M469.8 219.3L473.6 217L470.3 214.1L466.6 216.3Z" fill="#a0d946" stroke="#a0d946" stroke-width="0.6"/>
<path d="M476.8 220L480.6 217.7L477.3 214.8L473.6 217Z" fill="#9ad946" stroke="#9ad946" stroke-width="0.6"/>
<path d="M483.8 220.7L487.6 218.3L484.3 215.4L480.6 217.7Z" fill="#94da46" stroke="#94da46" stroke-width="0.6"/>
<path d="M490.9 221.3L494.6 218.9L491.3 216L487.6 218.3Z" fill="#8eda46" stroke="#8eda46" stroke-width="0.6"/>
<path d="M497.9 221.9L501.7 219.5L498.4 216.6L494.6 218.9Z" fill="#88db46" stroke="#88db46" stroke-width="0.6"/>
<path d="M505 222.5L508.7 220.1L505.4 217.1L501.7 219.5Z" fill="#82db46" stroke="#82db46" stroke-width="0.6"/>
<path d="M512.1 223.1L515.8 220.6L512.4 217.6L508.7 220.1Z" fill="#7cdc46" stroke="#7cdc46" stroke-width="0.6"/>
<path d="M519.1 223.6L522.8 221.1L519.4 218.1L515.8 220.6Z" fill="#76dc46" stroke="#76dc46" stroke-width="0.6"/>
<path d="M526.2 224.1L529.9 221.5L526.5 218.6L522.8 221.1Z" fill="#70dd46" stroke="#70dd46" stroke-width="0.6"/>
<path d="M533.3 224.6L536.9 222L533.5 219L529.9 221.5Z" fill="#6add46" stroke="#6add46" stroke-width="0.6"/>
<path d="M540.4 225L544 222.4L540.6 219.4L536.9 222Z" fill="#63de46" stroke="#63de46" stroke-width="0.6"/>
<path d="M547.5 225.4L551.1 222.8L547.6 219.8L544 222.4Z" fill="#5dde46" stroke="#5dde46" stroke-width="0.6"/>
<path d="M554.5 225.8L558.1 223.1L554.7 220.1L551.1 222.8Z" fill="#56df46" stroke="#56df46" stroke-width="0.6"/>
<path d="M561.6 226.2L565.2 223.5L561.7 220.5L558.1 223.1Z" fill="#50df46" stroke="#50df46" stroke-width="0.6"/>
<path d="M568.7 226.5L572.3 223.8L568.8 220.8L565.2 223.5Z" fill="#49e046" stroke="#49e046" stroke-width="0.6"/>
<path d="M575.8 226.8L579.3 224.1L575.8 221.1L572.3 223.8Z" fill="#43e046" stroke="#43e046" stroke-width="0.6"/>
<path d="M582.9 227.1L586.4 224.4L582.8 221.4L579.3 224.1Z" fill="#3ce146" stroke="#3ce146" stroke-width="0.6"/>
<path d="M590 227.4L593.4 224.7L589.9 221.6L586.4 224.4Z" fill="#36e147" stroke="#36e147" stroke-width="0.6"/>
<path d="M597 227.7L600.5 224.9L596.9 221.9L593.4 224.7Z" fill="#36e24b" stroke="#36e24b" stroke-width="0.6"/>
<path d="M604.1 227.9L607.5 225.1L603.9 222.1L600.5 224.9Z" fill="#36e250" stroke="#36e250" stroke-width="0.6"/>
<path d="M611.1 228.2L614.5 225.3L610.9 222.3L607.5 225.1Z" fill="#36e355" stroke="#36e355" stroke-width="0.6"/>
<path d="M473 222.3L476.8 220L473.6 217L469.8 219.3Z" fill="#b2d946" stroke="#b2d946" stroke-width="0.6"/>
<path d="M480.1 223L483.8 220.7L480.6 217.7L476.8 220Z" fill="#acda46" stroke="#acda46" stroke-width="0.6"/>
<path d="M487.1 223.7L490.9 221.3L487.6 218.3L483.8 220.7Z" fill="#a6da46" stroke="#a6da46" stroke-width="0.6"/>
<path d="M494.2 224.3L497.9 221.9L494.6 218.9L490.9 221.3Z" fill="#9fdb46" stroke="#9fdb46" stroke-width="0.6"/>
<path d="M501.3 225L505 222.5L501.7 219.5L497.9 221.9Z" fill="#99db46" stroke="#99db46" stroke-width="0.6"/>
<path d="M508.3 225.5L512.1 223.1L508.7 220.1L505 222.5Z" fill="#93dc46" stroke="#93dc46" stroke-width="0.6"/>
<path d="M515.4 226.1L519.1 223.6L515.8 220.6L512.1 223.1Z" fill="#8ddc46" stroke="#8ddc46" stroke-width="0.6"/>
<path d="M522.5 226.6L526.2 224.1L522.8 221.1L519.1 223.6Z" fill="#86dd46" stroke="#86dd46" stroke-width="0.6"/>
<path d="M529.6 227.1L533.3 224.6L529.9 221.5L526.2 224.1Z" fill="#80dd46" stroke="#80dd46" stroke-width="0.6"/>
<path d="M536.7 227.6L540.4 225L536.9 222L533.3 224.6Z" fill="#7ade46" stroke="#7ade46" stroke-width="0.6"/>
<path d="M543.8 228.1L547.5 225.4L544 222.4L540.4 225Z" fill="#73de46" stroke="#73de46" stroke-width="0.6"/>
<path d="M550.9 228.5L554.5 225.8L551.1 222.8L547.5 225.4Z" fill="#6cdf46" stroke="#6cdf46" stroke-width="0.6"/>
<path d="M558 228.9L561.6 226.2L558.1 223.1L554.5 225.8Z" fill="#66df46" stroke="#66df46" stroke-width="0.6"/>
<path d="M565.2 229.2L568.7 226.5L565.2 223.5L561.6 226.2Z" fill="#5fe046" stroke="#5fe046" stroke-width="0.6"/>
<path d="M572.3 229.6L575.8 226.8L572.3 223.8L568.7 226.5Z" fill="#58e046" stroke="#58e046" stroke-width="0.6"/>
<path d="M579.4 229.9L582.9 227.1L579.3 224.1L575.8 226.8Z" fill="#52e146" stroke="#52e146" stroke-width="0.6"/>
<path d="M586.5 230.2L590 227.4L586.4 224.4L582.9 227.1Z" fill="#4be146" stroke="#4be146" stroke-width="0.6"/>
<path d="M593.5 230.5L597 227.7L593.4 224.7L590 227.4Z" fill="#44e246" stroke="#44e246" stroke-width="0.6"/>
<path d="M600.6 230.8L604.1 227.9L600.5 224.9L597 227.7Z" fill="#3de246" stroke="#3de246" stroke-width="0.6"/>
<path d="M607.7 231L611.1 228.2L607.5 225.1L604.1 227.9Z" fill="#36e346" stroke="#36e346" stroke-width="0.6"/>
<path d="M476.3 225.3L480.1 223L476.8 220L473 222.3Z" fill="#c3da46" stroke="#c3da46" stroke-width="0.6"/>
<path d="M483.3 226L487.1 223.7L483.8 220.7L480.1 223Z" fill="#bddb46" stroke="#bddb46" stroke-width="0.6"/>
<path d="M490.4 226.7L494.2 224.3L490.9 221.3L487.1 223.7Z" fill="#b7db46" stroke="#b7db46" stroke-width="0.6"/>
<path d="M497.5 227.4L501.3 225L497.9 221.9L494.2 224.3Z" fill="#b0dc46" stroke="#b0dc46" stroke-width="0.6"/>
<path d="M504.6 228L508.3 225.5L505 222.5L501.3 225Z" fill="#aadc46" stroke="#aadc46" stroke-width="0.6"/>
<path d="M511.7 228.6L515.4 226.1L512.1 223.1L508.3 225.5Z" fill="#a4dd46" stroke="#a4dd46" stroke-width="0.6"/>
<path d="M518.8 229.2L522.5 226.6L519.1 223.6L515.4 226.1Z" fill="#9ddd46" stroke="#9ddd46" stroke-width="0.6"/>
<path d="M525.9 229.7L529.6 227.1L526.2 224.1L522.5 226.6Z" fill="#97de46" stroke="#97de46" stroke-width="0.6"/>
<path d="M533.1 230.2L536.7 227.6L533.3 224.6L529.6 227.1Z" fill="#90de46" stroke="#90de46" stroke-width="0.6"/>
<path d="M540.2 230.7L543.8 228.1L540.4 225L536.7 227.6Z" fill="#89df46" stroke="#89df46" stroke-width="0.6"/>
<path d="M547.3 231.1L550.9 228.5L547.5 225.4L543.8 228.1Z" fill="#83df46" stroke="#83df46" stroke-width="0.6"/>
<path d="M554.4 231.6L558 228.9L554.5 225.8L550.9 228.5Z" fill="#7ce046" stroke="#7ce046" stroke-width="0.6"/>
<path d="M561.6 232L565.2 229.2L561.6 226.2L558 228.9Z" fill="#75e046" stroke="#75e046" stroke-width="0.6"/>
<path d="M568.7 232.3L572.3 229.6L568.7 226.5L565.2 229.2Z" fill="#6ee146" stroke="#6ee146" stroke-width="0.6"/>
<path d="M575.8 232.7L579.4 229.9L575.8 226.8L572.3 229.6Z" fill="#67e146" stroke="#67e146" stroke-width="0.6"/>
<path d="M582.9 233L586.5 230.2L582.9 227.1L579.4 229.9Z" fill="#60e246" stroke="#60e246" stroke-width="0.6"/>
<path d="M590 233.3L593.5 230.5L590 227.4L586.5 230.2Z" fill="#59e246" stroke="#59e246" stroke-width="0.6"/>
<path d="M597.2 233.6L600.6 230.8L597 227.7L593.5 230.5Z" fill="#52e346" stroke="#52e346" stroke-width="0.6"/>
<path d="M604.3 233.8L607.7 231L604.1 227.9L600.6 230.8Z" fill="#4be346" stroke="#4be346" stroke-width="0.6"/>
<path d="M479.5 228.3L483.3 226L480.1 223L476.3 225.3Z" fill="#d4db46" stroke="#d4db46" stroke-width="0.6"/>
<path d="M486.6 229.1L490.4 226.7L487.1 223.7L483.3 226Z" fill="#cedb46" stroke="#cedb46" stroke-width="0.6"/>
<path d="M493.7 229.8L497.5 227.4L494.2 224.3L490.4 226.7Z" fill="#c7dc46" stroke="#c7dc46" stroke-width="0.6"/>
<path d="M500.9 230.4L504.6 228L501.3 225L497.5 227.4Z" fill="#c1dc46" stroke="#c1dc46" stroke-width="0.6"/>
<path d="M508 231.1L511.7 228.6L508.3 225.5L504.6 228Z" fill="#badd46" stroke="#badd46" stroke-width="0.6"/>
<path d="M515.1 231.7L518.8 229.2L515.4 226.1L511.7 228.6Z" fill="#b4dd46" stroke="#b4dd46" stroke-width="0.6"/>
<path d="M522.3 232.3L525.9 229.7L522.5 226.6L518.8 229.2Z" fill="#adde46" stroke="#adde46" stroke-width="0.6"/>
<path d="M529.4 232.8L533.1 230.2L529.6 227.1L525.9 229.7Z" fill="#a6de46" stroke="#a6de46" stroke-width="0.6"/>
<path d="M536.5 233.3L540.2 230.7L536.7 227.6L533.1 230.2Z" fill="#a0df46" stroke="#a0df46" stroke-width="0.6"/>
<path d="M543.7 233.8L547.3 231.1L543.8 228.1L540.2 230.7Z" fill="#99df46" stroke="#99df46" stroke-width="0.6"/>
<path d="M550.8 234.2L554.4 231.6L550.9 228.5L547.3 231.1Z" fill="#92e046" stroke="#92e046" stroke-width="0.6"/>
<path d="M558 234.7L561.6 232L558 228.9L554.4 231.6Z" fill="#8be046" stroke="#8be046" stroke-width="0.6"/>
<path d="M565.1 235.1L568.7 232.3L565.2 229.2L561.6 232Z" fill="#84e146" stroke="#84e146" stroke-width="0.6"/>
<path d="M572.3 235.4L575.8 232.7L572.3 229.6L568.7 232.3Z" fill="#7de146" stroke="#7de146" stroke-width="0.6"/>
<path d="M579.4 235.8L582.9 233L579.4 229.9L575.8 232.7Z" fill="#76e246" stroke="#76e246" stroke-width="0.6"/>
<path d="M586.5 236.1L590 233.3L586.5 230.2L582.9 233Z" fill="#6fe246" stroke="#6fe246" stroke-width="0.6"/>
<path d="M593.7 236.4L597.2 233.6L593.5 230.5L590 233.3Z" fill="#67e346" stroke="#67e346" stroke-width="0.6"/>
<path d="M600.8 236.7L604.3 233.8L600.6 230.8L597.2 233.6Z" fill="#60e346" stroke="#60e346" stroke-width="0.6"/>
<path d="M482.8 231.4L486.6 229.1L483.3 226L479.5 228.3Z" fill="#e5db46" stroke="#e5db46" stroke-width="0.6"/>
<path d="M490 232.2L493.7 229.8L490.4 226.7L486.6 229.1Z" fill="#dedc46" stroke="#dedc46" stroke-width="0.6"/>
<path d="M497.1 232.9L500.9 230.4L497.5 227.4L493.7 229.8Z" fill="#d8dc46" stroke="#d8dc46" stroke-width="0.6"/>
<path d="M504.2 233.6L508 231.1L504.6 228L500.9 230.4Z" fill="#d1dd46" stroke="#d1dd46" stroke-width="0.6"/>
<path d="M511.4 234.2L515.1 231.7L511.7 228.6L508 231.1Z" fill="#cadd46" stroke="#cadd46" stroke-width="0.6"/>
<path d="M518.5 234.8L522.3 232.3L518.8 229.2L515.1 231.7Z" fill="#c4de46" stroke="#c4de46" stroke-width="0.6"/>
<path d="M525.7 235.4L529.4 232.8L525.9 229.7L522.3 232.3Z" fill="#bdde46" stroke="#bdde46" stroke-width="0.6"/>
<path d="M532.9 235.9L536.5 233.3L533.1 230.2L529.4 232.8Z" fill="#b6df46" stroke="#b6df46" stroke-width="0.6"/>
<path d="M540 236.4L543.7 233.8L540.2 230.7L536.5 233.3Z" fill="#afdf46" stroke="#afdf46" stroke-width="0.6"/>
<path d="M547.2 236.9L550.8 234.2L547.3 231.1L543.7 233.8Z" fill="#a8e046" stroke="#a8e046" stroke-width="0.6"/>
<path d="M554.3 237.4L558 234.7L554.4 231.6L550.8 234.2Z" fill="#a1e046" stroke="#a1e046" stroke-width="0.6"/>
<path d="M561.5 237.8L565.1 235.1L561.6 232L558 234.7Z" fill="#9ae146" stroke="#9ae146" stroke-width="0.6"/>
<path d="M568.7 238.2L572.3 235.4L568.7 232.3L565.1 235.1Z" fill="#93e146" stroke="#93e146" stroke-width="0.6"/>
<path d="M575.8 238.6L579.4 235.8L575.8 232.7L572.3 235.4Z" fill="#8be246" stroke="#8be246" stroke-width="0.6"/>
<path d="M583 238.9L586.5 236.1L582.9 233L579.4 235.8Z" fill="#84e246" stroke="#84e246" stroke-width="0.6"/>
<path d="M590.1 239.3L593.7 236.4L590 233.3L586.5 236.1Z" fill="#7de346" stroke="#7de346" stroke-width="0.6"/>
<path d="M597.3 239.6L600.8 236.7L597.2 233.6L593.7 236.4Z" fill="#75e346" stroke="#75e346" stroke-width="0.6"/>
<path d="M486.2 234.5L490 232.2L486.6 229.1L482.8 231.4Z" fill="#f5dc46" stroke="#f5dc46" stroke-width="0.6"/>
<path d="M493.3 235.3L497.1 232.9L493.7 229.8L490 232.2Z" fill="#efdd46" stroke="#efdd46" stroke-width="0.6"/>
<path d="M500.5 236L504.2 233.6L500.9 230.4L497.1 232.9Z" fill="#e8dd46" stroke="#e8dd46" stroke-width="0.6"/>
<path d="M507.6 236.7L511.4 234.2L508 231.1L504.2 233.6Z" fill="#e1de46" stroke="#e1de46" stroke-width="0.6"/>
<path d="M514.8 237.3L518.5 234.8L515.1 231.7L511.4 234.2Z" fill="#dade46" stroke="#dade46" stroke-width="0.6"/>
<path d="M522 238L525.7 235.4L522.3 232.3L518.5 234.8Z" fill="#d3df46" stroke="#d3df46" stroke-width="0.6"/>
<path d="M529.2 238.5L532.9 235.9L529.4 232.8L525.7 235.4Z" fill="#ccdf46" stroke="#ccdf46" stroke-width="0.6"/>
<path d="M536.3 239.1L540 236.4L536.5 233.3L532.9 235.9Z" fill="#c5e046" stroke="#c5e046" stroke-width="0.6"/>
<path d="M543.5 239.6L547.2 236.9L543.7 233.8L540 236.4Z" fill="#bee046" stroke="#bee046" stroke-width="0.6"/>
<path d="M550.7 240.1L554.3 237.4L550.8 234.2L547.2 236.9Z" fill="#b7e146" stroke="#b7e146" stroke-width="0.6"/>
<path d="M557.9 240.5L561.5 237.8L558 234.7L554.3 237.4Z" fill="#b0e146" stroke="#b0e146" stroke-width="0.6"/>
<path d="M565.1 241L568.7 238.2L565.1 235.1L561.5 237.8Z" fill="#a8e246" stroke="#a8e246" stroke-width="0.6"/>
<path d="M572.3 241.4L575.8 238.6L572.3 235.4L568.7 238.2Z" fill="#a1e246" stroke="#a1e246" stroke-width="0.6"/>
<path d="M579.4 241.8L583 238.9L579.4 235.8L575.8 238.6Z" fill="#9ae346" stroke="#9ae346" stroke-width="0.6"/>
<path d="M586.6 242.1L590.1 239.3L586.5 236.1L583 238.9Z" fill="#92e346" stroke="#92e346" stroke-width="0.6"/>
<path d="M593.8 242.4L597.3 239.6L593.7 236.4L590.1 239.3Z" fill="#8be446" stroke="#8be446" stroke-width="0.6"/>
<path d="M489.5 237.7L493.3 235.3L490 232.2L486.2 234.5Z" fill="#ffd946" stroke="#ffd946" stroke-width="0.6"/>
<path d="M496.7 238.4L500.5 236L497.1 232.9L493.3 235.3Z" fill="#ffdd46" stroke="#ffdd46" stroke-width="0.6"/>
<path d="M503.9 239.2L507.6 236.7L504.2 233.6L500.5 236Z" fill="#f8de46" stroke="#f8de46" stroke-width="0.6"/>
<path d="M511.1 239.9L514.8 237.3L511.4 234.2L507.6 236.7Z" fill="#f1de46" stroke="#f1de46" stroke-width="0.6"/>
<path d="M518.2 240.5L522 238L518.5 234.8L514.8 237.3Z" fill="#eadf46" stroke="#eadf46" stroke-width="0.6"/>
<path d="M525.4 241.1L529.2 238.5L525.7 235.4L522 238Z" fill="#e3df46" stroke="#e3df46" stroke-width="0.6"/>
<path d="M532.6 241.7L536.3 239.1L532.9 235.9L529.2 238.5Z" fill="#dce046" stroke="#dce046" stroke-width="0.6"/>
<path d="M539.8 242.3L543.5 239.6L540 236.4L536.3 239.1Z" fill="#d4e046" stroke="#d4e046" stroke-width="0.6"/>
<path d="M547.1 242.8L550.7 240.1L547.2 236.9L543.5 239.6Z" fill="#cde146" stroke="#cde146" stroke-width="0.6"/>
<path d="M554.3 243.3L557.9 240.5L554.3 237.4L550.7 240.1Z" fill="#c6e146" stroke="#c6e146" stroke-width="0.6"/>
<path d="M561.5 243.7L565.1 241L561.5 237.8L557.9 240.5Z" fill="#bee246" stroke="#bee246" stroke-width="0.6"/>
<path d="M568.7 244.2L572.3 241.4L568.7 238.2L565.1 241Z" fill="#b7e246" stroke="#b7e246" stroke-width="0.6"/>
<path d="M575.9 244.6L579.4 241.8L575.8 238.6L572.3 241.4Z" fill="#afe346" stroke="#afe346" stroke-width="0.6"/>
<path d="M583.1 245L586.6 242.1L583 238.9L579.4 241.8Z" fill="#a8e346" stroke="#a8e346" stroke-width="0.6"/>
<path d="M590.3 245.3L593.8 242.4L590.1 239.3L586.6 242.1Z" fill="#a0e446" stroke="#a0e446" stroke-width="0.6"/>
<path d="M492.9 240.8L496.7 238.4L493.3 235.3L489.5 237.7Z" fill="#ffcf46" stroke="#ffcf46" stroke-width="0.6"/>
<path d="M500.1 241.6L503.9 239.2L500.5 236L496.7 238.4Z" fill="#ffd546" stroke="#ffd546" stroke-width="0.6"/>
<path d="M507.3 242.4L511.1 239.9L507.6 236.7L503.9 239.2Z" fill="#ffdb46" stroke="#ffdb46" stroke-width="0.6"/>
<path d="M514.5 243L518.2 240.5L514.8 237.3L511.1 239.9Z" fill="#ffdf46" stroke="#ffdf46" stroke-width="0.6"/>
<path d="M521.7 243.7L525.4 241.1L522 238L518.2 240.5Z" fill="#f9e046" stroke="#f9e046" stroke-width="0.6"/>
<path d="M528.9 244.3L532.6 241.7L529.2 238.5L525.4 241.1Z" fill="#f2e046" stroke="#f2e046" stroke-width="0.6"/>
<path d="M536.2 244.9L539.8 242.3L536.3 239.1L532.6 241.7Z" fill="#ebe146" stroke="#ebe146" stroke-width="0.6"/>
<path d="M543.4 245.5L547.1 242.8L543.5 239.6L539.8 242.3Z" fill="#e3e146" stroke="#e3e146" stroke-width="0.6"/>
<path d="M550.6 246L554.3 243.3L550.7 240.1L547.1 242.8Z" fill="#dce246" stroke="#dce246" stroke-width="0.6"/>
<path d="M557.8 246.5L561.5 243.7L557.9 240.5L554.3 243.3Z" fill="#d4e246" stroke="#d4e246" stroke-width="0.6"/>
<path d="M565.1 247L568.7 244.2L565.1 241L561.5 243.7Z" fill="#cde246" stroke="#cde246" stroke-width="0.6"/>
<path d="M572.3 247.4L575.9 244.6L572.3 241.4L568.7 244.2Z" fill="#c5e346" stroke="#c5e346" stroke-width="0.6"/>
<path d="M579.5 247.8L583.1 245L579.4 241.8L575.9 244.6Z" fill="#bde346" stroke="#bde346" stroke-width="0.6"/>
<path d="M586.7 248.2L590.3 245.3L586.6 242.1L583.1 245Z" fill="#b5e446" stroke="#b5e446" stroke-width="0.6"/>
<path d="M496.3 244.1L500.1 241.6L496.7 238.4L492.9 240.8Z" fill="#ffc646" stroke="#ffc646" stroke-width="0.6"/>
<path d="M503.5 244.8L507.3 242.4L503.9 239.2L500.1 241.6Z" fill="#ffcc46" stroke="#ffcc46" stroke-width="0.6"/>
<path d="M510.7 245.6L514.5 243L511.1 239.9L507.3 242.4Z" fill="#ffd146" stroke="#ffd146" stroke-width="0.6"/>
<path d="M518 246.3L521.7 243.7L518.2 240.5L514.5 243Z" fill="#ffd746" stroke="#ffd746" stroke-width="0.6"/>
<path d="M525.2 246.9L528.9 244.3L525.4 241.1L521.7 243.7Z" fill="#ffdd46" stroke="#ffdd46" stroke-width="0.6"/>
<path d="M532.4 247.6L536.2 244.9L532.6 241.7L528.9 244.3Z" fill="#ffe146" stroke="#ffe146" stroke-width="0.6"/>
<path d="M539.7 248.2L543.4 245.5L539.8 242.3L536.2 244.9Z" fill="#f9e146" stroke="#f9e146" stroke-width="0.6"/>
<path d="M546.9 248.7L550.6 246L547.1 242.8L543.4 245.5Z" fill="#f2e246" stroke="#f2e246" stroke-width="0.6"/>
<path d="M554.2 249.2L557.8 246.5L554.3 243.3L550.6 246Z" fill="#eae246" stroke="#eae246" stroke-width="0.6"/>
<path d="M561.4 249.7L565.1 247L561.5 243.7L557.8 246.5Z" fill="#e2e346" stroke="#e2e346" stroke-width="0.6"/>
<path d="M568.7 250.2L572.3 247.4L568.7 244.2L565.1 247Z" fill="#dbe346" stroke="#dbe346" stroke-width="0.6"/>
<path d="M575.9 250.6L579.5 247.8L575.9 244.6L572.3 247.4Z" fill="#d3e446" stroke="#d3e446" stroke-width="0.6"/>
<path d="M583.2 251L586.7 248.2L583.1 245L579.5 247.8Z" fill="#cbe446" stroke="#cbe446" stroke-width="0.6"/>
<path d="M499.7 247.3L503.5 244.8L500.1 241.6L496.3 244.1Z" fill="#ffbc46" stroke="#ffbc46" stroke-width="0.6"/>
<path d="M506.9 248.1L510.7 245.6L507.3 242.4L503.5 244.8Z" fill="#ffc246" stroke="#ffc246" stroke-width="0.6"/>
<path d="M514.2 248.8L518 246.3L514.5 243L510.7 245.6Z" fill="#ffc846" stroke="#ffc846" stroke-width="0.6"/>
<path d="M521.4 249.5L525.2 246.9L521.7 243.7L518 246.3Z" fill="#ffce46" stroke="#ffce46" stroke-width="0.6"/>
<path d="M528.7 250.2L532.4 247.6L528.9 244.3L525.2 246.9Z" fill="#ffd446" stroke="#ffd446" stroke-width="0.6"/>
<path d="M536 250.8L539.7 248.2L536.2 244.9L532.4 247.6Z" fill="#ffda46" stroke="#ffda46" stroke-width="0.6"/>
<path d="M543.2 251.4L546.9 248.7L543.4 245.5L539.7 248.2Z" fill="#ffe046" stroke="#ffe046" stroke-width="0.6"/>
<path d="M550.5 252L554.2 249.2L550.6 246L546.9 248.7Z" fill="#ffe246" stroke="#ffe246" stroke-width="0.6"/>
<path d="M557.8 252.5L561.4 249.7L557.8 246.5L554.2 249.2Z" fill="#f8e346" stroke="#f8e346" stroke-width="0.6"/>
<path d="M565 253L568.7 250.2L565.1 247L561.4 249.7Z" fill="#f0e346" stroke="#f0e346" stroke-width="0.6"/>
<path d="M572.3 253.5L575.9 250.6L572.3 247.4L568.7 250.2Z" fill="#e8e446" stroke="#e8e446" stroke-width="0.6"/>
<path d="M579.6 253.9L583.2 251L579.5 247.8L575.9 250.6Z" fill="#e0e446" stroke="#e0e446" stroke-width="0.6"/>
<path d="M503.1 250.6L506.9 248.1L503.5 244.8L499.7 247.3Z" fill="#ffb346" stroke="#ffb346" stroke-width="0.6"/>
<path d="M510.4 251.4L514.2 248.8L510.7 245.6L506.9 248.1Z" fill="#ffb946" stroke="#ffb946" stroke-width="0.6"/>
<path d="M517.7 252.1L521.4 249.5L518 246.3L514.2 248.8Z" fill="#ffbf46" stroke="#ffbf46" stroke-width="0.6"/>
<path d="M525 252.8L528.7 250.2L525.2 246.9L521.4 249.5Z" fill="#ffc546" stroke="#ffc546" stroke-width="0.6"/>
<path d="M532.2 253.5L536 250.8L532.4 247.6L528.7 250.2Z" fill="#ffcc46" stroke="#ffcc46" stroke-width="0.6"/>
<path d="M539.5 254.1L543.2 251.4L539.7 248.2L536 250.8Z" fill="#ffd246" stroke="#ffd246" stroke-width="0.6"/>
<path d="M546.8 254.7L550.5 252L546.9 248.7L543.2 251.4Z" fill="#ffd846" stroke="#ffd846" stroke-width="0.6"/>
<path d="M554.1 255.3L557.8 252.5L554.2 249.2L550.5 252Z" fill="#ffde46" stroke="#ffde46" stroke-width="0.6"/>
<path d="M561.4 255.8L565 253L561.4 249.7L557.8 252.5Z" fill="#ffe446" stroke="#ffe446" stroke-width="0.6"/>
<path d="M568.7 256.3L572.3 253.5L568.7 250.2L565 253Z" fill="#fee446" stroke="#fee446" stroke-width="0.6"/>
<path d="M576 256.8L579.6 253.9L575.9 250.6L572.3 253.5Z" fill="#f6e446" stroke="#f6e446" stroke-width="0.6"/>
<path d="M506.6 253.9L510.4 251.4L506.9 248.1L503.1 250.6Z" fill="#ffaa46" stroke="#ffaa46" stroke-width="0.6"/>
<path d="M513.9 254.7L517.7 252.1L514.2 248.8L510.4 251.4Z" fill="#ffb046" stroke="#ffb046" stroke-width="0.6"/>
<path d="M521.2 255.4L525 252.8L521.4 249.5L517.7 252.1Z" fill="#ffb746" stroke="#ffb746" stroke-width="0.6"/>
<path d="M528.5 256.1L532.2 253.5L528.7 250.2L525 252.8Z" fill="#ffbd46" stroke="#ffbd46" stroke-width="0.6"/>
<path d="M535.8 256.8L539.5 254.1L536 250.8L532.2 253.5Z" fill="#ffc346" stroke="#ffc346" stroke-width="0.6"/>
<path d="M543.1 257.4L546.8 254.7L543.2 251.4L539.5 254.1Z" fill="#ffc946" stroke="#ffc946" stroke-width="0.6"/>
<path d="M550.4 258L554.1 255.3L550.5 252L546.8 254.7Z" fill="#ffd046" stroke="#ffd046" stroke-width="0.6"/>
<path d="M557.7 258.6L561.4 255.8L557.8 252.5L554.1 255.3Z" fill="#ffd646" stroke="#ffd646" stroke-width="0.6"/>
<path d="M565 259.1L568.7 256.3L565 253L561.4 255.8Z" fill="#ffdd46" stroke="#ffdd46" stroke-width="0.6"/>
<path d="M572.4 259.6L576 256.8L572.3 253.5L568.7 256.3Z" fill="#ffe346" stroke="#ffe346" stroke-width="0.6"/>
<path d="M510.1 257.2L513.9 254.7L510.4 251.4L506.6 253.9Z" fill="#ffa146" stroke="#ffa146" stroke-width="0.6"/>
<path d="M517.4 258L521.2 255.4L517.7 252.1L513.9 254.7Z" fill="#ffa846" stroke="#ffa846" stroke-width="0.6"/>
<path d="M524.7 258.8L528.5 256.1L525 252.8L521.2 255.4Z" fill="#ffae46" stroke="#ffae46" stroke-width="0.6"/>
<path d="M532.1 259.5L535.8 256.8L532.2 253.5L528.5 256.1Z" fill="#ffb446" stroke="#ffb446" stroke-width="0.6"/>
<path d="M539.4 260.2L543.1 257.4L539.5 254.1L535.8 256.8Z" fill="#ffbb46" stroke="#ffbb46" stroke-width="0.6"/>
<path d="M546.7 260.8L550.4 258L546.8 254.7L543.1 257.4Z" fill="#ffc146" stroke="#ffc146" stroke-width="0.6"/>
<path d="M554.1 261.4L557.7 258.6L554.1 255.3L550.4 258Z" fill="#ffc846" stroke="#ffc846" stroke-width="0.6"/>
<path d="M561.4 262L565 259.1L561.4 255.8L557.7 258.6Z" fill="#ffce46" stroke="#ffce46" stroke-width="0.6"/>
<path d="M568.7 262.5L572.4 259.6L568.7 256.3L565 259.1Z" fill="#ffd546" stroke="#ffd546" stroke-width="0.6"/>
<path d="M513.6 260.6L517.4 258L513.9 254.7L510.1 257.2Z" fill="#ff9946" stroke="#ff9946" stroke-width="0.6"/>
<path d="M521 261.4L524.7 258.8L521.2 255.4L517.4 258Z" fill="#ff9f46" stroke="#ff9f46" stroke-width="0.6"/>
<path d="M528.3 262.1L532.1 259.5L528.5 256.1L524.7 258.8Z" fill="#ffa546" stroke="#ffa546" stroke-width="0.6"/>
<path d="M535.6 262.8L539.4 260.2L535.8 256.8L532.1 259.5Z" fill="#ffac46" stroke="#ffac46" stroke-width="0.6"/>
<path d="M543 263.5L546.7 260.8L543.1 257.4L539.4 260.2Z" fill="#ffb246" stroke="#ffb246" stroke-width="0.6"/>
<path d="M550.4 264.2L554.1 261.4L550.4 258L546.7 260.8Z" fill="#ffb946" stroke="#ffb946" stroke-width="0.6"/>
<path d="M557.7 264.8L561.4 262L557.7 258.6L554.1 261.4Z" fill="#ffc046" stroke="#ffc046" stroke-width="0.6"/>
<path d="M565.1 265.3L568.7 262.5L565 259.1L561.4 262Z" fill="#ffc646" stroke="#ffc646" stroke-width="0.6"/>
<path d="M517.2 263.9L521 261.4L517.4 258L513.6 260.6Z" fill="#ff9046" stroke="#ff9046" stroke-width="0.6"/>
<path d="M524.5 264.8L528.3 262.1L524.7 258.8L521 261.4Z" fill="#ff9746" stroke="#ff9746" stroke-width="0.6"/>
<path d="M531.9 265.5L535.6 262.8L532.1 259.5L528.3 262.1Z" fill="#ff9d46" stroke="#ff9d46" stroke-width="0.6"/>
<path d="M539.3 266.2L543 263.5L539.4 260.2L535.6 262.8Z" fill="#ffa446" stroke="#ffa446" stroke-width="0.6"/>
<path d="M546.6 266.9L550.4 264.2L546.7 260.8L543 263.5Z" fill="#ffaa46" stroke="#ffaa46" stroke-width="0.6"/>
<path d="M554 267.6L557.7 264.8L554.1 261.4L550.4 264.2Z" fill="#ffb146" stroke="#ffb146" stroke-width="0.6"/>
<path d="M561.4 268.2L565.1 265.3L561.4 262L557.7 264.8Z" fill="#ffb846" stroke="#ffb846" stroke-width="0.6"/>
<path d="M520.7 267.4L524.5 264.8L521 261.4L517.2 263.9Z" fill="#ff8846" stroke="#ff8846" stroke-width="0.6"/>
<path d="M528.1 268.2L531.9 265.5L528.3 262.1L524.5 264.8Z" fill="#ff8e46" stroke="#ff8e46" stroke-width="0.6"/>
<path d="M535.5 268.9L539.3 266.2L535.6 262.8L531.9 265.5Z" fill="#ff9546" stroke="#ff9546" stroke-width="0.6"/>
<path d="M542.9 269.7L546.6 266.9L543 263.5L539.3 266.2Z" fill="#ff9c46" stroke="#ff9c46" stroke-width="0.6"/>
<path d="M550.3 270.4L554 267.6L550.4 264.2L546.6 266.9Z" fill="#ffa346" stroke="#ffa346" stroke-width="0.6"/>
<path d="M557.7 271L561.4 268.2L557.7 264.8L554 267.6Z" fill="#ffa946" stroke="#ffa946" stroke-width="0.6"/>
<path d="M524.3 270.8L528.1 268.2L524.5 264.8L520.7 267.4Z" fill="#ff7f46" stroke="#ff7f46" stroke-width="0.6"/>
<path d="M531.7 271.6L535.5 268.9L531.9 265.5L528.1 268.2Z" fill="#ff8646" stroke="#ff8646" stroke-width="0.6"/>
<path d="M539.1 272.4L542.9 269.7L539.3 266.2L535.5 268.9Z" fill="#ff8d46" stroke="#ff8d46" stroke-width="0.6"/>
<path d="M546.6 273.1L550.3 270.4L546.6 266.9L542.9 269.7Z" fill="#ff9446" stroke="#ff9446" stroke-width="0.6"/>
<path d="M554 273.8L557.7 271L554 267.6L550.3 270.4Z" fill="#ff9b46" stroke="#ff9b46" stroke-width="0.6"/>
<path d="M527.9 274.3L531.7 271.6L528.1 268.2L524.3 270.8Z" fill="#ff7746" stroke="#ff7746" stroke-width="0.6"/>
<path d="M535.4 275.1L539.1 272.4L535.5 268.9L531.7 271.6Z" fill="#ff7e46" stroke="#ff7e46" stroke-width="0.6"/>
<path d="M542.8 275.9L546.6 273.1L542.9 269.7L539.1 272.4Z" fill="#ff8546" stroke="#ff8546" stroke-width="0.6"/>
<path d="M550.2 276.6L554 273.8L550.3 270.4L546.6 273.1Z" fill="#ff8c46" stroke="#ff8c46" stroke-width="0.6"/>
<path d="M531.6 277.8L535.4 275.1L531.7 271.6L527.9 274.3Z" fill="#ff7046" stroke="#ff7046" stroke-width="0.6"/>
<path d="M539 278.6L542.8 275.9L539.1 272.4L535.4 275.1Z" fill="#ff7746" stroke="#ff7746" stroke-width="0.6"/>
<path d="M546.5 279.4L550.2 276.6L546.6 273.1L542.8 275.9Z" fill="#ff7e46" stroke="#ff7e46" stroke-width="0.6"/>
<path d="M535.2 281.3L539 278.6L535.4 275.1L531.6 277.8Z" fill="#ff6846" stroke="#ff6846" stroke-width="0.6"/>
<path d="M542.7 282.2L546.5 279.4L542.8 275.9L539 278.6Z" fill="#ff6f46" stroke="#ff6f46" stroke-width="0.6"/>
<path d="M538.9 284.9L542.7 282.2L539 278.6L535.2 281.3Z" fill="#ff6046" stroke="#ff6046" stroke-width="0.6"/>
<defs><pattern id="ck" width="3.1" height="4.14" patternUnits="userSpaceOnUse"><g fill="#000" fill-opacity="0.7"><ellipse cx="0" cy="0" rx="0.95" ry="0.8"/><ellipse cx="3.1" cy="0" rx="0.95" ry="0.8"/><ellipse cx="0" cy="4.14" rx="0.95" ry="0.8"/><ellipse cx="3.1" cy="4.14" rx="0.95" ry="0.8"/><ellipse cx="1.55" cy="2.07" rx="0.95" ry="0.8"/></g></pattern></defs>
<path d="M409.3 166.5L413 164.6L416.7 162.8L420.3 160.9L424 159L427.6 157.1L431.2 155.1L434.8 153.2L438.4 151.2L441.9 149.3L445.5 147.3L449 145.3L452.5 143.3L456 141.3L459.5 139.3L463 137.4L466.5 135.4L470 133.4L473.4 131.4L476.8 129.4L480.2 127.5L483.6 125.5L487 123.6L490.4 121.7L493.8 119.8L497.1 117.9L500.4 116L503.7 114.1L507 112.3L510.3 110.5L513.6 108.7L516.9 107L520.1 105.2L523.3 103.5L526.6 101.9L529.8 100.2L533 98.6L536.1 97.1L539.3 95.6L542.4 94.1L545.6 92.7L545.6 92.7L548.7 94.3L551.7 95.9L554.8 97.6L557.9 99.3L561 101L564.1 102.7L567.2 104.5L570.4 106.3L573.5 108.1L576.6 110L579.8 111.8L583 113.7L586.1 115.6L589.3 117.6L592.5 119.6L595.7 121.5L598.9 123.6L602.1 125.6L605.3 127.7L608.5 129.7L611.8 131.8L615 134L618.3 136.1L621.6 138.3L624.9 140.5L628.2 142.7L631.5 145L634.8 147.2L638.2 149.5L641.5 151.8L644.9 154.2L648.2 156.5L651.6 158.9L655 161.3L658.5 163.7L661.9 166.1L665.3 168.6L668.8 171.1L672.3 173.6L675.8 176.1L675.8 176.1L672.7 178.4L669.6 180.7L666.6 183.1L663.4 185.5L660.3 188L657.2 190.4L654 193L650.8 195.5L647.6 198.1L644.4 200.7L641.2 203.4L637.9 206L634.6 208.7L631.3 211.5L628 214.2L624.7 217L621.3 219.7L617.9 222.5L614.5 225.3L611.1 228.2L607.7 231L604.3 233.8L600.8 236.7L597.3 239.6L593.8 242.4L590.3 245.3L586.7 248.2L583.2 251L579.6 253.9L576 256.8L572.4 259.6L568.7 262.5L565.1 265.3L561.4 268.2L557.7 271L554 273.8L550.2 276.6L546.5 279.4L542.7 282.2L538.9 284.9L538.9 284.9L535.2 281.3L531.6 277.8L527.9 274.3L524.3 270.8L520.7 267.4L517.2 263.9L513.6 260.6L510.1 257.2L506.6 253.9L503.1 250.6L499.7 247.3L496.3 244.1L492.9 240.8L489.5 237.7L486.2 234.5L482.8 231.4L479.5 228.3L476.3 225.3L473 222.3L469.8 219.3L466.6 216.3L463.4 213.4L460.2 210.5L457 207.7L453.9 204.8L450.8 202L447.7 199.3L444.7 196.6L441.6 193.9L438.6 191.2L435.6 188.6L432.6 186L429.6 183.4L426.7 180.9L423.7 178.4L420.8 175.9L417.9 173.5L415 171.1L412.2 168.8L409.3 166.5Z" fill="url(#ck)"/>
<ellipse cx="409.4" cy="166.5" rx="2.5" ry="2.75" fill="#e89090" stroke="#500" stroke-width="0.5"/>
<ellipse cx="438.9" cy="191.2" rx="2.5" ry="2.75" fill="#d00000" stroke="#500" stroke-width="0.5"/>
<ellipse cx="469.3" cy="219.9" rx="2.5" ry="2.75" fill="#e89090" stroke="#500" stroke-width="0.5"/>
<ellipse cx="503.3" cy="250.3" rx="2.5" ry="2.75" fill="#d00000" stroke="#500" stroke-width="0.5"/>
<ellipse cx="538.8" cy="284.4" rx="2.5" ry="2.75" fill="#d00000" stroke="#500" stroke-width="0.5"/>
<ellipse cx="576.4" cy="257.8" rx="2.5" ry="2.75" fill="#e89090" stroke="#500" stroke-width="0.5"/>
<ellipse cx="610.7" cy="228" rx="2.5" ry="2.75" fill="#d00000" stroke="#500" stroke-width="0.5"/>
<ellipse cx="644.5" cy="200.5" rx="2.5" ry="2.75" fill="#d00000" stroke="#500" stroke-width="0.5"/>
<ellipse cx="675.8" cy="175.9" rx="2.5" ry="2.75" fill="#e89090" stroke="#500" stroke-width="0.5"/>
<ellipse cx="542.6" cy="171.4" rx="2.5" ry="2.75" fill="#d00000" stroke="#500" stroke-width="0.5"/>
</svg>
</body></html>
